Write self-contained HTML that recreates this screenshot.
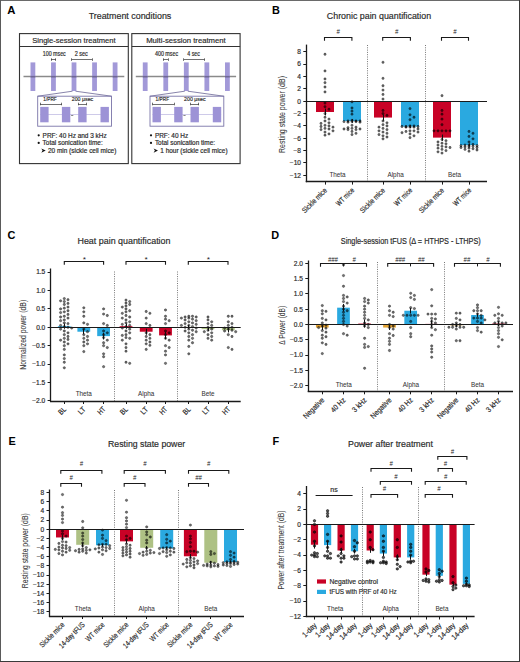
<!DOCTYPE html>
<html><head><meta charset="utf-8"><style>
html,body{margin:0;padding:0;background:#fff;}
svg{display:block;font-family:"Liberation Sans", sans-serif;}
</style></head><body>
<svg width="520" height="662" viewBox="0 0 520 662">
<rect x="0" y="0" width="520" height="662" fill="#fff"/>
<rect x="0" y="0" width="520" height="1" fill="#6a6a6a"/>
<rect x="0" y="0" width="1" height="662" fill="#5a5a5a"/>
<rect x="519" y="0" width="1" height="662" fill="#3a3a3a"/>
<rect x="0" y="661" width="520" height="1" fill="#3a3a3a"/>
<text x="7.2" y="13.7" font-size="11.3" text-anchor="start" fill="#000" font-weight="bold">A</text>
<text x="130" y="19.2" font-size="9.6" text-anchor="middle" fill="#2a2a2a" stroke="#2a2a2a" stroke-width="0.18" textLength="82.6" lengthAdjust="spacingAndGlyphs">Treatment conditions</text>
<rect x="19.5" y="33.6" width="108.8" height="130" fill="none" stroke="#333" stroke-width="1.1"/>
<line x1="19.5" y1="46.5" x2="128.3" y2="46.5" stroke="#333" stroke-width="1.1"/>
<text x="73.9" y="42.6" font-size="8" text-anchor="middle" fill="#2a2a2a" stroke="#2a2a2a" stroke-width="0.18" textLength="83.4" lengthAdjust="spacingAndGlyphs">Single-session treatment</text>
<line x1="23.5" y1="76.5" x2="124.3" y2="76.5" stroke="#8a8a8a" stroke-width="1.6"/>
<rect x="30.5" y="62.4" width="4.8" height="28.6" fill="#9d93d6" opacity="0.95"/>
<rect x="51.05" y="62.4" width="4.8" height="28.6" fill="#9d93d6" opacity="0.95"/>
<rect x="71.6" y="62.4" width="4.8" height="28.6" fill="#9d93d6" opacity="0.95"/>
<rect x="92.15" y="62.4" width="4.8" height="28.6" fill="#9d93d6" opacity="0.95"/>
<rect x="112.7" y="62.4" width="4.8" height="28.6" fill="#9d93d6" opacity="0.95"/>
<rect x="30.5" y="75.9" width="4.8" height="1.6" fill="#6f6796"/>
<rect x="51.05" y="75.9" width="4.8" height="1.6" fill="#6f6796"/>
<rect x="71.6" y="75.9" width="4.8" height="1.6" fill="#6f6796"/>
<rect x="92.15" y="75.9" width="4.8" height="1.6" fill="#6f6796"/>
<rect x="112.7" y="75.9" width="4.8" height="1.6" fill="#6f6796"/>
<text x="54.25" y="56.4" font-size="6.5" text-anchor="middle" fill="#2a2a2a" stroke="#2a2a2a" stroke-width="0.18" textLength="23" lengthAdjust="spacingAndGlyphs">100 msec</text>
<text x="81.28" y="56.4" font-size="6.5" text-anchor="middle" fill="#2a2a2a" stroke="#2a2a2a" stroke-width="0.18" textLength="13.2" lengthAdjust="spacingAndGlyphs">2 sec</text>
<line x1="51.05" y1="59.5" x2="55.85" y2="59.5" stroke="#333" stroke-width="0.7"/>
<line x1="51.5" y1="58.3" x2="51.5" y2="60.9" stroke="#333" stroke-width="0.7"/>
<line x1="55.5" y1="58.3" x2="55.5" y2="60.9" stroke="#333" stroke-width="0.7"/>
<line x1="71.6" y1="59.5" x2="92.15" y2="59.5" stroke="#333" stroke-width="0.7"/>
<line x1="71.5" y1="58.3" x2="71.5" y2="60.9" stroke="#333" stroke-width="0.7"/>
<line x1="92.5" y1="58.3" x2="92.5" y2="60.9" stroke="#333" stroke-width="0.7"/>
<line x1="72.5" y1="91.2" x2="37.7" y2="96.2" stroke="#6a6496" stroke-width="0.8"/>
<line x1="75.5" y1="91.2" x2="111.5" y2="96.2" stroke="#6a6496" stroke-width="0.8"/>
<rect x="37.7" y="96.2" width="73.8" height="30" fill="none" stroke="#7a74a8" stroke-width="0.9"/>
<line x1="40.2" y1="114.5" x2="108.8" y2="114.5" stroke="#b9b3e0" stroke-width="0.7"/>
<rect x="40.2" y="106.9" width="8.4" height="15.4" fill="#9d93d6"/>
<rect x="61.9" y="106.9" width="8.4" height="15.4" fill="#9d93d6"/>
<rect x="78.2" y="106.9" width="8.4" height="15.4" fill="#9d93d6"/>
<rect x="100.5" y="106.9" width="8.4" height="15.4" fill="#9d93d6"/>
<line x1="71.1" y1="115.5" x2="73.3" y2="115.5" stroke="#555" stroke-width="0.7"/>
<text x="50" y="101.4" font-size="5.9" text-anchor="middle" fill="#2a2a2a" stroke="#2a2a2a" stroke-width="0.18" textLength="13.5" lengthAdjust="spacingAndGlyphs">1/PRF</text>
<text x="82.5" y="101.4" font-size="6.0" text-anchor="middle" fill="#2a2a2a" stroke="#2a2a2a" stroke-width="0.18" textLength="21.5" lengthAdjust="spacingAndGlyphs">200 μsec</text>
<line x1="40.2" y1="104.5" x2="61.9" y2="104.5" stroke="#333" stroke-width="0.7"/>
<line x1="40.5" y1="102.7" x2="40.5" y2="105.3" stroke="#333" stroke-width="0.7"/>
<line x1="61.5" y1="102.7" x2="61.5" y2="105.3" stroke="#333" stroke-width="0.7"/>
<line x1="78.2" y1="104.5" x2="86.6" y2="104.5" stroke="#333" stroke-width="0.7"/>
<line x1="78.5" y1="102.7" x2="78.5" y2="105.3" stroke="#333" stroke-width="0.7"/>
<line x1="86.5" y1="102.7" x2="86.5" y2="105.3" stroke="#333" stroke-width="0.7"/>
<circle cx="38.7" cy="135.3" r="1.1" fill="#111"/>
<text x="42.6" y="137.6" font-size="6.45" text-anchor="start" fill="#2a2a2a" stroke="#2a2a2a" stroke-width="0.18">PRF: 40 Hz and 3 kHz</text>
<circle cx="38.7" cy="142.9" r="1.1" fill="#111"/>
<text x="42.6" y="145.2" font-size="6.45" text-anchor="start" fill="#2a2a2a" stroke="#2a2a2a" stroke-width="0.18">Total sonication time:</text>
<path d="M41.3 148.4 L45.7 150.6 L41.3 152.7 L42.6 150.6 Z" stroke="none" stroke-width="0" fill="#111"/>
<text x="48" y="152.8" font-size="6.45" text-anchor="start" fill="#2a2a2a" stroke="#2a2a2a" stroke-width="0.18">20 min (sickle cell mice)</text>
<rect x="131.8" y="33.6" width="108.3" height="130" fill="none" stroke="#333" stroke-width="1.1"/>
<line x1="131.8" y1="46.5" x2="240.1" y2="46.5" stroke="#333" stroke-width="1.1"/>
<text x="185.95" y="42.6" font-size="8" text-anchor="middle" fill="#2a2a2a" stroke="#2a2a2a" stroke-width="0.18" textLength="79.6" lengthAdjust="spacingAndGlyphs">Multi-session treatment</text>
<line x1="135.8" y1="76.5" x2="236.1" y2="76.5" stroke="#8a8a8a" stroke-width="1.6"/>
<rect x="142.8" y="62.4" width="4.8" height="28.6" fill="#9d93d6" opacity="0.95"/>
<rect x="163.35" y="62.4" width="4.8" height="28.6" fill="#9d93d6" opacity="0.95"/>
<rect x="183.9" y="62.4" width="4.8" height="28.6" fill="#9d93d6" opacity="0.95"/>
<rect x="204.45" y="62.4" width="4.8" height="28.6" fill="#9d93d6" opacity="0.95"/>
<rect x="225" y="62.4" width="4.8" height="28.6" fill="#9d93d6" opacity="0.95"/>
<rect x="142.8" y="75.9" width="4.8" height="1.6" fill="#6f6796"/>
<rect x="163.35" y="75.9" width="4.8" height="1.6" fill="#6f6796"/>
<rect x="183.9" y="75.9" width="4.8" height="1.6" fill="#6f6796"/>
<rect x="204.45" y="75.9" width="4.8" height="1.6" fill="#6f6796"/>
<rect x="225" y="75.9" width="4.8" height="1.6" fill="#6f6796"/>
<text x="166.55" y="56.4" font-size="6.5" text-anchor="middle" fill="#2a2a2a" stroke="#2a2a2a" stroke-width="0.18" textLength="23.2" lengthAdjust="spacingAndGlyphs">400 msec</text>
<text x="193.58" y="56.4" font-size="6.5" text-anchor="middle" fill="#2a2a2a" stroke="#2a2a2a" stroke-width="0.18" textLength="12.7" lengthAdjust="spacingAndGlyphs">4 sec</text>
<line x1="163.35" y1="59.5" x2="168.15" y2="59.5" stroke="#333" stroke-width="0.7"/>
<line x1="163.5" y1="58.3" x2="163.5" y2="60.9" stroke="#333" stroke-width="0.7"/>
<line x1="168.5" y1="58.3" x2="168.5" y2="60.9" stroke="#333" stroke-width="0.7"/>
<line x1="183.9" y1="59.5" x2="204.45" y2="59.5" stroke="#333" stroke-width="0.7"/>
<line x1="183.5" y1="58.3" x2="183.5" y2="60.9" stroke="#333" stroke-width="0.7"/>
<line x1="204.5" y1="58.3" x2="204.5" y2="60.9" stroke="#333" stroke-width="0.7"/>
<line x1="184.8" y1="91.2" x2="150" y2="96.2" stroke="#6a6496" stroke-width="0.8"/>
<line x1="187.8" y1="91.2" x2="223.8" y2="96.2" stroke="#6a6496" stroke-width="0.8"/>
<rect x="150" y="96.2" width="73.8" height="30" fill="none" stroke="#7a74a8" stroke-width="0.9"/>
<line x1="152.5" y1="114.5" x2="221.1" y2="114.5" stroke="#b9b3e0" stroke-width="0.7"/>
<rect x="152.5" y="106.9" width="8.4" height="15.4" fill="#9d93d6"/>
<rect x="174.2" y="106.9" width="8.4" height="15.4" fill="#9d93d6"/>
<rect x="190.5" y="106.9" width="8.4" height="15.4" fill="#9d93d6"/>
<rect x="212.8" y="106.9" width="8.4" height="15.4" fill="#9d93d6"/>
<line x1="183.4" y1="115.5" x2="185.6" y2="115.5" stroke="#555" stroke-width="0.7"/>
<text x="162.3" y="101.4" font-size="5.9" text-anchor="middle" fill="#2a2a2a" stroke="#2a2a2a" stroke-width="0.18" textLength="13.5" lengthAdjust="spacingAndGlyphs">1/PRF</text>
<text x="194.8" y="101.4" font-size="6.0" text-anchor="middle" fill="#2a2a2a" stroke="#2a2a2a" stroke-width="0.18" textLength="21.5" lengthAdjust="spacingAndGlyphs">200 μsec</text>
<line x1="152.5" y1="104.5" x2="174.2" y2="104.5" stroke="#333" stroke-width="0.7"/>
<line x1="152.5" y1="102.7" x2="152.5" y2="105.3" stroke="#333" stroke-width="0.7"/>
<line x1="174.5" y1="102.7" x2="174.5" y2="105.3" stroke="#333" stroke-width="0.7"/>
<line x1="190.5" y1="104.5" x2="198.9" y2="104.5" stroke="#333" stroke-width="0.7"/>
<line x1="190.5" y1="102.7" x2="190.5" y2="105.3" stroke="#333" stroke-width="0.7"/>
<line x1="198.5" y1="102.7" x2="198.5" y2="105.3" stroke="#333" stroke-width="0.7"/>
<circle cx="151" cy="135.3" r="1.1" fill="#111"/>
<text x="154.9" y="137.6" font-size="6.45" text-anchor="start" fill="#2a2a2a" stroke="#2a2a2a" stroke-width="0.18">PRF: 40 Hz</text>
<circle cx="151" cy="142.9" r="1.1" fill="#111"/>
<text x="154.9" y="145.2" font-size="6.45" text-anchor="start" fill="#2a2a2a" stroke="#2a2a2a" stroke-width="0.18">Total sonication time:</text>
<path d="M153.6 148.4 L158 150.6 L153.6 152.7 L154.9 150.6 Z" stroke="none" stroke-width="0" fill="#111"/>
<text x="160.3" y="152.8" font-size="6.45" text-anchor="start" fill="#2a2a2a" stroke="#2a2a2a" stroke-width="0.18">1 hour (sickle cell mice)</text>
<text x="272" y="13.8" font-size="10.9" text-anchor="start" fill="#000" font-weight="bold">B</text>
<text x="379" y="19.4" font-size="9.6" text-anchor="middle" fill="#2a2a2a" stroke="#2a2a2a" stroke-width="0.18" textLength="104.3" lengthAdjust="spacingAndGlyphs">Chronic pain quantification</text>
<line x1="367.5" y1="45" x2="367.5" y2="181.6" stroke="#555" stroke-width="0.8" stroke-dasharray="1 1.3"/>
<line x1="425.5" y1="45" x2="425.5" y2="181.6" stroke="#555" stroke-width="0.8" stroke-dasharray="1 1.3"/>
<rect x="316" y="101.2" width="18" height="10.81" fill="#c80226"/>
<rect x="343" y="101.2" width="18" height="19.76" fill="#2aa9e0"/>
<rect x="374" y="101.2" width="18" height="16.36" fill="#c80226"/>
<rect x="401" y="101.2" width="18" height="25.32" fill="#2aa9e0"/>
<rect x="433" y="101.2" width="18" height="36.43" fill="#c80226"/>
<rect x="460" y="101.2" width="18" height="43.84" fill="#2aa9e0"/>
<circle cx="325" cy="54.27" r="1.15" fill="rgba(0,0,0,0.55)" stroke="rgba(0,0,0,0.62)" stroke-width="0.6"/>
<circle cx="325" cy="70.94" r="1.15" fill="rgba(0,0,0,0.55)" stroke="rgba(0,0,0,0.62)" stroke-width="0.6"/>
<circle cx="325" cy="78.97" r="1.15" fill="rgba(0,0,0,0.55)" stroke="rgba(0,0,0,0.62)" stroke-width="0.6"/>
<circle cx="325" cy="82.68" r="1.15" fill="rgba(0,0,0,0.55)" stroke="rgba(0,0,0,0.62)" stroke-width="0.6"/>
<circle cx="325" cy="87" r="1.15" fill="rgba(0,0,0,0.55)" stroke="rgba(0,0,0,0.62)" stroke-width="0.6"/>
<circle cx="325" cy="91.94" r="1.15" fill="rgba(0,0,0,0.55)" stroke="rgba(0,0,0,0.62)" stroke-width="0.6"/>
<circle cx="325" cy="103.05" r="1.15" fill="rgba(0,0,0,0.55)" stroke="rgba(0,0,0,0.62)" stroke-width="0.6"/>
<circle cx="325" cy="106.76" r="1.15" fill="rgba(0,0,0,0.55)" stroke="rgba(0,0,0,0.62)" stroke-width="0.6"/>
<circle cx="329" cy="109.23" r="1.15" fill="rgba(0,0,0,0.55)" stroke="rgba(0,0,0,0.62)" stroke-width="0.6"/>
<circle cx="325" cy="113.55" r="1.15" fill="rgba(0,0,0,0.55)" stroke="rgba(0,0,0,0.62)" stroke-width="0.6"/>
<circle cx="325" cy="117.25" r="1.15" fill="rgba(0,0,0,0.55)" stroke="rgba(0,0,0,0.62)" stroke-width="0.6"/>
<circle cx="329" cy="119.11" r="1.15" fill="rgba(0,0,0,0.55)" stroke="rgba(0,0,0,0.62)" stroke-width="0.6"/>
<circle cx="325" cy="120.96" r="1.15" fill="rgba(0,0,0,0.55)" stroke="rgba(0,0,0,0.62)" stroke-width="0.6"/>
<circle cx="329" cy="122.81" r="1.15" fill="rgba(0,0,0,0.55)" stroke="rgba(0,0,0,0.62)" stroke-width="0.6"/>
<circle cx="321" cy="123.43" r="1.15" fill="rgba(0,0,0,0.55)" stroke="rgba(0,0,0,0.62)" stroke-width="0.6"/>
<circle cx="325" cy="125.28" r="1.15" fill="rgba(0,0,0,0.55)" stroke="rgba(0,0,0,0.62)" stroke-width="0.6"/>
<circle cx="329" cy="125.9" r="1.15" fill="rgba(0,0,0,0.55)" stroke="rgba(0,0,0,0.62)" stroke-width="0.6"/>
<circle cx="321" cy="126.52" r="1.15" fill="rgba(0,0,0,0.55)" stroke="rgba(0,0,0,0.62)" stroke-width="0.6"/>
<circle cx="333" cy="127.14" r="1.15" fill="rgba(0,0,0,0.55)" stroke="rgba(0,0,0,0.62)" stroke-width="0.6"/>
<circle cx="325" cy="128.37" r="1.15" fill="rgba(0,0,0,0.55)" stroke="rgba(0,0,0,0.62)" stroke-width="0.6"/>
<circle cx="329" cy="128.99" r="1.15" fill="rgba(0,0,0,0.55)" stroke="rgba(0,0,0,0.62)" stroke-width="0.6"/>
<circle cx="321" cy="129.6" r="1.15" fill="rgba(0,0,0,0.55)" stroke="rgba(0,0,0,0.62)" stroke-width="0.6"/>
<circle cx="333" cy="130.84" r="1.15" fill="rgba(0,0,0,0.55)" stroke="rgba(0,0,0,0.62)" stroke-width="0.6"/>
<circle cx="325" cy="132.07" r="1.15" fill="rgba(0,0,0,0.55)" stroke="rgba(0,0,0,0.62)" stroke-width="0.6"/>
<circle cx="329" cy="133.93" r="1.15" fill="rgba(0,0,0,0.55)" stroke="rgba(0,0,0,0.62)" stroke-width="0.6"/>
<circle cx="325" cy="135.16" r="1.15" fill="rgba(0,0,0,0.55)" stroke="rgba(0,0,0,0.62)" stroke-width="0.6"/>
<circle cx="352" cy="101.82" r="1.15" fill="rgba(0,0,0,0.55)" stroke="rgba(0,0,0,0.62)" stroke-width="0.6"/>
<circle cx="352" cy="107.99" r="1.15" fill="rgba(0,0,0,0.55)" stroke="rgba(0,0,0,0.62)" stroke-width="0.6"/>
<circle cx="352" cy="111.08" r="1.15" fill="rgba(0,0,0,0.55)" stroke="rgba(0,0,0,0.62)" stroke-width="0.6"/>
<circle cx="352" cy="114.17" r="1.15" fill="rgba(0,0,0,0.55)" stroke="rgba(0,0,0,0.62)" stroke-width="0.6"/>
<circle cx="352" cy="120.34" r="1.15" fill="rgba(0,0,0,0.55)" stroke="rgba(0,0,0,0.62)" stroke-width="0.6"/>
<circle cx="356" cy="120.96" r="1.15" fill="rgba(0,0,0,0.55)" stroke="rgba(0,0,0,0.62)" stroke-width="0.6"/>
<circle cx="348" cy="120.96" r="1.15" fill="rgba(0,0,0,0.55)" stroke="rgba(0,0,0,0.62)" stroke-width="0.6"/>
<circle cx="360" cy="120.96" r="1.15" fill="rgba(0,0,0,0.55)" stroke="rgba(0,0,0,0.62)" stroke-width="0.6"/>
<circle cx="344" cy="121.58" r="1.15" fill="rgba(0,0,0,0.55)" stroke="rgba(0,0,0,0.62)" stroke-width="0.6"/>
<circle cx="352" cy="121.58" r="1.15" fill="rgba(0,0,0,0.55)" stroke="rgba(0,0,0,0.62)" stroke-width="0.6"/>
<circle cx="356" cy="121.58" r="1.15" fill="rgba(0,0,0,0.55)" stroke="rgba(0,0,0,0.62)" stroke-width="0.6"/>
<circle cx="348" cy="122.19" r="1.15" fill="rgba(0,0,0,0.55)" stroke="rgba(0,0,0,0.62)" stroke-width="0.6"/>
<circle cx="360" cy="122.19" r="1.15" fill="rgba(0,0,0,0.55)" stroke="rgba(0,0,0,0.62)" stroke-width="0.6"/>
<circle cx="352" cy="125.28" r="1.15" fill="rgba(0,0,0,0.55)" stroke="rgba(0,0,0,0.62)" stroke-width="0.6"/>
<circle cx="356" cy="127.14" r="1.15" fill="rgba(0,0,0,0.55)" stroke="rgba(0,0,0,0.62)" stroke-width="0.6"/>
<circle cx="348" cy="127.75" r="1.15" fill="rgba(0,0,0,0.55)" stroke="rgba(0,0,0,0.62)" stroke-width="0.6"/>
<circle cx="352" cy="128.37" r="1.15" fill="rgba(0,0,0,0.55)" stroke="rgba(0,0,0,0.62)" stroke-width="0.6"/>
<circle cx="360" cy="128.99" r="1.15" fill="rgba(0,0,0,0.55)" stroke="rgba(0,0,0,0.62)" stroke-width="0.6"/>
<circle cx="344" cy="128.99" r="1.15" fill="rgba(0,0,0,0.55)" stroke="rgba(0,0,0,0.62)" stroke-width="0.6"/>
<circle cx="356" cy="129.6" r="1.15" fill="rgba(0,0,0,0.55)" stroke="rgba(0,0,0,0.62)" stroke-width="0.6"/>
<circle cx="348" cy="129.6" r="1.15" fill="rgba(0,0,0,0.55)" stroke="rgba(0,0,0,0.62)" stroke-width="0.6"/>
<circle cx="352" cy="131.46" r="1.15" fill="rgba(0,0,0,0.55)" stroke="rgba(0,0,0,0.62)" stroke-width="0.6"/>
<circle cx="356" cy="133.31" r="1.15" fill="rgba(0,0,0,0.55)" stroke="rgba(0,0,0,0.62)" stroke-width="0.6"/>
<circle cx="352" cy="134.55" r="1.15" fill="rgba(0,0,0,0.55)" stroke="rgba(0,0,0,0.62)" stroke-width="0.6"/>
<circle cx="383" cy="62.3" r="1.15" fill="rgba(0,0,0,0.55)" stroke="rgba(0,0,0,0.62)" stroke-width="0.6"/>
<circle cx="383" cy="78.35" r="1.15" fill="rgba(0,0,0,0.55)" stroke="rgba(0,0,0,0.62)" stroke-width="0.6"/>
<circle cx="383" cy="85.76" r="1.15" fill="rgba(0,0,0,0.55)" stroke="rgba(0,0,0,0.62)" stroke-width="0.6"/>
<circle cx="383" cy="90.09" r="1.15" fill="rgba(0,0,0,0.55)" stroke="rgba(0,0,0,0.62)" stroke-width="0.6"/>
<circle cx="383" cy="94.41" r="1.15" fill="rgba(0,0,0,0.55)" stroke="rgba(0,0,0,0.62)" stroke-width="0.6"/>
<circle cx="383" cy="99.04" r="1.15" fill="rgba(0,0,0,0.55)" stroke="rgba(0,0,0,0.62)" stroke-width="0.6"/>
<circle cx="383" cy="110.46" r="1.15" fill="rgba(0,0,0,0.55)" stroke="rgba(0,0,0,0.62)" stroke-width="0.6"/>
<circle cx="383" cy="113.55" r="1.15" fill="rgba(0,0,0,0.55)" stroke="rgba(0,0,0,0.62)" stroke-width="0.6"/>
<circle cx="387" cy="115.4" r="1.15" fill="rgba(0,0,0,0.55)" stroke="rgba(0,0,0,0.62)" stroke-width="0.6"/>
<circle cx="383" cy="120.96" r="1.15" fill="rgba(0,0,0,0.55)" stroke="rgba(0,0,0,0.62)" stroke-width="0.6"/>
<circle cx="387" cy="122.81" r="1.15" fill="rgba(0,0,0,0.55)" stroke="rgba(0,0,0,0.62)" stroke-width="0.6"/>
<circle cx="383" cy="124.67" r="1.15" fill="rgba(0,0,0,0.55)" stroke="rgba(0,0,0,0.62)" stroke-width="0.6"/>
<circle cx="387" cy="125.9" r="1.15" fill="rgba(0,0,0,0.55)" stroke="rgba(0,0,0,0.62)" stroke-width="0.6"/>
<circle cx="379" cy="127.14" r="1.15" fill="rgba(0,0,0,0.55)" stroke="rgba(0,0,0,0.62)" stroke-width="0.6"/>
<circle cx="383" cy="128.37" r="1.15" fill="rgba(0,0,0,0.55)" stroke="rgba(0,0,0,0.62)" stroke-width="0.6"/>
<circle cx="387" cy="129.6" r="1.15" fill="rgba(0,0,0,0.55)" stroke="rgba(0,0,0,0.62)" stroke-width="0.6"/>
<circle cx="379" cy="130.84" r="1.15" fill="rgba(0,0,0,0.55)" stroke="rgba(0,0,0,0.62)" stroke-width="0.6"/>
<circle cx="383" cy="132.07" r="1.15" fill="rgba(0,0,0,0.55)" stroke="rgba(0,0,0,0.62)" stroke-width="0.6"/>
<circle cx="387" cy="133.31" r="1.15" fill="rgba(0,0,0,0.55)" stroke="rgba(0,0,0,0.62)" stroke-width="0.6"/>
<circle cx="379" cy="134.55" r="1.15" fill="rgba(0,0,0,0.55)" stroke="rgba(0,0,0,0.62)" stroke-width="0.6"/>
<circle cx="383" cy="135.78" r="1.15" fill="rgba(0,0,0,0.55)" stroke="rgba(0,0,0,0.62)" stroke-width="0.6"/>
<circle cx="387" cy="137.01" r="1.15" fill="rgba(0,0,0,0.55)" stroke="rgba(0,0,0,0.62)" stroke-width="0.6"/>
<circle cx="383" cy="138.87" r="1.15" fill="rgba(0,0,0,0.55)" stroke="rgba(0,0,0,0.62)" stroke-width="0.6"/>
<circle cx="410" cy="108.61" r="1.15" fill="rgba(0,0,0,0.55)" stroke="rgba(0,0,0,0.62)" stroke-width="0.6"/>
<circle cx="410" cy="114.78" r="1.15" fill="rgba(0,0,0,0.55)" stroke="rgba(0,0,0,0.62)" stroke-width="0.6"/>
<circle cx="414" cy="117.25" r="1.15" fill="rgba(0,0,0,0.55)" stroke="rgba(0,0,0,0.62)" stroke-width="0.6"/>
<circle cx="410" cy="119.72" r="1.15" fill="rgba(0,0,0,0.55)" stroke="rgba(0,0,0,0.62)" stroke-width="0.6"/>
<circle cx="410" cy="125.9" r="1.15" fill="rgba(0,0,0,0.55)" stroke="rgba(0,0,0,0.62)" stroke-width="0.6"/>
<circle cx="414" cy="125.9" r="1.15" fill="rgba(0,0,0,0.55)" stroke="rgba(0,0,0,0.62)" stroke-width="0.6"/>
<circle cx="406" cy="126.52" r="1.15" fill="rgba(0,0,0,0.55)" stroke="rgba(0,0,0,0.62)" stroke-width="0.6"/>
<circle cx="418" cy="126.52" r="1.15" fill="rgba(0,0,0,0.55)" stroke="rgba(0,0,0,0.62)" stroke-width="0.6"/>
<circle cx="402" cy="126.52" r="1.15" fill="rgba(0,0,0,0.55)" stroke="rgba(0,0,0,0.62)" stroke-width="0.6"/>
<circle cx="410" cy="127.14" r="1.15" fill="rgba(0,0,0,0.55)" stroke="rgba(0,0,0,0.62)" stroke-width="0.6"/>
<circle cx="414" cy="127.14" r="1.15" fill="rgba(0,0,0,0.55)" stroke="rgba(0,0,0,0.62)" stroke-width="0.6"/>
<circle cx="406" cy="127.14" r="1.15" fill="rgba(0,0,0,0.55)" stroke="rgba(0,0,0,0.62)" stroke-width="0.6"/>
<circle cx="418" cy="128.99" r="1.15" fill="rgba(0,0,0,0.55)" stroke="rgba(0,0,0,0.62)" stroke-width="0.6"/>
<circle cx="410" cy="130.84" r="1.15" fill="rgba(0,0,0,0.55)" stroke="rgba(0,0,0,0.62)" stroke-width="0.6"/>
<circle cx="414" cy="130.84" r="1.15" fill="rgba(0,0,0,0.55)" stroke="rgba(0,0,0,0.62)" stroke-width="0.6"/>
<circle cx="406" cy="131.46" r="1.15" fill="rgba(0,0,0,0.55)" stroke="rgba(0,0,0,0.62)" stroke-width="0.6"/>
<circle cx="418" cy="132.07" r="1.15" fill="rgba(0,0,0,0.55)" stroke="rgba(0,0,0,0.62)" stroke-width="0.6"/>
<circle cx="402" cy="132.69" r="1.15" fill="rgba(0,0,0,0.55)" stroke="rgba(0,0,0,0.62)" stroke-width="0.6"/>
<circle cx="410" cy="133.93" r="1.15" fill="rgba(0,0,0,0.55)" stroke="rgba(0,0,0,0.62)" stroke-width="0.6"/>
<circle cx="414" cy="135.78" r="1.15" fill="rgba(0,0,0,0.55)" stroke="rgba(0,0,0,0.62)" stroke-width="0.6"/>
<circle cx="410" cy="137.63" r="1.15" fill="rgba(0,0,0,0.55)" stroke="rgba(0,0,0,0.62)" stroke-width="0.6"/>
<circle cx="442" cy="95.64" r="1.15" fill="rgba(0,0,0,0.55)" stroke="rgba(0,0,0,0.62)" stroke-width="0.6"/>
<circle cx="442" cy="110.46" r="1.15" fill="rgba(0,0,0,0.55)" stroke="rgba(0,0,0,0.62)" stroke-width="0.6"/>
<circle cx="442" cy="114.17" r="1.15" fill="rgba(0,0,0,0.55)" stroke="rgba(0,0,0,0.62)" stroke-width="0.6"/>
<circle cx="442" cy="119.11" r="1.15" fill="rgba(0,0,0,0.55)" stroke="rgba(0,0,0,0.62)" stroke-width="0.6"/>
<circle cx="442" cy="124.67" r="1.15" fill="rgba(0,0,0,0.55)" stroke="rgba(0,0,0,0.62)" stroke-width="0.6"/>
<circle cx="442" cy="130.84" r="1.15" fill="rgba(0,0,0,0.55)" stroke="rgba(0,0,0,0.62)" stroke-width="0.6"/>
<circle cx="446" cy="130.84" r="1.15" fill="rgba(0,0,0,0.55)" stroke="rgba(0,0,0,0.62)" stroke-width="0.6"/>
<circle cx="438" cy="130.84" r="1.15" fill="rgba(0,0,0,0.55)" stroke="rgba(0,0,0,0.62)" stroke-width="0.6"/>
<circle cx="450" cy="130.84" r="1.15" fill="rgba(0,0,0,0.55)" stroke="rgba(0,0,0,0.62)" stroke-width="0.6"/>
<circle cx="434" cy="130.84" r="1.15" fill="rgba(0,0,0,0.55)" stroke="rgba(0,0,0,0.62)" stroke-width="0.6"/>
<circle cx="442" cy="139.49" r="1.15" fill="rgba(0,0,0,0.55)" stroke="rgba(0,0,0,0.62)" stroke-width="0.6"/>
<circle cx="446" cy="140.72" r="1.15" fill="rgba(0,0,0,0.55)" stroke="rgba(0,0,0,0.62)" stroke-width="0.6"/>
<circle cx="438" cy="141.95" r="1.15" fill="rgba(0,0,0,0.55)" stroke="rgba(0,0,0,0.62)" stroke-width="0.6"/>
<circle cx="442" cy="143.19" r="1.15" fill="rgba(0,0,0,0.55)" stroke="rgba(0,0,0,0.62)" stroke-width="0.6"/>
<circle cx="446" cy="143.81" r="1.15" fill="rgba(0,0,0,0.55)" stroke="rgba(0,0,0,0.62)" stroke-width="0.6"/>
<circle cx="438" cy="145.04" r="1.15" fill="rgba(0,0,0,0.55)" stroke="rgba(0,0,0,0.62)" stroke-width="0.6"/>
<circle cx="442" cy="146.28" r="1.15" fill="rgba(0,0,0,0.55)" stroke="rgba(0,0,0,0.62)" stroke-width="0.6"/>
<circle cx="446" cy="146.9" r="1.15" fill="rgba(0,0,0,0.55)" stroke="rgba(0,0,0,0.62)" stroke-width="0.6"/>
<circle cx="450" cy="147.51" r="1.15" fill="rgba(0,0,0,0.55)" stroke="rgba(0,0,0,0.62)" stroke-width="0.6"/>
<circle cx="438" cy="148.13" r="1.15" fill="rgba(0,0,0,0.55)" stroke="rgba(0,0,0,0.62)" stroke-width="0.6"/>
<circle cx="442" cy="149.37" r="1.15" fill="rgba(0,0,0,0.55)" stroke="rgba(0,0,0,0.62)" stroke-width="0.6"/>
<circle cx="446" cy="150.6" r="1.15" fill="rgba(0,0,0,0.55)" stroke="rgba(0,0,0,0.62)" stroke-width="0.6"/>
<circle cx="438" cy="151.83" r="1.15" fill="rgba(0,0,0,0.55)" stroke="rgba(0,0,0,0.62)" stroke-width="0.6"/>
<circle cx="442" cy="153.07" r="1.15" fill="rgba(0,0,0,0.55)" stroke="rgba(0,0,0,0.62)" stroke-width="0.6"/>
<circle cx="469" cy="131.46" r="1.15" fill="rgba(0,0,0,0.55)" stroke="rgba(0,0,0,0.62)" stroke-width="0.6"/>
<circle cx="473" cy="133.31" r="1.15" fill="rgba(0,0,0,0.55)" stroke="rgba(0,0,0,0.62)" stroke-width="0.6"/>
<circle cx="469" cy="136.4" r="1.15" fill="rgba(0,0,0,0.55)" stroke="rgba(0,0,0,0.62)" stroke-width="0.6"/>
<circle cx="473" cy="138.87" r="1.15" fill="rgba(0,0,0,0.55)" stroke="rgba(0,0,0,0.62)" stroke-width="0.6"/>
<circle cx="469" cy="141.95" r="1.15" fill="rgba(0,0,0,0.55)" stroke="rgba(0,0,0,0.62)" stroke-width="0.6"/>
<circle cx="473" cy="144.43" r="1.15" fill="rgba(0,0,0,0.55)" stroke="rgba(0,0,0,0.62)" stroke-width="0.6"/>
<circle cx="469" cy="145.04" r="1.15" fill="rgba(0,0,0,0.55)" stroke="rgba(0,0,0,0.62)" stroke-width="0.6"/>
<circle cx="465" cy="145.04" r="1.15" fill="rgba(0,0,0,0.55)" stroke="rgba(0,0,0,0.62)" stroke-width="0.6"/>
<circle cx="477" cy="145.66" r="1.15" fill="rgba(0,0,0,0.55)" stroke="rgba(0,0,0,0.62)" stroke-width="0.6"/>
<circle cx="461" cy="145.66" r="1.15" fill="rgba(0,0,0,0.55)" stroke="rgba(0,0,0,0.62)" stroke-width="0.6"/>
<circle cx="473" cy="146.28" r="1.15" fill="rgba(0,0,0,0.55)" stroke="rgba(0,0,0,0.62)" stroke-width="0.6"/>
<circle cx="469" cy="146.28" r="1.15" fill="rgba(0,0,0,0.55)" stroke="rgba(0,0,0,0.62)" stroke-width="0.6"/>
<circle cx="465" cy="146.9" r="1.15" fill="rgba(0,0,0,0.55)" stroke="rgba(0,0,0,0.62)" stroke-width="0.6"/>
<circle cx="477" cy="147.51" r="1.15" fill="rgba(0,0,0,0.55)" stroke="rgba(0,0,0,0.62)" stroke-width="0.6"/>
<circle cx="461" cy="147.51" r="1.15" fill="rgba(0,0,0,0.55)" stroke="rgba(0,0,0,0.62)" stroke-width="0.6"/>
<circle cx="469" cy="148.13" r="1.15" fill="rgba(0,0,0,0.55)" stroke="rgba(0,0,0,0.62)" stroke-width="0.6"/>
<circle cx="473" cy="148.75" r="1.15" fill="rgba(0,0,0,0.55)" stroke="rgba(0,0,0,0.62)" stroke-width="0.6"/>
<circle cx="465" cy="149.37" r="1.15" fill="rgba(0,0,0,0.55)" stroke="rgba(0,0,0,0.62)" stroke-width="0.6"/>
<circle cx="477" cy="149.98" r="1.15" fill="rgba(0,0,0,0.55)" stroke="rgba(0,0,0,0.62)" stroke-width="0.6"/>
<circle cx="469" cy="151.22" r="1.15" fill="rgba(0,0,0,0.55)" stroke="rgba(0,0,0,0.62)" stroke-width="0.6"/>
<line x1="325.5" y1="108.61" x2="325.5" y2="115.4" stroke="#111" stroke-width="1.0"/>
<line x1="352.5" y1="119.11" x2="352.5" y2="122.81" stroke="#111" stroke-width="1.0"/>
<line x1="383.5" y1="114.48" x2="383.5" y2="120.65" stroke="#111" stroke-width="1.0"/>
<line x1="410.5" y1="124.97" x2="410.5" y2="128.06" stroke="#111" stroke-width="1.0"/>
<line x1="442.5" y1="134.54" x2="442.5" y2="140.72" stroke="#111" stroke-width="1.0"/>
<line x1="469.5" y1="143.5" x2="469.5" y2="146.59" stroke="#111" stroke-width="1.0"/>
<line x1="306.3" y1="101.5" x2="487" y2="101.5" stroke="#1a1a1a" stroke-width="1.2"/>
<line x1="306.5" y1="44.6" x2="306.5" y2="182.2" stroke="#1a1a1a" stroke-width="1.3"/>
<line x1="303.3" y1="51.5" x2="306.3" y2="51.5" stroke="#1a1a1a" stroke-width="1"/>
<text x="301" y="54.1" font-size="6.6" text-anchor="end" fill="#2a2a2a" stroke="#2a2a2a" stroke-width="0.18">8</text>
<line x1="303.3" y1="64.5" x2="306.3" y2="64.5" stroke="#1a1a1a" stroke-width="1"/>
<text x="301" y="66.45" font-size="6.6" text-anchor="end" fill="#2a2a2a" stroke="#2a2a2a" stroke-width="0.18">6</text>
<line x1="303.3" y1="76.5" x2="306.3" y2="76.5" stroke="#1a1a1a" stroke-width="1"/>
<text x="301" y="78.8" font-size="6.6" text-anchor="end" fill="#2a2a2a" stroke="#2a2a2a" stroke-width="0.18">4</text>
<line x1="303.3" y1="88.5" x2="306.3" y2="88.5" stroke="#1a1a1a" stroke-width="1"/>
<text x="301" y="91.15" font-size="6.6" text-anchor="end" fill="#2a2a2a" stroke="#2a2a2a" stroke-width="0.18">2</text>
<line x1="303.3" y1="101.5" x2="306.3" y2="101.5" stroke="#1a1a1a" stroke-width="1"/>
<text x="301" y="103.5" font-size="6.6" text-anchor="end" fill="#2a2a2a" stroke="#2a2a2a" stroke-width="0.18">0</text>
<line x1="303.3" y1="113.5" x2="306.3" y2="113.5" stroke="#1a1a1a" stroke-width="1"/>
<text x="301" y="115.85" font-size="6.6" text-anchor="end" fill="#2a2a2a" stroke="#2a2a2a" stroke-width="0.18">−2</text>
<line x1="303.3" y1="125.5" x2="306.3" y2="125.5" stroke="#1a1a1a" stroke-width="1"/>
<text x="301" y="128.2" font-size="6.6" text-anchor="end" fill="#2a2a2a" stroke="#2a2a2a" stroke-width="0.18">−4</text>
<line x1="303.3" y1="138.5" x2="306.3" y2="138.5" stroke="#1a1a1a" stroke-width="1"/>
<text x="301" y="140.55" font-size="6.6" text-anchor="end" fill="#2a2a2a" stroke="#2a2a2a" stroke-width="0.18">−6</text>
<line x1="303.3" y1="150.5" x2="306.3" y2="150.5" stroke="#1a1a1a" stroke-width="1"/>
<text x="301" y="152.9" font-size="6.6" text-anchor="end" fill="#2a2a2a" stroke="#2a2a2a" stroke-width="0.18">−8</text>
<line x1="303.3" y1="162.5" x2="306.3" y2="162.5" stroke="#1a1a1a" stroke-width="1"/>
<text x="301" y="165.25" font-size="6.6" text-anchor="end" fill="#2a2a2a" stroke="#2a2a2a" stroke-width="0.18">−10</text>
<line x1="303.3" y1="175.5" x2="306.3" y2="175.5" stroke="#1a1a1a" stroke-width="1"/>
<text x="301" y="177.6" font-size="6.6" text-anchor="end" fill="#2a2a2a" stroke="#2a2a2a" stroke-width="0.18">−12</text>
<line x1="305.7" y1="181.5" x2="487" y2="181.5" stroke="#1a1a1a" stroke-width="1.3"/>
<line x1="325.5" y1="181.6" x2="325.5" y2="184.6" stroke="#1a1a1a" stroke-width="1"/>
<line x1="352.5" y1="181.6" x2="352.5" y2="184.6" stroke="#1a1a1a" stroke-width="1"/>
<line x1="383.5" y1="181.6" x2="383.5" y2="184.6" stroke="#1a1a1a" stroke-width="1"/>
<line x1="410.5" y1="181.6" x2="410.5" y2="184.6" stroke="#1a1a1a" stroke-width="1"/>
<line x1="442.5" y1="181.6" x2="442.5" y2="184.6" stroke="#1a1a1a" stroke-width="1"/>
<line x1="469.5" y1="181.6" x2="469.5" y2="184.6" stroke="#1a1a1a" stroke-width="1"/>
<text x="285" y="114.5" font-size="8.3" text-anchor="middle" fill="#383838" stroke="#383838" stroke-width="0.06" transform="rotate(-90 285 114.5)" textLength="77" lengthAdjust="spacingAndGlyphs">Resting state power (dB)</text>
<text x="337.5" y="176.8" font-size="7.2" text-anchor="middle" fill="#333" stroke="#333" stroke-width="0.05" textLength="16.2" lengthAdjust="spacingAndGlyphs">Theta</text>
<text x="395.6" y="176.8" font-size="7.2" text-anchor="middle" fill="#333" stroke="#333" stroke-width="0.05" textLength="16.21" lengthAdjust="spacingAndGlyphs">Alpha</text>
<text x="454.5" y="176.8" font-size="7.2" text-anchor="middle" fill="#333" stroke="#333" stroke-width="0.05" textLength="13.03" lengthAdjust="spacingAndGlyphs">Beta</text>
<text x="327.6" y="190.9" font-size="7.6" text-anchor="end" fill="#2a2a2a" stroke="#2a2a2a" stroke-width="0.18" transform="rotate(-45 327.6 190.9)" textLength="32" lengthAdjust="spacingAndGlyphs">Sickle mice</text>
<text x="354.6" y="190.9" font-size="7.6" text-anchor="end" fill="#2a2a2a" stroke="#2a2a2a" stroke-width="0.18" transform="rotate(-45 354.6 190.9)" textLength="22" lengthAdjust="spacingAndGlyphs">WT mice</text>
<text x="385.6" y="190.9" font-size="7.6" text-anchor="end" fill="#2a2a2a" stroke="#2a2a2a" stroke-width="0.18" transform="rotate(-45 385.6 190.9)" textLength="32" lengthAdjust="spacingAndGlyphs">Sickle mice</text>
<text x="412.6" y="190.9" font-size="7.6" text-anchor="end" fill="#2a2a2a" stroke="#2a2a2a" stroke-width="0.18" transform="rotate(-45 412.6 190.9)" textLength="22" lengthAdjust="spacingAndGlyphs">WT mice</text>
<text x="444.6" y="190.9" font-size="7.6" text-anchor="end" fill="#2a2a2a" stroke="#2a2a2a" stroke-width="0.18" transform="rotate(-45 444.6 190.9)" textLength="32" lengthAdjust="spacingAndGlyphs">Sickle mice</text>
<text x="471.6" y="190.9" font-size="7.6" text-anchor="end" fill="#2a2a2a" stroke="#2a2a2a" stroke-width="0.18" transform="rotate(-45 471.6 190.9)" textLength="22" lengthAdjust="spacingAndGlyphs">WT mice</text>
<path d="M324.5 40.8 V37.5 H351.9 V40.8" stroke="#1a1a1a" stroke-width="1.1" fill="none"/>
<text x="338.2" y="33.6" font-size="6.9" text-anchor="middle" fill="#1a1a1a" textLength="3.3" lengthAdjust="spacingAndGlyphs" font-style="italic">#</text>
<path d="M382.7 40.8 V37.5 H410.4 V40.8" stroke="#1a1a1a" stroke-width="1.1" fill="none"/>
<text x="396.55" y="33.6" font-size="6.9" text-anchor="middle" fill="#1a1a1a" textLength="3.3" lengthAdjust="spacingAndGlyphs" font-style="italic">#</text>
<path d="M441.5 40.8 V37.5 H468.5 V40.8" stroke="#1a1a1a" stroke-width="1.1" fill="none"/>
<text x="455" y="33.6" font-size="6.9" text-anchor="middle" fill="#1a1a1a" textLength="3.3" lengthAdjust="spacingAndGlyphs" font-style="italic">#</text>
<text x="7.5" y="238.8" font-size="10.9" text-anchor="start" fill="#000" font-weight="bold">C</text>
<text x="124" y="244" font-size="9.6" text-anchor="middle" fill="#2a2a2a" stroke="#2a2a2a" stroke-width="0.18" textLength="93" lengthAdjust="spacingAndGlyphs">Heat pain quantification</text>
<line x1="114.5" y1="271.5" x2="114.5" y2="401" stroke="#555" stroke-width="0.8" stroke-dasharray="1 1.3"/>
<line x1="177.5" y1="271.5" x2="177.5" y2="401" stroke="#555" stroke-width="0.8" stroke-dasharray="1 1.3"/>
<rect x="57.9" y="326.2" width="12.8" height="1.1" fill="#2aa9e0"/>
<rect x="77.4" y="327.3" width="12.8" height="4.42" fill="#2aa9e0"/>
<rect x="97.2" y="327.3" width="12.8" height="8.83" fill="#2aa9e0"/>
<rect x="119.6" y="326.2" width="12.8" height="1.1" fill="#c80226"/>
<rect x="139.8" y="327.3" width="12.8" height="4.42" fill="#c80226"/>
<rect x="159.1" y="327.3" width="12.8" height="8.1" fill="#c80226"/>
<rect x="182.4" y="326.93" width="12.8" height="0.8" fill="#aec486"/>
<rect x="201.6" y="327.3" width="12.8" height="1.84" fill="#aec486"/>
<rect x="221.9" y="327.3" width="12.8" height="2.94" fill="#aec486"/>
<circle cx="64.3" cy="298.6" r="1.15" fill="rgba(0,0,0,0.55)" stroke="rgba(0,0,0,0.62)" stroke-width="0.6"/>
<circle cx="68" cy="299.7" r="1.15" fill="rgba(0,0,0,0.55)" stroke="rgba(0,0,0,0.62)" stroke-width="0.6"/>
<circle cx="60.6" cy="300.8" r="1.15" fill="rgba(0,0,0,0.55)" stroke="rgba(0,0,0,0.62)" stroke-width="0.6"/>
<circle cx="64.3" cy="301.54" r="1.15" fill="rgba(0,0,0,0.55)" stroke="rgba(0,0,0,0.62)" stroke-width="0.6"/>
<circle cx="68" cy="303.38" r="1.15" fill="rgba(0,0,0,0.55)" stroke="rgba(0,0,0,0.62)" stroke-width="0.6"/>
<circle cx="64.3" cy="304.48" r="1.15" fill="rgba(0,0,0,0.55)" stroke="rgba(0,0,0,0.62)" stroke-width="0.6"/>
<circle cx="68" cy="307.06" r="1.15" fill="rgba(0,0,0,0.55)" stroke="rgba(0,0,0,0.62)" stroke-width="0.6"/>
<circle cx="64.3" cy="308.16" r="1.15" fill="rgba(0,0,0,0.55)" stroke="rgba(0,0,0,0.62)" stroke-width="0.6"/>
<circle cx="60.6" cy="308.9" r="1.15" fill="rgba(0,0,0,0.55)" stroke="rgba(0,0,0,0.62)" stroke-width="0.6"/>
<circle cx="68" cy="310.74" r="1.15" fill="rgba(0,0,0,0.55)" stroke="rgba(0,0,0,0.62)" stroke-width="0.6"/>
<circle cx="64.3" cy="311.84" r="1.15" fill="rgba(0,0,0,0.55)" stroke="rgba(0,0,0,0.62)" stroke-width="0.6"/>
<circle cx="60.6" cy="312.58" r="1.15" fill="rgba(0,0,0,0.55)" stroke="rgba(0,0,0,0.62)" stroke-width="0.6"/>
<circle cx="68" cy="314.42" r="1.15" fill="rgba(0,0,0,0.55)" stroke="rgba(0,0,0,0.62)" stroke-width="0.6"/>
<circle cx="64.3" cy="316.26" r="1.15" fill="rgba(0,0,0,0.55)" stroke="rgba(0,0,0,0.62)" stroke-width="0.6"/>
<circle cx="60.6" cy="317" r="1.15" fill="rgba(0,0,0,0.55)" stroke="rgba(0,0,0,0.62)" stroke-width="0.6"/>
<circle cx="68" cy="318.1" r="1.15" fill="rgba(0,0,0,0.55)" stroke="rgba(0,0,0,0.62)" stroke-width="0.6"/>
<circle cx="64.3" cy="319.94" r="1.15" fill="rgba(0,0,0,0.55)" stroke="rgba(0,0,0,0.62)" stroke-width="0.6"/>
<circle cx="60.6" cy="320.68" r="1.15" fill="rgba(0,0,0,0.55)" stroke="rgba(0,0,0,0.62)" stroke-width="0.6"/>
<circle cx="64.3" cy="322.88" r="1.15" fill="rgba(0,0,0,0.55)" stroke="rgba(0,0,0,0.62)" stroke-width="0.6"/>
<circle cx="68" cy="323.62" r="1.15" fill="rgba(0,0,0,0.55)" stroke="rgba(0,0,0,0.62)" stroke-width="0.6"/>
<circle cx="60.6" cy="325.46" r="1.15" fill="rgba(0,0,0,0.55)" stroke="rgba(0,0,0,0.62)" stroke-width="0.6"/>
<circle cx="64.3" cy="326.56" r="1.15" fill="rgba(0,0,0,0.55)" stroke="rgba(0,0,0,0.62)" stroke-width="0.6"/>
<circle cx="68" cy="327.3" r="1.15" fill="rgba(0,0,0,0.55)" stroke="rgba(0,0,0,0.62)" stroke-width="0.6"/>
<circle cx="71.7" cy="328.04" r="1.15" fill="rgba(0,0,0,0.55)" stroke="rgba(0,0,0,0.62)" stroke-width="0.6"/>
<circle cx="60.6" cy="329.14" r="1.15" fill="rgba(0,0,0,0.55)" stroke="rgba(0,0,0,0.62)" stroke-width="0.6"/>
<circle cx="64.3" cy="330.98" r="1.15" fill="rgba(0,0,0,0.55)" stroke="rgba(0,0,0,0.62)" stroke-width="0.6"/>
<circle cx="68" cy="332.82" r="1.15" fill="rgba(0,0,0,0.55)" stroke="rgba(0,0,0,0.62)" stroke-width="0.6"/>
<circle cx="64.3" cy="334.66" r="1.15" fill="rgba(0,0,0,0.55)" stroke="rgba(0,0,0,0.62)" stroke-width="0.6"/>
<circle cx="68" cy="336.5" r="1.15" fill="rgba(0,0,0,0.55)" stroke="rgba(0,0,0,0.62)" stroke-width="0.6"/>
<circle cx="64.3" cy="338.34" r="1.15" fill="rgba(0,0,0,0.55)" stroke="rgba(0,0,0,0.62)" stroke-width="0.6"/>
<circle cx="68" cy="339.44" r="1.15" fill="rgba(0,0,0,0.55)" stroke="rgba(0,0,0,0.62)" stroke-width="0.6"/>
<circle cx="60.6" cy="340.18" r="1.15" fill="rgba(0,0,0,0.55)" stroke="rgba(0,0,0,0.62)" stroke-width="0.6"/>
<circle cx="64.3" cy="342.02" r="1.15" fill="rgba(0,0,0,0.55)" stroke="rgba(0,0,0,0.62)" stroke-width="0.6"/>
<circle cx="68" cy="343.86" r="1.15" fill="rgba(0,0,0,0.55)" stroke="rgba(0,0,0,0.62)" stroke-width="0.6"/>
<circle cx="64.3" cy="345.7" r="1.15" fill="rgba(0,0,0,0.55)" stroke="rgba(0,0,0,0.62)" stroke-width="0.6"/>
<circle cx="64.3" cy="349.38" r="1.15" fill="rgba(0,0,0,0.55)" stroke="rgba(0,0,0,0.62)" stroke-width="0.6"/>
<circle cx="64.3" cy="354.9" r="1.15" fill="rgba(0,0,0,0.55)" stroke="rgba(0,0,0,0.62)" stroke-width="0.6"/>
<circle cx="64.3" cy="358.58" r="1.15" fill="rgba(0,0,0,0.55)" stroke="rgba(0,0,0,0.62)" stroke-width="0.6"/>
<circle cx="64.3" cy="362.26" r="1.15" fill="rgba(0,0,0,0.55)" stroke="rgba(0,0,0,0.62)" stroke-width="0.6"/>
<circle cx="64.3" cy="367.78" r="1.15" fill="rgba(0,0,0,0.55)" stroke="rgba(0,0,0,0.62)" stroke-width="0.6"/>
<circle cx="83.8" cy="307.8" r="1.15" fill="rgba(0,0,0,0.55)" stroke="rgba(0,0,0,0.62)" stroke-width="0.6"/>
<circle cx="83.8" cy="311.84" r="1.15" fill="rgba(0,0,0,0.55)" stroke="rgba(0,0,0,0.62)" stroke-width="0.6"/>
<circle cx="83.8" cy="316.26" r="1.15" fill="rgba(0,0,0,0.55)" stroke="rgba(0,0,0,0.62)" stroke-width="0.6"/>
<circle cx="83.8" cy="322.88" r="1.15" fill="rgba(0,0,0,0.55)" stroke="rgba(0,0,0,0.62)" stroke-width="0.6"/>
<circle cx="87.5" cy="324.36" r="1.15" fill="rgba(0,0,0,0.55)" stroke="rgba(0,0,0,0.62)" stroke-width="0.6"/>
<circle cx="83.8" cy="329.14" r="1.15" fill="rgba(0,0,0,0.55)" stroke="rgba(0,0,0,0.62)" stroke-width="0.6"/>
<circle cx="87.5" cy="331.72" r="1.15" fill="rgba(0,0,0,0.55)" stroke="rgba(0,0,0,0.62)" stroke-width="0.6"/>
<circle cx="83.8" cy="334.66" r="1.15" fill="rgba(0,0,0,0.55)" stroke="rgba(0,0,0,0.62)" stroke-width="0.6"/>
<circle cx="87.5" cy="336.5" r="1.15" fill="rgba(0,0,0,0.55)" stroke="rgba(0,0,0,0.62)" stroke-width="0.6"/>
<circle cx="83.8" cy="338.34" r="1.15" fill="rgba(0,0,0,0.55)" stroke="rgba(0,0,0,0.62)" stroke-width="0.6"/>
<circle cx="87.5" cy="340.18" r="1.15" fill="rgba(0,0,0,0.55)" stroke="rgba(0,0,0,0.62)" stroke-width="0.6"/>
<circle cx="83.8" cy="342.02" r="1.15" fill="rgba(0,0,0,0.55)" stroke="rgba(0,0,0,0.62)" stroke-width="0.6"/>
<circle cx="87.5" cy="343.86" r="1.15" fill="rgba(0,0,0,0.55)" stroke="rgba(0,0,0,0.62)" stroke-width="0.6"/>
<circle cx="83.8" cy="345.7" r="1.15" fill="rgba(0,0,0,0.55)" stroke="rgba(0,0,0,0.62)" stroke-width="0.6"/>
<circle cx="83.8" cy="351.59" r="1.15" fill="rgba(0,0,0,0.55)" stroke="rgba(0,0,0,0.62)" stroke-width="0.6"/>
<circle cx="103.6" cy="308.9" r="1.15" fill="rgba(0,0,0,0.55)" stroke="rgba(0,0,0,0.62)" stroke-width="0.6"/>
<circle cx="103.6" cy="314.05" r="1.15" fill="rgba(0,0,0,0.55)" stroke="rgba(0,0,0,0.62)" stroke-width="0.6"/>
<circle cx="107.3" cy="315.52" r="1.15" fill="rgba(0,0,0,0.55)" stroke="rgba(0,0,0,0.62)" stroke-width="0.6"/>
<circle cx="103.6" cy="323.62" r="1.15" fill="rgba(0,0,0,0.55)" stroke="rgba(0,0,0,0.62)" stroke-width="0.6"/>
<circle cx="107.3" cy="325.46" r="1.15" fill="rgba(0,0,0,0.55)" stroke="rgba(0,0,0,0.62)" stroke-width="0.6"/>
<circle cx="103.6" cy="330.98" r="1.15" fill="rgba(0,0,0,0.55)" stroke="rgba(0,0,0,0.62)" stroke-width="0.6"/>
<circle cx="107.3" cy="332.82" r="1.15" fill="rgba(0,0,0,0.55)" stroke="rgba(0,0,0,0.62)" stroke-width="0.6"/>
<circle cx="103.6" cy="334.66" r="1.15" fill="rgba(0,0,0,0.55)" stroke="rgba(0,0,0,0.62)" stroke-width="0.6"/>
<circle cx="103.6" cy="337.6" r="1.15" fill="rgba(0,0,0,0.55)" stroke="rgba(0,0,0,0.62)" stroke-width="0.6"/>
<circle cx="107.3" cy="340.18" r="1.15" fill="rgba(0,0,0,0.55)" stroke="rgba(0,0,0,0.62)" stroke-width="0.6"/>
<circle cx="103.6" cy="342.76" r="1.15" fill="rgba(0,0,0,0.55)" stroke="rgba(0,0,0,0.62)" stroke-width="0.6"/>
<circle cx="103.6" cy="345.7" r="1.15" fill="rgba(0,0,0,0.55)" stroke="rgba(0,0,0,0.62)" stroke-width="0.6"/>
<circle cx="107.3" cy="347.54" r="1.15" fill="rgba(0,0,0,0.55)" stroke="rgba(0,0,0,0.62)" stroke-width="0.6"/>
<circle cx="103.6" cy="353.8" r="1.15" fill="rgba(0,0,0,0.55)" stroke="rgba(0,0,0,0.62)" stroke-width="0.6"/>
<circle cx="103.6" cy="356.74" r="1.15" fill="rgba(0,0,0,0.55)" stroke="rgba(0,0,0,0.62)" stroke-width="0.6"/>
<circle cx="103.6" cy="366.68" r="1.15" fill="rgba(0,0,0,0.55)" stroke="rgba(0,0,0,0.62)" stroke-width="0.6"/>
<circle cx="126" cy="300.07" r="1.15" fill="rgba(0,0,0,0.55)" stroke="rgba(0,0,0,0.62)" stroke-width="0.6"/>
<circle cx="129.7" cy="301.54" r="1.15" fill="rgba(0,0,0,0.55)" stroke="rgba(0,0,0,0.62)" stroke-width="0.6"/>
<circle cx="126" cy="303.01" r="1.15" fill="rgba(0,0,0,0.55)" stroke="rgba(0,0,0,0.62)" stroke-width="0.6"/>
<circle cx="129.7" cy="304.48" r="1.15" fill="rgba(0,0,0,0.55)" stroke="rgba(0,0,0,0.62)" stroke-width="0.6"/>
<circle cx="126" cy="305.96" r="1.15" fill="rgba(0,0,0,0.55)" stroke="rgba(0,0,0,0.62)" stroke-width="0.6"/>
<circle cx="122.3" cy="307.06" r="1.15" fill="rgba(0,0,0,0.55)" stroke="rgba(0,0,0,0.62)" stroke-width="0.6"/>
<circle cx="126" cy="308.9" r="1.15" fill="rgba(0,0,0,0.55)" stroke="rgba(0,0,0,0.62)" stroke-width="0.6"/>
<circle cx="129.7" cy="310.74" r="1.15" fill="rgba(0,0,0,0.55)" stroke="rgba(0,0,0,0.62)" stroke-width="0.6"/>
<circle cx="126" cy="311.84" r="1.15" fill="rgba(0,0,0,0.55)" stroke="rgba(0,0,0,0.62)" stroke-width="0.6"/>
<circle cx="122.3" cy="313.32" r="1.15" fill="rgba(0,0,0,0.55)" stroke="rgba(0,0,0,0.62)" stroke-width="0.6"/>
<circle cx="126" cy="315.52" r="1.15" fill="rgba(0,0,0,0.55)" stroke="rgba(0,0,0,0.62)" stroke-width="0.6"/>
<circle cx="129.7" cy="317" r="1.15" fill="rgba(0,0,0,0.55)" stroke="rgba(0,0,0,0.62)" stroke-width="0.6"/>
<circle cx="122.3" cy="318.1" r="1.15" fill="rgba(0,0,0,0.55)" stroke="rgba(0,0,0,0.62)" stroke-width="0.6"/>
<circle cx="126" cy="319.94" r="1.15" fill="rgba(0,0,0,0.55)" stroke="rgba(0,0,0,0.62)" stroke-width="0.6"/>
<circle cx="129.7" cy="321.78" r="1.15" fill="rgba(0,0,0,0.55)" stroke="rgba(0,0,0,0.62)" stroke-width="0.6"/>
<circle cx="126" cy="322.88" r="1.15" fill="rgba(0,0,0,0.55)" stroke="rgba(0,0,0,0.62)" stroke-width="0.6"/>
<circle cx="122.3" cy="324.36" r="1.15" fill="rgba(0,0,0,0.55)" stroke="rgba(0,0,0,0.62)" stroke-width="0.6"/>
<circle cx="129.7" cy="325.46" r="1.15" fill="rgba(0,0,0,0.55)" stroke="rgba(0,0,0,0.62)" stroke-width="0.6"/>
<circle cx="126" cy="326.56" r="1.15" fill="rgba(0,0,0,0.55)" stroke="rgba(0,0,0,0.62)" stroke-width="0.6"/>
<circle cx="122.3" cy="328.04" r="1.15" fill="rgba(0,0,0,0.55)" stroke="rgba(0,0,0,0.62)" stroke-width="0.6"/>
<circle cx="129.7" cy="329.14" r="1.15" fill="rgba(0,0,0,0.55)" stroke="rgba(0,0,0,0.62)" stroke-width="0.6"/>
<circle cx="126" cy="330.98" r="1.15" fill="rgba(0,0,0,0.55)" stroke="rgba(0,0,0,0.62)" stroke-width="0.6"/>
<circle cx="129.7" cy="332.82" r="1.15" fill="rgba(0,0,0,0.55)" stroke="rgba(0,0,0,0.62)" stroke-width="0.6"/>
<circle cx="126" cy="334.66" r="1.15" fill="rgba(0,0,0,0.55)" stroke="rgba(0,0,0,0.62)" stroke-width="0.6"/>
<circle cx="122.3" cy="335.4" r="1.15" fill="rgba(0,0,0,0.55)" stroke="rgba(0,0,0,0.62)" stroke-width="0.6"/>
<circle cx="126" cy="337.6" r="1.15" fill="rgba(0,0,0,0.55)" stroke="rgba(0,0,0,0.62)" stroke-width="0.6"/>
<circle cx="129.7" cy="338.34" r="1.15" fill="rgba(0,0,0,0.55)" stroke="rgba(0,0,0,0.62)" stroke-width="0.6"/>
<circle cx="122.3" cy="340.18" r="1.15" fill="rgba(0,0,0,0.55)" stroke="rgba(0,0,0,0.62)" stroke-width="0.6"/>
<circle cx="126" cy="343.86" r="1.15" fill="rgba(0,0,0,0.55)" stroke="rgba(0,0,0,0.62)" stroke-width="0.6"/>
<circle cx="126" cy="347.54" r="1.15" fill="rgba(0,0,0,0.55)" stroke="rgba(0,0,0,0.62)" stroke-width="0.6"/>
<circle cx="126" cy="351.22" r="1.15" fill="rgba(0,0,0,0.55)" stroke="rgba(0,0,0,0.62)" stroke-width="0.6"/>
<circle cx="126" cy="362.26" r="1.15" fill="rgba(0,0,0,0.55)" stroke="rgba(0,0,0,0.62)" stroke-width="0.6"/>
<circle cx="129.7" cy="363.36" r="1.15" fill="rgba(0,0,0,0.55)" stroke="rgba(0,0,0,0.62)" stroke-width="0.6"/>
<circle cx="146.2" cy="311.48" r="1.15" fill="rgba(0,0,0,0.55)" stroke="rgba(0,0,0,0.62)" stroke-width="0.6"/>
<circle cx="149.9" cy="313.32" r="1.15" fill="rgba(0,0,0,0.55)" stroke="rgba(0,0,0,0.62)" stroke-width="0.6"/>
<circle cx="146.2" cy="318.1" r="1.15" fill="rgba(0,0,0,0.55)" stroke="rgba(0,0,0,0.62)" stroke-width="0.6"/>
<circle cx="146.2" cy="323.62" r="1.15" fill="rgba(0,0,0,0.55)" stroke="rgba(0,0,0,0.62)" stroke-width="0.6"/>
<circle cx="149.9" cy="325.46" r="1.15" fill="rgba(0,0,0,0.55)" stroke="rgba(0,0,0,0.62)" stroke-width="0.6"/>
<circle cx="146.2" cy="332.82" r="1.15" fill="rgba(0,0,0,0.55)" stroke="rgba(0,0,0,0.62)" stroke-width="0.6"/>
<circle cx="149.9" cy="334.66" r="1.15" fill="rgba(0,0,0,0.55)" stroke="rgba(0,0,0,0.62)" stroke-width="0.6"/>
<circle cx="146.2" cy="336.5" r="1.15" fill="rgba(0,0,0,0.55)" stroke="rgba(0,0,0,0.62)" stroke-width="0.6"/>
<circle cx="149.9" cy="338.34" r="1.15" fill="rgba(0,0,0,0.55)" stroke="rgba(0,0,0,0.62)" stroke-width="0.6"/>
<circle cx="146.2" cy="340.18" r="1.15" fill="rgba(0,0,0,0.55)" stroke="rgba(0,0,0,0.62)" stroke-width="0.6"/>
<circle cx="149.9" cy="342.02" r="1.15" fill="rgba(0,0,0,0.55)" stroke="rgba(0,0,0,0.62)" stroke-width="0.6"/>
<circle cx="146.2" cy="343.86" r="1.15" fill="rgba(0,0,0,0.55)" stroke="rgba(0,0,0,0.62)" stroke-width="0.6"/>
<circle cx="149.9" cy="345.33" r="1.15" fill="rgba(0,0,0,0.55)" stroke="rgba(0,0,0,0.62)" stroke-width="0.6"/>
<circle cx="146.2" cy="349.38" r="1.15" fill="rgba(0,0,0,0.55)" stroke="rgba(0,0,0,0.62)" stroke-width="0.6"/>
<circle cx="165.5" cy="310" r="1.15" fill="rgba(0,0,0,0.55)" stroke="rgba(0,0,0,0.62)" stroke-width="0.6"/>
<circle cx="165.5" cy="316.26" r="1.15" fill="rgba(0,0,0,0.55)" stroke="rgba(0,0,0,0.62)" stroke-width="0.6"/>
<circle cx="165.5" cy="319.2" r="1.15" fill="rgba(0,0,0,0.55)" stroke="rgba(0,0,0,0.62)" stroke-width="0.6"/>
<circle cx="169.2" cy="320.68" r="1.15" fill="rgba(0,0,0,0.55)" stroke="rgba(0,0,0,0.62)" stroke-width="0.6"/>
<circle cx="165.5" cy="323.62" r="1.15" fill="rgba(0,0,0,0.55)" stroke="rgba(0,0,0,0.62)" stroke-width="0.6"/>
<circle cx="165.5" cy="330.98" r="1.15" fill="rgba(0,0,0,0.55)" stroke="rgba(0,0,0,0.62)" stroke-width="0.6"/>
<circle cx="169.2" cy="332.82" r="1.15" fill="rgba(0,0,0,0.55)" stroke="rgba(0,0,0,0.62)" stroke-width="0.6"/>
<circle cx="165.5" cy="334.66" r="1.15" fill="rgba(0,0,0,0.55)" stroke="rgba(0,0,0,0.62)" stroke-width="0.6"/>
<circle cx="165.5" cy="338.34" r="1.15" fill="rgba(0,0,0,0.55)" stroke="rgba(0,0,0,0.62)" stroke-width="0.6"/>
<circle cx="169.2" cy="340.18" r="1.15" fill="rgba(0,0,0,0.55)" stroke="rgba(0,0,0,0.62)" stroke-width="0.6"/>
<circle cx="165.5" cy="345.7" r="1.15" fill="rgba(0,0,0,0.55)" stroke="rgba(0,0,0,0.62)" stroke-width="0.6"/>
<circle cx="169.2" cy="347.54" r="1.15" fill="rgba(0,0,0,0.55)" stroke="rgba(0,0,0,0.62)" stroke-width="0.6"/>
<circle cx="165.5" cy="351.22" r="1.15" fill="rgba(0,0,0,0.55)" stroke="rgba(0,0,0,0.62)" stroke-width="0.6"/>
<circle cx="165.5" cy="354.9" r="1.15" fill="rgba(0,0,0,0.55)" stroke="rgba(0,0,0,0.62)" stroke-width="0.6"/>
<circle cx="165.5" cy="363.36" r="1.15" fill="rgba(0,0,0,0.55)" stroke="rgba(0,0,0,0.62)" stroke-width="0.6"/>
<circle cx="188.8" cy="316.26" r="1.15" fill="rgba(0,0,0,0.55)" stroke="rgba(0,0,0,0.62)" stroke-width="0.6"/>
<circle cx="192.5" cy="316.26" r="1.15" fill="rgba(0,0,0,0.55)" stroke="rgba(0,0,0,0.62)" stroke-width="0.6"/>
<circle cx="185.1" cy="317" r="1.15" fill="rgba(0,0,0,0.55)" stroke="rgba(0,0,0,0.62)" stroke-width="0.6"/>
<circle cx="196.2" cy="317" r="1.15" fill="rgba(0,0,0,0.55)" stroke="rgba(0,0,0,0.62)" stroke-width="0.6"/>
<circle cx="181.4" cy="318.1" r="1.15" fill="rgba(0,0,0,0.55)" stroke="rgba(0,0,0,0.62)" stroke-width="0.6"/>
<circle cx="188.8" cy="318.1" r="1.15" fill="rgba(0,0,0,0.55)" stroke="rgba(0,0,0,0.62)" stroke-width="0.6"/>
<circle cx="192.5" cy="319.2" r="1.15" fill="rgba(0,0,0,0.55)" stroke="rgba(0,0,0,0.62)" stroke-width="0.6"/>
<circle cx="185.1" cy="319.94" r="1.15" fill="rgba(0,0,0,0.55)" stroke="rgba(0,0,0,0.62)" stroke-width="0.6"/>
<circle cx="196.2" cy="320.68" r="1.15" fill="rgba(0,0,0,0.55)" stroke="rgba(0,0,0,0.62)" stroke-width="0.6"/>
<circle cx="188.8" cy="321.78" r="1.15" fill="rgba(0,0,0,0.55)" stroke="rgba(0,0,0,0.62)" stroke-width="0.6"/>
<circle cx="192.5" cy="322.88" r="1.15" fill="rgba(0,0,0,0.55)" stroke="rgba(0,0,0,0.62)" stroke-width="0.6"/>
<circle cx="185.1" cy="323.62" r="1.15" fill="rgba(0,0,0,0.55)" stroke="rgba(0,0,0,0.62)" stroke-width="0.6"/>
<circle cx="196.2" cy="324.36" r="1.15" fill="rgba(0,0,0,0.55)" stroke="rgba(0,0,0,0.62)" stroke-width="0.6"/>
<circle cx="188.8" cy="325.46" r="1.15" fill="rgba(0,0,0,0.55)" stroke="rgba(0,0,0,0.62)" stroke-width="0.6"/>
<circle cx="181.4" cy="325.46" r="1.15" fill="rgba(0,0,0,0.55)" stroke="rgba(0,0,0,0.62)" stroke-width="0.6"/>
<circle cx="192.5" cy="326.56" r="1.15" fill="rgba(0,0,0,0.55)" stroke="rgba(0,0,0,0.62)" stroke-width="0.6"/>
<circle cx="185.1" cy="327.3" r="1.15" fill="rgba(0,0,0,0.55)" stroke="rgba(0,0,0,0.62)" stroke-width="0.6"/>
<circle cx="196.2" cy="328.04" r="1.15" fill="rgba(0,0,0,0.55)" stroke="rgba(0,0,0,0.62)" stroke-width="0.6"/>
<circle cx="188.8" cy="329.14" r="1.15" fill="rgba(0,0,0,0.55)" stroke="rgba(0,0,0,0.62)" stroke-width="0.6"/>
<circle cx="192.5" cy="330.24" r="1.15" fill="rgba(0,0,0,0.55)" stroke="rgba(0,0,0,0.62)" stroke-width="0.6"/>
<circle cx="185.1" cy="330.98" r="1.15" fill="rgba(0,0,0,0.55)" stroke="rgba(0,0,0,0.62)" stroke-width="0.6"/>
<circle cx="196.2" cy="331.72" r="1.15" fill="rgba(0,0,0,0.55)" stroke="rgba(0,0,0,0.62)" stroke-width="0.6"/>
<circle cx="188.8" cy="332.82" r="1.15" fill="rgba(0,0,0,0.55)" stroke="rgba(0,0,0,0.62)" stroke-width="0.6"/>
<circle cx="192.5" cy="334.66" r="1.15" fill="rgba(0,0,0,0.55)" stroke="rgba(0,0,0,0.62)" stroke-width="0.6"/>
<circle cx="188.8" cy="336.5" r="1.15" fill="rgba(0,0,0,0.55)" stroke="rgba(0,0,0,0.62)" stroke-width="0.6"/>
<circle cx="192.5" cy="338.34" r="1.15" fill="rgba(0,0,0,0.55)" stroke="rgba(0,0,0,0.62)" stroke-width="0.6"/>
<circle cx="188.8" cy="340.18" r="1.15" fill="rgba(0,0,0,0.55)" stroke="rgba(0,0,0,0.62)" stroke-width="0.6"/>
<circle cx="192.5" cy="342.76" r="1.15" fill="rgba(0,0,0,0.55)" stroke="rgba(0,0,0,0.62)" stroke-width="0.6"/>
<circle cx="188.8" cy="346.44" r="1.15" fill="rgba(0,0,0,0.55)" stroke="rgba(0,0,0,0.62)" stroke-width="0.6"/>
<circle cx="188.8" cy="353.8" r="1.15" fill="rgba(0,0,0,0.55)" stroke="rgba(0,0,0,0.62)" stroke-width="0.6"/>
<circle cx="208" cy="317" r="1.15" fill="rgba(0,0,0,0.55)" stroke="rgba(0,0,0,0.62)" stroke-width="0.6"/>
<circle cx="208" cy="319.94" r="1.15" fill="rgba(0,0,0,0.55)" stroke="rgba(0,0,0,0.62)" stroke-width="0.6"/>
<circle cx="211.7" cy="321.78" r="1.15" fill="rgba(0,0,0,0.55)" stroke="rgba(0,0,0,0.62)" stroke-width="0.6"/>
<circle cx="208" cy="323.62" r="1.15" fill="rgba(0,0,0,0.55)" stroke="rgba(0,0,0,0.62)" stroke-width="0.6"/>
<circle cx="211.7" cy="325.46" r="1.15" fill="rgba(0,0,0,0.55)" stroke="rgba(0,0,0,0.62)" stroke-width="0.6"/>
<circle cx="208" cy="327.3" r="1.15" fill="rgba(0,0,0,0.55)" stroke="rgba(0,0,0,0.62)" stroke-width="0.6"/>
<circle cx="211.7" cy="329.14" r="1.15" fill="rgba(0,0,0,0.55)" stroke="rgba(0,0,0,0.62)" stroke-width="0.6"/>
<circle cx="208" cy="330.24" r="1.15" fill="rgba(0,0,0,0.55)" stroke="rgba(0,0,0,0.62)" stroke-width="0.6"/>
<circle cx="204.3" cy="331.72" r="1.15" fill="rgba(0,0,0,0.55)" stroke="rgba(0,0,0,0.62)" stroke-width="0.6"/>
<circle cx="211.7" cy="332.82" r="1.15" fill="rgba(0,0,0,0.55)" stroke="rgba(0,0,0,0.62)" stroke-width="0.6"/>
<circle cx="208" cy="334.66" r="1.15" fill="rgba(0,0,0,0.55)" stroke="rgba(0,0,0,0.62)" stroke-width="0.6"/>
<circle cx="211.7" cy="336.5" r="1.15" fill="rgba(0,0,0,0.55)" stroke="rgba(0,0,0,0.62)" stroke-width="0.6"/>
<circle cx="208" cy="338.34" r="1.15" fill="rgba(0,0,0,0.55)" stroke="rgba(0,0,0,0.62)" stroke-width="0.6"/>
<circle cx="211.7" cy="340.18" r="1.15" fill="rgba(0,0,0,0.55)" stroke="rgba(0,0,0,0.62)" stroke-width="0.6"/>
<circle cx="228.3" cy="316.26" r="1.15" fill="rgba(0,0,0,0.55)" stroke="rgba(0,0,0,0.62)" stroke-width="0.6"/>
<circle cx="232" cy="316.26" r="1.15" fill="rgba(0,0,0,0.55)" stroke="rgba(0,0,0,0.62)" stroke-width="0.6"/>
<circle cx="228.3" cy="321.78" r="1.15" fill="rgba(0,0,0,0.55)" stroke="rgba(0,0,0,0.62)" stroke-width="0.6"/>
<circle cx="232" cy="323.62" r="1.15" fill="rgba(0,0,0,0.55)" stroke="rgba(0,0,0,0.62)" stroke-width="0.6"/>
<circle cx="228.3" cy="325.46" r="1.15" fill="rgba(0,0,0,0.55)" stroke="rgba(0,0,0,0.62)" stroke-width="0.6"/>
<circle cx="232" cy="327.3" r="1.15" fill="rgba(0,0,0,0.55)" stroke="rgba(0,0,0,0.62)" stroke-width="0.6"/>
<circle cx="224.6" cy="328.04" r="1.15" fill="rgba(0,0,0,0.55)" stroke="rgba(0,0,0,0.62)" stroke-width="0.6"/>
<circle cx="228.3" cy="329.14" r="1.15" fill="rgba(0,0,0,0.55)" stroke="rgba(0,0,0,0.62)" stroke-width="0.6"/>
<circle cx="232" cy="330.24" r="1.15" fill="rgba(0,0,0,0.55)" stroke="rgba(0,0,0,0.62)" stroke-width="0.6"/>
<circle cx="224.6" cy="330.98" r="1.15" fill="rgba(0,0,0,0.55)" stroke="rgba(0,0,0,0.62)" stroke-width="0.6"/>
<circle cx="235.7" cy="331.72" r="1.15" fill="rgba(0,0,0,0.55)" stroke="rgba(0,0,0,0.62)" stroke-width="0.6"/>
<circle cx="228.3" cy="334.66" r="1.15" fill="rgba(0,0,0,0.55)" stroke="rgba(0,0,0,0.62)" stroke-width="0.6"/>
<circle cx="232" cy="336.5" r="1.15" fill="rgba(0,0,0,0.55)" stroke="rgba(0,0,0,0.62)" stroke-width="0.6"/>
<circle cx="228.3" cy="347.54" r="1.15" fill="rgba(0,0,0,0.55)" stroke="rgba(0,0,0,0.62)" stroke-width="0.6"/>
<circle cx="232" cy="349.38" r="1.15" fill="rgba(0,0,0,0.55)" stroke="rgba(0,0,0,0.62)" stroke-width="0.6"/>
<line x1="64.5" y1="323.62" x2="64.5" y2="328.77" stroke="#111" stroke-width="1.0"/>
<line x1="83.5" y1="329.14" x2="83.5" y2="334.29" stroke="#111" stroke-width="1.0"/>
<line x1="103.5" y1="332.82" x2="103.5" y2="339.44" stroke="#111" stroke-width="1.0"/>
<line x1="126.5" y1="323.62" x2="126.5" y2="328.77" stroke="#111" stroke-width="1.0"/>
<line x1="146.5" y1="328.77" x2="146.5" y2="334.66" stroke="#111" stroke-width="1.0"/>
<line x1="165.5" y1="331.72" x2="165.5" y2="339.08" stroke="#111" stroke-width="1.0"/>
<line x1="188.5" y1="325.09" x2="188.5" y2="328.77" stroke="#111" stroke-width="1.0"/>
<line x1="208.5" y1="327.3" x2="208.5" y2="330.98" stroke="#111" stroke-width="1.0"/>
<line x1="228.5" y1="328.04" x2="228.5" y2="332.45" stroke="#111" stroke-width="1.0"/>
<line x1="50.6" y1="327.5" x2="240.7" y2="327.5" stroke="#1a1a1a" stroke-width="1.2"/>
<line x1="50.5" y1="268.5" x2="50.5" y2="401.6" stroke="#1a1a1a" stroke-width="1.3"/>
<line x1="47.6" y1="272.5" x2="50.6" y2="272.5" stroke="#1a1a1a" stroke-width="1"/>
<text x="45.3" y="274.4" font-size="6.6" text-anchor="end" fill="#2a2a2a" stroke="#2a2a2a" stroke-width="0.18">1.5</text>
<line x1="47.6" y1="290.5" x2="50.6" y2="290.5" stroke="#1a1a1a" stroke-width="1"/>
<text x="45.3" y="292.8" font-size="6.6" text-anchor="end" fill="#2a2a2a" stroke="#2a2a2a" stroke-width="0.18">1.0</text>
<line x1="47.6" y1="308.5" x2="50.6" y2="308.5" stroke="#1a1a1a" stroke-width="1"/>
<text x="45.3" y="311.2" font-size="6.6" text-anchor="end" fill="#2a2a2a" stroke="#2a2a2a" stroke-width="0.18">0.5</text>
<line x1="47.6" y1="327.5" x2="50.6" y2="327.5" stroke="#1a1a1a" stroke-width="1"/>
<text x="45.3" y="329.6" font-size="6.6" text-anchor="end" fill="#2a2a2a" stroke="#2a2a2a" stroke-width="0.18">0.0</text>
<line x1="47.6" y1="345.5" x2="50.6" y2="345.5" stroke="#1a1a1a" stroke-width="1"/>
<text x="45.3" y="348" font-size="6.6" text-anchor="end" fill="#2a2a2a" stroke="#2a2a2a" stroke-width="0.18">−0.5</text>
<line x1="47.6" y1="364.5" x2="50.6" y2="364.5" stroke="#1a1a1a" stroke-width="1"/>
<text x="45.3" y="366.4" font-size="6.6" text-anchor="end" fill="#2a2a2a" stroke="#2a2a2a" stroke-width="0.18">−1.0</text>
<line x1="47.6" y1="382.5" x2="50.6" y2="382.5" stroke="#1a1a1a" stroke-width="1"/>
<text x="45.3" y="384.8" font-size="6.6" text-anchor="end" fill="#2a2a2a" stroke="#2a2a2a" stroke-width="0.18">−1.5</text>
<line x1="47.6" y1="400.5" x2="50.6" y2="400.5" stroke="#1a1a1a" stroke-width="1"/>
<text x="45.3" y="403.2" font-size="6.6" text-anchor="end" fill="#2a2a2a" stroke="#2a2a2a" stroke-width="0.18">−2.0</text>
<line x1="50" y1="401.5" x2="240.7" y2="401.5" stroke="#1a1a1a" stroke-width="1.3"/>
<line x1="64.5" y1="401" x2="64.5" y2="404" stroke="#1a1a1a" stroke-width="1"/>
<line x1="83.5" y1="401" x2="83.5" y2="404" stroke="#1a1a1a" stroke-width="1"/>
<line x1="103.5" y1="401" x2="103.5" y2="404" stroke="#1a1a1a" stroke-width="1"/>
<line x1="126.5" y1="401" x2="126.5" y2="404" stroke="#1a1a1a" stroke-width="1"/>
<line x1="146.5" y1="401" x2="146.5" y2="404" stroke="#1a1a1a" stroke-width="1"/>
<line x1="165.5" y1="401" x2="165.5" y2="404" stroke="#1a1a1a" stroke-width="1"/>
<line x1="188.5" y1="401" x2="188.5" y2="404" stroke="#1a1a1a" stroke-width="1"/>
<line x1="208.5" y1="401" x2="208.5" y2="404" stroke="#1a1a1a" stroke-width="1"/>
<line x1="228.5" y1="401" x2="228.5" y2="404" stroke="#1a1a1a" stroke-width="1"/>
<text x="26.5" y="334.8" font-size="8.3" text-anchor="middle" fill="#383838" stroke="#383838" stroke-width="0.06" transform="rotate(-90 26.5 334.8)" textLength="70" lengthAdjust="spacingAndGlyphs">Normalized power (dB)</text>
<text x="83.8" y="396.1" font-size="7.2" text-anchor="middle" fill="#333" stroke="#333" stroke-width="0.05" textLength="16.2" lengthAdjust="spacingAndGlyphs">Theta</text>
<text x="146.2" y="396.1" font-size="7.2" text-anchor="middle" fill="#333" stroke="#333" stroke-width="0.05" textLength="16.21" lengthAdjust="spacingAndGlyphs">Alpha</text>
<text x="208" y="396.1" font-size="7.2" text-anchor="middle" fill="#333" stroke="#333" stroke-width="0.05" textLength="13.03" lengthAdjust="spacingAndGlyphs">Bete</text>
<text x="66.7" y="409.8" font-size="7.6" text-anchor="end" fill="#2a2a2a" stroke="#2a2a2a" stroke-width="0.18" transform="rotate(-45 66.7 409.8)" textLength="7.6" lengthAdjust="spacingAndGlyphs">BL</text>
<text x="86.2" y="409.8" font-size="7.6" text-anchor="end" fill="#2a2a2a" stroke="#2a2a2a" stroke-width="0.18" transform="rotate(-45 86.2 409.8)" textLength="7.2" lengthAdjust="spacingAndGlyphs">LT</text>
<text x="106" y="409.8" font-size="7.6" text-anchor="end" fill="#2a2a2a" stroke="#2a2a2a" stroke-width="0.18" transform="rotate(-45 106 409.8)" textLength="7.8" lengthAdjust="spacingAndGlyphs">HT</text>
<text x="128.4" y="409.8" font-size="7.6" text-anchor="end" fill="#2a2a2a" stroke="#2a2a2a" stroke-width="0.18" transform="rotate(-45 128.4 409.8)" textLength="7.6" lengthAdjust="spacingAndGlyphs">BL</text>
<text x="148.6" y="409.8" font-size="7.6" text-anchor="end" fill="#2a2a2a" stroke="#2a2a2a" stroke-width="0.18" transform="rotate(-45 148.6 409.8)" textLength="7.2" lengthAdjust="spacingAndGlyphs">LT</text>
<text x="167.9" y="409.8" font-size="7.6" text-anchor="end" fill="#2a2a2a" stroke="#2a2a2a" stroke-width="0.18" transform="rotate(-45 167.9 409.8)" textLength="7.8" lengthAdjust="spacingAndGlyphs">HT</text>
<text x="191.2" y="409.8" font-size="7.6" text-anchor="end" fill="#2a2a2a" stroke="#2a2a2a" stroke-width="0.18" transform="rotate(-45 191.2 409.8)" textLength="7.6" lengthAdjust="spacingAndGlyphs">BL</text>
<text x="210.4" y="409.8" font-size="7.6" text-anchor="end" fill="#2a2a2a" stroke="#2a2a2a" stroke-width="0.18" transform="rotate(-45 210.4 409.8)" textLength="7.2" lengthAdjust="spacingAndGlyphs">LT</text>
<text x="230.7" y="409.8" font-size="7.6" text-anchor="end" fill="#2a2a2a" stroke="#2a2a2a" stroke-width="0.18" transform="rotate(-45 230.7 409.8)" textLength="7.8" lengthAdjust="spacingAndGlyphs">HT</text>
<path d="M64.3 264.8 V261.5 H103.6 V264.8" stroke="#1a1a1a" stroke-width="1.1" fill="none"/>
<text x="83.95" y="262.3" font-size="8" text-anchor="middle" fill="#1a1a1a" font-style="italic">*</text>
<path d="M126 264.8 V261.5 H165.5 V264.8" stroke="#1a1a1a" stroke-width="1.1" fill="none"/>
<text x="145.75" y="262.3" font-size="8" text-anchor="middle" fill="#1a1a1a" font-style="italic">*</text>
<path d="M188.3 264.8 V261.5 H228 V264.8" stroke="#1a1a1a" stroke-width="1.1" fill="none"/>
<text x="208.15" y="262.3" font-size="8" text-anchor="middle" fill="#1a1a1a" font-style="italic">*</text>
<text x="271.2" y="239" font-size="10.9" text-anchor="start" fill="#000" font-weight="bold">D</text>
<text x="410.8" y="244.3" font-size="8.2" text-anchor="middle" fill="#2a2a2a" stroke="#2a2a2a" stroke-width="0.18" textLength="140" lengthAdjust="spacingAndGlyphs">Single-session tFUS (Δ = HTHPS - LTHPS)</text>
<line x1="377.5" y1="262" x2="377.5" y2="391.3" stroke="#555" stroke-width="0.8" stroke-dasharray="1 1.3"/>
<line x1="444.5" y1="262" x2="444.5" y2="391.3" stroke="#555" stroke-width="0.8" stroke-dasharray="1 1.3"/>
<rect x="315.95" y="324.5" width="12.7" height="3.06" fill="#e2a233"/>
<rect x="337.15" y="307.67" width="12.7" height="16.83" fill="#2aa9e0"/>
<rect x="358.25" y="323.58" width="12.7" height="0.92" fill="#c80226"/>
<rect x="383.15" y="324.5" width="12.7" height="3.06" fill="#e2a233"/>
<rect x="404.35" y="310.73" width="12.7" height="13.77" fill="#2aa9e0"/>
<rect x="425.35" y="323.89" width="12.7" height="0.8" fill="#c80226"/>
<rect x="449.95" y="324.5" width="12.7" height="0.8" fill="#e2a233"/>
<rect x="471.15" y="315.01" width="12.7" height="9.49" fill="#2aa9e0"/>
<rect x="492.15" y="323.58" width="12.7" height="0.92" fill="#c80226"/>
<circle cx="322.3" cy="305.53" r="1.15" fill="rgba(0,0,0,0.55)" stroke="rgba(0,0,0,0.62)" stroke-width="0.6"/>
<circle cx="322.3" cy="310.73" r="1.15" fill="rgba(0,0,0,0.55)" stroke="rgba(0,0,0,0.62)" stroke-width="0.6"/>
<circle cx="326" cy="311.34" r="1.15" fill="rgba(0,0,0,0.55)" stroke="rgba(0,0,0,0.62)" stroke-width="0.6"/>
<circle cx="322.3" cy="313.79" r="1.15" fill="rgba(0,0,0,0.55)" stroke="rgba(0,0,0,0.62)" stroke-width="0.6"/>
<circle cx="322.3" cy="318.38" r="1.15" fill="rgba(0,0,0,0.55)" stroke="rgba(0,0,0,0.62)" stroke-width="0.6"/>
<circle cx="326" cy="319.91" r="1.15" fill="rgba(0,0,0,0.55)" stroke="rgba(0,0,0,0.62)" stroke-width="0.6"/>
<circle cx="322.3" cy="322.97" r="1.15" fill="rgba(0,0,0,0.55)" stroke="rgba(0,0,0,0.62)" stroke-width="0.6"/>
<circle cx="326" cy="325.11" r="1.15" fill="rgba(0,0,0,0.55)" stroke="rgba(0,0,0,0.62)" stroke-width="0.6"/>
<circle cx="322.3" cy="326.03" r="1.15" fill="rgba(0,0,0,0.55)" stroke="rgba(0,0,0,0.62)" stroke-width="0.6"/>
<circle cx="318.6" cy="327.56" r="1.15" fill="rgba(0,0,0,0.55)" stroke="rgba(0,0,0,0.62)" stroke-width="0.6"/>
<circle cx="326" cy="328.17" r="1.15" fill="rgba(0,0,0,0.55)" stroke="rgba(0,0,0,0.62)" stroke-width="0.6"/>
<circle cx="322.3" cy="330.62" r="1.15" fill="rgba(0,0,0,0.55)" stroke="rgba(0,0,0,0.62)" stroke-width="0.6"/>
<circle cx="326" cy="332.15" r="1.15" fill="rgba(0,0,0,0.55)" stroke="rgba(0,0,0,0.62)" stroke-width="0.6"/>
<circle cx="322.3" cy="335.21" r="1.15" fill="rgba(0,0,0,0.55)" stroke="rgba(0,0,0,0.62)" stroke-width="0.6"/>
<circle cx="326" cy="336.74" r="1.15" fill="rgba(0,0,0,0.55)" stroke="rgba(0,0,0,0.62)" stroke-width="0.6"/>
<circle cx="322.3" cy="338.27" r="1.15" fill="rgba(0,0,0,0.55)" stroke="rgba(0,0,0,0.62)" stroke-width="0.6"/>
<circle cx="322.3" cy="342.86" r="1.15" fill="rgba(0,0,0,0.55)" stroke="rgba(0,0,0,0.62)" stroke-width="0.6"/>
<circle cx="326" cy="344.39" r="1.15" fill="rgba(0,0,0,0.55)" stroke="rgba(0,0,0,0.62)" stroke-width="0.6"/>
<circle cx="322.3" cy="353.57" r="1.15" fill="rgba(0,0,0,0.55)" stroke="rgba(0,0,0,0.62)" stroke-width="0.6"/>
<circle cx="343.5" cy="264.83" r="1.15" fill="rgba(0,0,0,0.55)" stroke="rgba(0,0,0,0.62)" stroke-width="0.6"/>
<circle cx="343.5" cy="275.54" r="1.15" fill="rgba(0,0,0,0.55)" stroke="rgba(0,0,0,0.62)" stroke-width="0.6"/>
<circle cx="343.5" cy="286.25" r="1.15" fill="rgba(0,0,0,0.55)" stroke="rgba(0,0,0,0.62)" stroke-width="0.6"/>
<circle cx="343.5" cy="295.43" r="1.15" fill="rgba(0,0,0,0.55)" stroke="rgba(0,0,0,0.62)" stroke-width="0.6"/>
<circle cx="347.2" cy="296.96" r="1.15" fill="rgba(0,0,0,0.55)" stroke="rgba(0,0,0,0.62)" stroke-width="0.6"/>
<circle cx="343.5" cy="298.49" r="1.15" fill="rgba(0,0,0,0.55)" stroke="rgba(0,0,0,0.62)" stroke-width="0.6"/>
<circle cx="343.5" cy="301.55" r="1.15" fill="rgba(0,0,0,0.55)" stroke="rgba(0,0,0,0.62)" stroke-width="0.6"/>
<circle cx="347.2" cy="303.08" r="1.15" fill="rgba(0,0,0,0.55)" stroke="rgba(0,0,0,0.62)" stroke-width="0.6"/>
<circle cx="343.5" cy="306.14" r="1.15" fill="rgba(0,0,0,0.55)" stroke="rgba(0,0,0,0.62)" stroke-width="0.6"/>
<circle cx="343.5" cy="309.2" r="1.15" fill="rgba(0,0,0,0.55)" stroke="rgba(0,0,0,0.62)" stroke-width="0.6"/>
<circle cx="347.2" cy="310.73" r="1.15" fill="rgba(0,0,0,0.55)" stroke="rgba(0,0,0,0.62)" stroke-width="0.6"/>
<circle cx="343.5" cy="312.26" r="1.15" fill="rgba(0,0,0,0.55)" stroke="rgba(0,0,0,0.62)" stroke-width="0.6"/>
<circle cx="343.5" cy="315.32" r="1.15" fill="rgba(0,0,0,0.55)" stroke="rgba(0,0,0,0.62)" stroke-width="0.6"/>
<circle cx="343.5" cy="318.38" r="1.15" fill="rgba(0,0,0,0.55)" stroke="rgba(0,0,0,0.62)" stroke-width="0.6"/>
<circle cx="343.5" cy="321.44" r="1.15" fill="rgba(0,0,0,0.55)" stroke="rgba(0,0,0,0.62)" stroke-width="0.6"/>
<circle cx="343.5" cy="324.5" r="1.15" fill="rgba(0,0,0,0.55)" stroke="rgba(0,0,0,0.62)" stroke-width="0.6"/>
<circle cx="347.2" cy="326.03" r="1.15" fill="rgba(0,0,0,0.55)" stroke="rgba(0,0,0,0.62)" stroke-width="0.6"/>
<circle cx="343.5" cy="333.68" r="1.15" fill="rgba(0,0,0,0.55)" stroke="rgba(0,0,0,0.62)" stroke-width="0.6"/>
<circle cx="347.2" cy="335.21" r="1.15" fill="rgba(0,0,0,0.55)" stroke="rgba(0,0,0,0.62)" stroke-width="0.6"/>
<circle cx="364.6" cy="298.49" r="1.15" fill="rgba(0,0,0,0.55)" stroke="rgba(0,0,0,0.62)" stroke-width="0.6"/>
<circle cx="368.3" cy="300.02" r="1.15" fill="rgba(0,0,0,0.55)" stroke="rgba(0,0,0,0.62)" stroke-width="0.6"/>
<circle cx="364.6" cy="301.55" r="1.15" fill="rgba(0,0,0,0.55)" stroke="rgba(0,0,0,0.62)" stroke-width="0.6"/>
<circle cx="368.3" cy="303.08" r="1.15" fill="rgba(0,0,0,0.55)" stroke="rgba(0,0,0,0.62)" stroke-width="0.6"/>
<circle cx="364.6" cy="306.14" r="1.15" fill="rgba(0,0,0,0.55)" stroke="rgba(0,0,0,0.62)" stroke-width="0.6"/>
<circle cx="364.6" cy="309.2" r="1.15" fill="rgba(0,0,0,0.55)" stroke="rgba(0,0,0,0.62)" stroke-width="0.6"/>
<circle cx="364.6" cy="312.26" r="1.15" fill="rgba(0,0,0,0.55)" stroke="rgba(0,0,0,0.62)" stroke-width="0.6"/>
<circle cx="364.6" cy="315.32" r="1.15" fill="rgba(0,0,0,0.55)" stroke="rgba(0,0,0,0.62)" stroke-width="0.6"/>
<circle cx="364.6" cy="318.38" r="1.15" fill="rgba(0,0,0,0.55)" stroke="rgba(0,0,0,0.62)" stroke-width="0.6"/>
<circle cx="368.3" cy="319.91" r="1.15" fill="rgba(0,0,0,0.55)" stroke="rgba(0,0,0,0.62)" stroke-width="0.6"/>
<circle cx="364.6" cy="322.97" r="1.15" fill="rgba(0,0,0,0.55)" stroke="rgba(0,0,0,0.62)" stroke-width="0.6"/>
<circle cx="368.3" cy="324.5" r="1.15" fill="rgba(0,0,0,0.55)" stroke="rgba(0,0,0,0.62)" stroke-width="0.6"/>
<circle cx="364.6" cy="326.03" r="1.15" fill="rgba(0,0,0,0.55)" stroke="rgba(0,0,0,0.62)" stroke-width="0.6"/>
<circle cx="368.3" cy="327.56" r="1.15" fill="rgba(0,0,0,0.55)" stroke="rgba(0,0,0,0.62)" stroke-width="0.6"/>
<circle cx="364.6" cy="338.27" r="1.15" fill="rgba(0,0,0,0.55)" stroke="rgba(0,0,0,0.62)" stroke-width="0.6"/>
<circle cx="364.6" cy="344.39" r="1.15" fill="rgba(0,0,0,0.55)" stroke="rgba(0,0,0,0.62)" stroke-width="0.6"/>
<circle cx="368.3" cy="346.53" r="1.15" fill="rgba(0,0,0,0.55)" stroke="rgba(0,0,0,0.62)" stroke-width="0.6"/>
<circle cx="364.6" cy="347.45" r="1.15" fill="rgba(0,0,0,0.55)" stroke="rgba(0,0,0,0.62)" stroke-width="0.6"/>
<circle cx="364.6" cy="368.26" r="1.15" fill="rgba(0,0,0,0.55)" stroke="rgba(0,0,0,0.62)" stroke-width="0.6"/>
<circle cx="389.5" cy="306.14" r="1.15" fill="rgba(0,0,0,0.55)" stroke="rgba(0,0,0,0.62)" stroke-width="0.6"/>
<circle cx="389.5" cy="310.73" r="1.15" fill="rgba(0,0,0,0.55)" stroke="rgba(0,0,0,0.62)" stroke-width="0.6"/>
<circle cx="393.2" cy="312.26" r="1.15" fill="rgba(0,0,0,0.55)" stroke="rgba(0,0,0,0.62)" stroke-width="0.6"/>
<circle cx="389.5" cy="315.32" r="1.15" fill="rgba(0,0,0,0.55)" stroke="rgba(0,0,0,0.62)" stroke-width="0.6"/>
<circle cx="393.2" cy="316.54" r="1.15" fill="rgba(0,0,0,0.55)" stroke="rgba(0,0,0,0.62)" stroke-width="0.6"/>
<circle cx="389.5" cy="324.5" r="1.15" fill="rgba(0,0,0,0.55)" stroke="rgba(0,0,0,0.62)" stroke-width="0.6"/>
<circle cx="393.2" cy="326.03" r="1.15" fill="rgba(0,0,0,0.55)" stroke="rgba(0,0,0,0.62)" stroke-width="0.6"/>
<circle cx="389.5" cy="327.56" r="1.15" fill="rgba(0,0,0,0.55)" stroke="rgba(0,0,0,0.62)" stroke-width="0.6"/>
<circle cx="393.2" cy="329.09" r="1.15" fill="rgba(0,0,0,0.55)" stroke="rgba(0,0,0,0.62)" stroke-width="0.6"/>
<circle cx="389.5" cy="333.68" r="1.15" fill="rgba(0,0,0,0.55)" stroke="rgba(0,0,0,0.62)" stroke-width="0.6"/>
<circle cx="393.2" cy="335.52" r="1.15" fill="rgba(0,0,0,0.55)" stroke="rgba(0,0,0,0.62)" stroke-width="0.6"/>
<circle cx="389.5" cy="338.27" r="1.15" fill="rgba(0,0,0,0.55)" stroke="rgba(0,0,0,0.62)" stroke-width="0.6"/>
<circle cx="389.5" cy="341.33" r="1.15" fill="rgba(0,0,0,0.55)" stroke="rgba(0,0,0,0.62)" stroke-width="0.6"/>
<circle cx="389.5" cy="344.39" r="1.15" fill="rgba(0,0,0,0.55)" stroke="rgba(0,0,0,0.62)" stroke-width="0.6"/>
<circle cx="389.5" cy="350.51" r="1.15" fill="rgba(0,0,0,0.55)" stroke="rgba(0,0,0,0.62)" stroke-width="0.6"/>
<circle cx="410.7" cy="293.29" r="1.15" fill="rgba(0,0,0,0.55)" stroke="rgba(0,0,0,0.62)" stroke-width="0.6"/>
<circle cx="414.4" cy="295.43" r="1.15" fill="rgba(0,0,0,0.55)" stroke="rgba(0,0,0,0.62)" stroke-width="0.6"/>
<circle cx="410.7" cy="297.57" r="1.15" fill="rgba(0,0,0,0.55)" stroke="rgba(0,0,0,0.62)" stroke-width="0.6"/>
<circle cx="414.4" cy="299.41" r="1.15" fill="rgba(0,0,0,0.55)" stroke="rgba(0,0,0,0.62)" stroke-width="0.6"/>
<circle cx="410.7" cy="307.67" r="1.15" fill="rgba(0,0,0,0.55)" stroke="rgba(0,0,0,0.62)" stroke-width="0.6"/>
<circle cx="414.4" cy="308.59" r="1.15" fill="rgba(0,0,0,0.55)" stroke="rgba(0,0,0,0.62)" stroke-width="0.6"/>
<circle cx="410.7" cy="315.32" r="1.15" fill="rgba(0,0,0,0.55)" stroke="rgba(0,0,0,0.62)" stroke-width="0.6"/>
<circle cx="414.4" cy="315.32" r="1.15" fill="rgba(0,0,0,0.55)" stroke="rgba(0,0,0,0.62)" stroke-width="0.6"/>
<circle cx="407" cy="315.32" r="1.15" fill="rgba(0,0,0,0.55)" stroke="rgba(0,0,0,0.62)" stroke-width="0.6"/>
<circle cx="418.1" cy="315.32" r="1.15" fill="rgba(0,0,0,0.55)" stroke="rgba(0,0,0,0.62)" stroke-width="0.6"/>
<circle cx="403.3" cy="315.32" r="1.15" fill="rgba(0,0,0,0.55)" stroke="rgba(0,0,0,0.62)" stroke-width="0.6"/>
<circle cx="410.7" cy="321.44" r="1.15" fill="rgba(0,0,0,0.55)" stroke="rgba(0,0,0,0.62)" stroke-width="0.6"/>
<circle cx="410.7" cy="327.56" r="1.15" fill="rgba(0,0,0,0.55)" stroke="rgba(0,0,0,0.62)" stroke-width="0.6"/>
<circle cx="410.7" cy="333.68" r="1.15" fill="rgba(0,0,0,0.55)" stroke="rgba(0,0,0,0.62)" stroke-width="0.6"/>
<circle cx="410.7" cy="336.74" r="1.15" fill="rgba(0,0,0,0.55)" stroke="rgba(0,0,0,0.62)" stroke-width="0.6"/>
<circle cx="431.7" cy="289.62" r="1.15" fill="rgba(0,0,0,0.55)" stroke="rgba(0,0,0,0.62)" stroke-width="0.6"/>
<circle cx="431.7" cy="305.83" r="1.15" fill="rgba(0,0,0,0.55)" stroke="rgba(0,0,0,0.62)" stroke-width="0.6"/>
<circle cx="431.7" cy="314.1" r="1.15" fill="rgba(0,0,0,0.55)" stroke="rgba(0,0,0,0.62)" stroke-width="0.6"/>
<circle cx="435.4" cy="314.1" r="1.15" fill="rgba(0,0,0,0.55)" stroke="rgba(0,0,0,0.62)" stroke-width="0.6"/>
<circle cx="428" cy="314.1" r="1.15" fill="rgba(0,0,0,0.55)" stroke="rgba(0,0,0,0.62)" stroke-width="0.6"/>
<circle cx="431.7" cy="318.38" r="1.15" fill="rgba(0,0,0,0.55)" stroke="rgba(0,0,0,0.62)" stroke-width="0.6"/>
<circle cx="435.4" cy="318.99" r="1.15" fill="rgba(0,0,0,0.55)" stroke="rgba(0,0,0,0.62)" stroke-width="0.6"/>
<circle cx="431.7" cy="321.44" r="1.15" fill="rgba(0,0,0,0.55)" stroke="rgba(0,0,0,0.62)" stroke-width="0.6"/>
<circle cx="435.4" cy="322.97" r="1.15" fill="rgba(0,0,0,0.55)" stroke="rgba(0,0,0,0.62)" stroke-width="0.6"/>
<circle cx="431.7" cy="324.5" r="1.15" fill="rgba(0,0,0,0.55)" stroke="rgba(0,0,0,0.62)" stroke-width="0.6"/>
<circle cx="431.7" cy="327.56" r="1.15" fill="rgba(0,0,0,0.55)" stroke="rgba(0,0,0,0.62)" stroke-width="0.6"/>
<circle cx="435.4" cy="329.7" r="1.15" fill="rgba(0,0,0,0.55)" stroke="rgba(0,0,0,0.62)" stroke-width="0.6"/>
<circle cx="431.7" cy="335.21" r="1.15" fill="rgba(0,0,0,0.55)" stroke="rgba(0,0,0,0.62)" stroke-width="0.6"/>
<circle cx="431.7" cy="345.92" r="1.15" fill="rgba(0,0,0,0.55)" stroke="rgba(0,0,0,0.62)" stroke-width="0.6"/>
<circle cx="431.7" cy="348.98" r="1.15" fill="rgba(0,0,0,0.55)" stroke="rgba(0,0,0,0.62)" stroke-width="0.6"/>
<circle cx="431.7" cy="352.04" r="1.15" fill="rgba(0,0,0,0.55)" stroke="rgba(0,0,0,0.62)" stroke-width="0.6"/>
<circle cx="431.7" cy="357.24" r="1.15" fill="rgba(0,0,0,0.55)" stroke="rgba(0,0,0,0.62)" stroke-width="0.6"/>
<circle cx="456.3" cy="313.18" r="1.15" fill="rgba(0,0,0,0.55)" stroke="rgba(0,0,0,0.62)" stroke-width="0.6"/>
<circle cx="460" cy="313.18" r="1.15" fill="rgba(0,0,0,0.55)" stroke="rgba(0,0,0,0.62)" stroke-width="0.6"/>
<circle cx="456.3" cy="318.38" r="1.15" fill="rgba(0,0,0,0.55)" stroke="rgba(0,0,0,0.62)" stroke-width="0.6"/>
<circle cx="460" cy="319.91" r="1.15" fill="rgba(0,0,0,0.55)" stroke="rgba(0,0,0,0.62)" stroke-width="0.6"/>
<circle cx="456.3" cy="322.97" r="1.15" fill="rgba(0,0,0,0.55)" stroke="rgba(0,0,0,0.62)" stroke-width="0.6"/>
<circle cx="460" cy="324.5" r="1.15" fill="rgba(0,0,0,0.55)" stroke="rgba(0,0,0,0.62)" stroke-width="0.6"/>
<circle cx="452.6" cy="324.5" r="1.15" fill="rgba(0,0,0,0.55)" stroke="rgba(0,0,0,0.62)" stroke-width="0.6"/>
<circle cx="456.3" cy="326.03" r="1.15" fill="rgba(0,0,0,0.55)" stroke="rgba(0,0,0,0.62)" stroke-width="0.6"/>
<circle cx="460" cy="327.25" r="1.15" fill="rgba(0,0,0,0.55)" stroke="rgba(0,0,0,0.62)" stroke-width="0.6"/>
<circle cx="452.6" cy="327.25" r="1.15" fill="rgba(0,0,0,0.55)" stroke="rgba(0,0,0,0.62)" stroke-width="0.6"/>
<circle cx="463.7" cy="327.25" r="1.15" fill="rgba(0,0,0,0.55)" stroke="rgba(0,0,0,0.62)" stroke-width="0.6"/>
<circle cx="448.9" cy="327.25" r="1.15" fill="rgba(0,0,0,0.55)" stroke="rgba(0,0,0,0.62)" stroke-width="0.6"/>
<circle cx="456.3" cy="329.09" r="1.15" fill="rgba(0,0,0,0.55)" stroke="rgba(0,0,0,0.62)" stroke-width="0.6"/>
<circle cx="456.3" cy="340.72" r="1.15" fill="rgba(0,0,0,0.55)" stroke="rgba(0,0,0,0.62)" stroke-width="0.6"/>
<circle cx="460" cy="340.72" r="1.15" fill="rgba(0,0,0,0.55)" stroke="rgba(0,0,0,0.62)" stroke-width="0.6"/>
<circle cx="477.5" cy="304.92" r="1.15" fill="rgba(0,0,0,0.55)" stroke="rgba(0,0,0,0.62)" stroke-width="0.6"/>
<circle cx="477.5" cy="307.67" r="1.15" fill="rgba(0,0,0,0.55)" stroke="rgba(0,0,0,0.62)" stroke-width="0.6"/>
<circle cx="477.5" cy="310.73" r="1.15" fill="rgba(0,0,0,0.55)" stroke="rgba(0,0,0,0.62)" stroke-width="0.6"/>
<circle cx="481.2" cy="310.73" r="1.15" fill="rgba(0,0,0,0.55)" stroke="rgba(0,0,0,0.62)" stroke-width="0.6"/>
<circle cx="473.8" cy="310.73" r="1.15" fill="rgba(0,0,0,0.55)" stroke="rgba(0,0,0,0.62)" stroke-width="0.6"/>
<circle cx="477.5" cy="313.79" r="1.15" fill="rgba(0,0,0,0.55)" stroke="rgba(0,0,0,0.62)" stroke-width="0.6"/>
<circle cx="481.2" cy="315.32" r="1.15" fill="rgba(0,0,0,0.55)" stroke="rgba(0,0,0,0.62)" stroke-width="0.6"/>
<circle cx="477.5" cy="318.07" r="1.15" fill="rgba(0,0,0,0.55)" stroke="rgba(0,0,0,0.62)" stroke-width="0.6"/>
<circle cx="481.2" cy="318.07" r="1.15" fill="rgba(0,0,0,0.55)" stroke="rgba(0,0,0,0.62)" stroke-width="0.6"/>
<circle cx="473.8" cy="318.07" r="1.15" fill="rgba(0,0,0,0.55)" stroke="rgba(0,0,0,0.62)" stroke-width="0.6"/>
<circle cx="484.9" cy="319.91" r="1.15" fill="rgba(0,0,0,0.55)" stroke="rgba(0,0,0,0.62)" stroke-width="0.6"/>
<circle cx="477.5" cy="321.44" r="1.15" fill="rgba(0,0,0,0.55)" stroke="rgba(0,0,0,0.62)" stroke-width="0.6"/>
<circle cx="481.2" cy="322.97" r="1.15" fill="rgba(0,0,0,0.55)" stroke="rgba(0,0,0,0.62)" stroke-width="0.6"/>
<circle cx="477.5" cy="327.56" r="1.15" fill="rgba(0,0,0,0.55)" stroke="rgba(0,0,0,0.62)" stroke-width="0.6"/>
<circle cx="477.5" cy="330.62" r="1.15" fill="rgba(0,0,0,0.55)" stroke="rgba(0,0,0,0.62)" stroke-width="0.6"/>
<circle cx="481.2" cy="332.15" r="1.15" fill="rgba(0,0,0,0.55)" stroke="rgba(0,0,0,0.62)" stroke-width="0.6"/>
<circle cx="498.5" cy="307.36" r="1.15" fill="rgba(0,0,0,0.55)" stroke="rgba(0,0,0,0.62)" stroke-width="0.6"/>
<circle cx="498.5" cy="313.79" r="1.15" fill="rgba(0,0,0,0.55)" stroke="rgba(0,0,0,0.62)" stroke-width="0.6"/>
<circle cx="502.2" cy="315.32" r="1.15" fill="rgba(0,0,0,0.55)" stroke="rgba(0,0,0,0.62)" stroke-width="0.6"/>
<circle cx="494.8" cy="315.32" r="1.15" fill="rgba(0,0,0,0.55)" stroke="rgba(0,0,0,0.62)" stroke-width="0.6"/>
<circle cx="498.5" cy="318.38" r="1.15" fill="rgba(0,0,0,0.55)" stroke="rgba(0,0,0,0.62)" stroke-width="0.6"/>
<circle cx="498.5" cy="321.44" r="1.15" fill="rgba(0,0,0,0.55)" stroke="rgba(0,0,0,0.62)" stroke-width="0.6"/>
<circle cx="502.2" cy="322.97" r="1.15" fill="rgba(0,0,0,0.55)" stroke="rgba(0,0,0,0.62)" stroke-width="0.6"/>
<circle cx="494.8" cy="322.97" r="1.15" fill="rgba(0,0,0,0.55)" stroke="rgba(0,0,0,0.62)" stroke-width="0.6"/>
<circle cx="505.9" cy="322.97" r="1.15" fill="rgba(0,0,0,0.55)" stroke="rgba(0,0,0,0.62)" stroke-width="0.6"/>
<circle cx="498.5" cy="324.5" r="1.15" fill="rgba(0,0,0,0.55)" stroke="rgba(0,0,0,0.62)" stroke-width="0.6"/>
<circle cx="502.2" cy="326.03" r="1.15" fill="rgba(0,0,0,0.55)" stroke="rgba(0,0,0,0.62)" stroke-width="0.6"/>
<circle cx="498.5" cy="327.56" r="1.15" fill="rgba(0,0,0,0.55)" stroke="rgba(0,0,0,0.62)" stroke-width="0.6"/>
<circle cx="498.5" cy="330.62" r="1.15" fill="rgba(0,0,0,0.55)" stroke="rgba(0,0,0,0.62)" stroke-width="0.6"/>
<circle cx="498.5" cy="333.68" r="1.15" fill="rgba(0,0,0,0.55)" stroke="rgba(0,0,0,0.62)" stroke-width="0.6"/>
<circle cx="498.5" cy="337.35" r="1.15" fill="rgba(0,0,0,0.55)" stroke="rgba(0,0,0,0.62)" stroke-width="0.6"/>
<circle cx="502.2" cy="339.8" r="1.15" fill="rgba(0,0,0,0.55)" stroke="rgba(0,0,0,0.62)" stroke-width="0.6"/>
<circle cx="498.5" cy="346.53" r="1.15" fill="rgba(0,0,0,0.55)" stroke="rgba(0,0,0,0.62)" stroke-width="0.6"/>
<line x1="322.5" y1="325.11" x2="322.5" y2="330.01" stroke="#111" stroke-width="1.0"/>
<line x1="343.5" y1="304" x2="343.5" y2="311.34" stroke="#111" stroke-width="1.0"/>
<line x1="364.5" y1="319.6" x2="364.5" y2="327.56" stroke="#111" stroke-width="1.0"/>
<line x1="389.5" y1="325.11" x2="389.5" y2="330.01" stroke="#111" stroke-width="1.0"/>
<line x1="410.5" y1="307.98" x2="410.5" y2="313.48" stroke="#111" stroke-width="1.0"/>
<line x1="431.5" y1="320.22" x2="431.5" y2="327.56" stroke="#111" stroke-width="1.0"/>
<line x1="456.5" y1="323.28" x2="456.5" y2="326.95" stroke="#111" stroke-width="1.0"/>
<line x1="477.5" y1="313.18" x2="477.5" y2="316.85" stroke="#111" stroke-width="1.0"/>
<line x1="498.5" y1="321.13" x2="498.5" y2="326.03" stroke="#111" stroke-width="1.0"/>
<line x1="308.3" y1="324.5" x2="513" y2="324.5" stroke="#1a1a1a" stroke-width="1.2"/>
<line x1="308.5" y1="260.5" x2="308.5" y2="391.9" stroke="#1a1a1a" stroke-width="1.3"/>
<line x1="305.3" y1="263.5" x2="308.3" y2="263.5" stroke="#1a1a1a" stroke-width="1"/>
<text x="303" y="265.6" font-size="6.6" text-anchor="end" fill="#2a2a2a" stroke="#2a2a2a" stroke-width="0.18">2.0</text>
<line x1="305.3" y1="278.5" x2="308.3" y2="278.5" stroke="#1a1a1a" stroke-width="1"/>
<text x="303" y="280.9" font-size="6.6" text-anchor="end" fill="#2a2a2a" stroke="#2a2a2a" stroke-width="0.18">1.5</text>
<line x1="305.3" y1="293.5" x2="308.3" y2="293.5" stroke="#1a1a1a" stroke-width="1"/>
<text x="303" y="296.2" font-size="6.6" text-anchor="end" fill="#2a2a2a" stroke="#2a2a2a" stroke-width="0.18">1.0</text>
<line x1="305.3" y1="309.5" x2="308.3" y2="309.5" stroke="#1a1a1a" stroke-width="1"/>
<text x="303" y="311.5" font-size="6.6" text-anchor="end" fill="#2a2a2a" stroke="#2a2a2a" stroke-width="0.18">0.5</text>
<line x1="305.3" y1="324.5" x2="308.3" y2="324.5" stroke="#1a1a1a" stroke-width="1"/>
<text x="303" y="326.8" font-size="6.6" text-anchor="end" fill="#2a2a2a" stroke="#2a2a2a" stroke-width="0.18">0.0</text>
<line x1="305.3" y1="339.5" x2="308.3" y2="339.5" stroke="#1a1a1a" stroke-width="1"/>
<text x="303" y="342.1" font-size="6.6" text-anchor="end" fill="#2a2a2a" stroke="#2a2a2a" stroke-width="0.18">−0.5</text>
<line x1="305.3" y1="355.5" x2="308.3" y2="355.5" stroke="#1a1a1a" stroke-width="1"/>
<text x="303" y="357.4" font-size="6.6" text-anchor="end" fill="#2a2a2a" stroke="#2a2a2a" stroke-width="0.18">−1.0</text>
<line x1="305.3" y1="370.5" x2="308.3" y2="370.5" stroke="#1a1a1a" stroke-width="1"/>
<text x="303" y="372.7" font-size="6.6" text-anchor="end" fill="#2a2a2a" stroke="#2a2a2a" stroke-width="0.18">−1.5</text>
<line x1="305.3" y1="385.5" x2="308.3" y2="385.5" stroke="#1a1a1a" stroke-width="1"/>
<text x="303" y="388" font-size="6.6" text-anchor="end" fill="#2a2a2a" stroke="#2a2a2a" stroke-width="0.18">−2.0</text>
<line x1="307.7" y1="391.5" x2="513" y2="391.5" stroke="#1a1a1a" stroke-width="1.3"/>
<line x1="322.5" y1="391.3" x2="322.5" y2="394.3" stroke="#1a1a1a" stroke-width="1"/>
<line x1="343.5" y1="391.3" x2="343.5" y2="394.3" stroke="#1a1a1a" stroke-width="1"/>
<line x1="364.5" y1="391.3" x2="364.5" y2="394.3" stroke="#1a1a1a" stroke-width="1"/>
<line x1="389.5" y1="391.3" x2="389.5" y2="394.3" stroke="#1a1a1a" stroke-width="1"/>
<line x1="410.5" y1="391.3" x2="410.5" y2="394.3" stroke="#1a1a1a" stroke-width="1"/>
<line x1="431.5" y1="391.3" x2="431.5" y2="394.3" stroke="#1a1a1a" stroke-width="1"/>
<line x1="456.5" y1="391.3" x2="456.5" y2="394.3" stroke="#1a1a1a" stroke-width="1"/>
<line x1="477.5" y1="391.3" x2="477.5" y2="394.3" stroke="#1a1a1a" stroke-width="1"/>
<line x1="498.5" y1="391.3" x2="498.5" y2="394.3" stroke="#1a1a1a" stroke-width="1"/>
<text x="285" y="325.3" font-size="8.3" text-anchor="middle" fill="#383838" stroke="#383838" stroke-width="0.06" transform="rotate(-90 285 325.3)" textLength="38.8" lengthAdjust="spacingAndGlyphs">Δ Power (dB)</text>
<text x="343.8" y="387.1" font-size="7.2" text-anchor="middle" fill="#333" stroke="#333" stroke-width="0.05" textLength="16.2" lengthAdjust="spacingAndGlyphs">Theta</text>
<text x="410.9" y="387.1" font-size="7.2" text-anchor="middle" fill="#333" stroke="#333" stroke-width="0.05" textLength="16.21" lengthAdjust="spacingAndGlyphs">Alpha</text>
<text x="477.6" y="387.1" font-size="7.2" text-anchor="middle" fill="#333" stroke="#333" stroke-width="0.05" textLength="13.03" lengthAdjust="spacingAndGlyphs">Beta</text>
<text x="324.9" y="400.6" font-size="7.6" text-anchor="end" fill="#2a2a2a" stroke="#2a2a2a" stroke-width="0.18" transform="rotate(-45 324.9 400.6)" textLength="26.43" lengthAdjust="spacingAndGlyphs">Negative</text>
<text x="346.1" y="400.6" font-size="7.6" text-anchor="end" fill="#2a2a2a" stroke="#2a2a2a" stroke-width="0.18" transform="rotate(-45 346.1 400.6)" textLength="17.49" lengthAdjust="spacingAndGlyphs">40 Hz</text>
<text x="367.2" y="400.6" font-size="7.6" text-anchor="end" fill="#2a2a2a" stroke="#2a2a2a" stroke-width="0.18" transform="rotate(-45 367.2 400.6)" textLength="17.12" lengthAdjust="spacingAndGlyphs">3 kHz</text>
<text x="392.1" y="400.6" font-size="7.6" text-anchor="end" fill="#2a2a2a" stroke="#2a2a2a" stroke-width="0.18" transform="rotate(-45 392.1 400.6)" textLength="26.43" lengthAdjust="spacingAndGlyphs">Negative</text>
<text x="413.3" y="400.6" font-size="7.6" text-anchor="end" fill="#2a2a2a" stroke="#2a2a2a" stroke-width="0.18" transform="rotate(-45 413.3 400.6)" textLength="17.49" lengthAdjust="spacingAndGlyphs">40 Hz</text>
<text x="434.3" y="400.6" font-size="7.6" text-anchor="end" fill="#2a2a2a" stroke="#2a2a2a" stroke-width="0.18" transform="rotate(-45 434.3 400.6)" textLength="17.12" lengthAdjust="spacingAndGlyphs">3 kHz</text>
<text x="458.9" y="400.6" font-size="7.6" text-anchor="end" fill="#2a2a2a" stroke="#2a2a2a" stroke-width="0.18" transform="rotate(-45 458.9 400.6)" textLength="26.43" lengthAdjust="spacingAndGlyphs">Negative</text>
<text x="480.1" y="400.6" font-size="7.6" text-anchor="end" fill="#2a2a2a" stroke="#2a2a2a" stroke-width="0.18" transform="rotate(-45 480.1 400.6)" textLength="17.49" lengthAdjust="spacingAndGlyphs">40 Hz</text>
<text x="501.1" y="400.6" font-size="7.6" text-anchor="end" fill="#2a2a2a" stroke="#2a2a2a" stroke-width="0.18" transform="rotate(-45 501.1 400.6)" textLength="17.12" lengthAdjust="spacingAndGlyphs">3 kHz</text>
<path d="M320.5 266.8 V263.5 H366.5 V266.8" stroke="#1a1a1a" stroke-width="1.1" fill="none"/>
<line x1="343.5" y1="263.8" x2="343.5" y2="266.4" stroke="#1a1a1a" stroke-width="1"/>
<text x="332.9" y="261.6" font-size="6.9" text-anchor="middle" fill="#1a1a1a" textLength="9.9" lengthAdjust="spacingAndGlyphs" font-style="italic">###</text>
<text x="354.05" y="261.6" font-size="6.9" text-anchor="middle" fill="#1a1a1a" textLength="3.3" lengthAdjust="spacingAndGlyphs" font-style="italic">#</text>
<path d="M387.7 266.8 V263.5 H433.6 V266.8" stroke="#1a1a1a" stroke-width="1.1" fill="none"/>
<line x1="410.5" y1="263.8" x2="410.5" y2="266.4" stroke="#1a1a1a" stroke-width="1"/>
<text x="400.1" y="261.6" font-size="6.9" text-anchor="middle" fill="#1a1a1a" textLength="9.9" lengthAdjust="spacingAndGlyphs" font-style="italic">###</text>
<text x="421.2" y="261.6" font-size="6.9" text-anchor="middle" fill="#1a1a1a" textLength="6.6" lengthAdjust="spacingAndGlyphs" font-style="italic">##</text>
<path d="M454.5 266.8 V263.5 H500.4 V266.8" stroke="#1a1a1a" stroke-width="1.1" fill="none"/>
<line x1="477.5" y1="263.8" x2="477.5" y2="266.4" stroke="#1a1a1a" stroke-width="1"/>
<text x="466.9" y="261.6" font-size="6.9" text-anchor="middle" fill="#1a1a1a" textLength="6.6" lengthAdjust="spacingAndGlyphs" font-style="italic">##</text>
<text x="488" y="261.6" font-size="6.9" text-anchor="middle" fill="#1a1a1a" textLength="3.3" lengthAdjust="spacingAndGlyphs" font-style="italic">#</text>
<text x="8.5" y="444.8" font-size="10.9" text-anchor="start" fill="#000" font-weight="bold">E</text>
<text x="146.6" y="447.4" font-size="9.6" text-anchor="middle" fill="#2a2a2a" stroke="#2a2a2a" stroke-width="0.18" textLength="77.2" lengthAdjust="spacingAndGlyphs">Resting state power</text>
<line x1="114.5" y1="490" x2="114.5" y2="616" stroke="#555" stroke-width="0.8" stroke-dasharray="1 1.3"/>
<line x1="178.5" y1="490" x2="178.5" y2="616" stroke="#555" stroke-width="0.8" stroke-dasharray="1 1.3"/>
<rect x="56" y="529.2" width="13" height="8.26" fill="#c80226"/>
<rect x="76.2" y="529.2" width="13" height="15.61" fill="#aec184"/>
<rect x="96" y="529.2" width="13" height="16.06" fill="#2aa9e0"/>
<rect x="120" y="529.2" width="13" height="12.16" fill="#c80226"/>
<rect x="140.2" y="529.2" width="13" height="18.59" fill="#aec184"/>
<rect x="160.2" y="529.2" width="13" height="19.05" fill="#2aa9e0"/>
<rect x="183.9" y="529.2" width="13" height="27.08" fill="#c80226"/>
<rect x="204.3" y="529.2" width="13" height="33.51" fill="#aec184"/>
<rect x="224" y="529.2" width="13" height="32.82" fill="#2aa9e0"/>
<circle cx="62.5" cy="494.55" r="1.15" fill="rgba(0,0,0,0.55)" stroke="rgba(0,0,0,0.62)" stroke-width="0.6"/>
<circle cx="62.5" cy="507.17" r="1.15" fill="rgba(0,0,0,0.55)" stroke="rgba(0,0,0,0.62)" stroke-width="0.6"/>
<circle cx="62.5" cy="512.68" r="1.15" fill="rgba(0,0,0,0.55)" stroke="rgba(0,0,0,0.62)" stroke-width="0.6"/>
<circle cx="62.5" cy="515.43" r="1.15" fill="rgba(0,0,0,0.55)" stroke="rgba(0,0,0,0.62)" stroke-width="0.6"/>
<circle cx="62.5" cy="519.1" r="1.15" fill="rgba(0,0,0,0.55)" stroke="rgba(0,0,0,0.62)" stroke-width="0.6"/>
<circle cx="62.5" cy="522.54" r="1.15" fill="rgba(0,0,0,0.55)" stroke="rgba(0,0,0,0.62)" stroke-width="0.6"/>
<circle cx="62.5" cy="531.04" r="1.15" fill="rgba(0,0,0,0.55)" stroke="rgba(0,0,0,0.62)" stroke-width="0.6"/>
<circle cx="62.5" cy="533.79" r="1.15" fill="rgba(0,0,0,0.55)" stroke="rgba(0,0,0,0.62)" stroke-width="0.6"/>
<circle cx="66.1" cy="536.09" r="1.15" fill="rgba(0,0,0,0.55)" stroke="rgba(0,0,0,0.62)" stroke-width="0.6"/>
<circle cx="62.5" cy="538.38" r="1.15" fill="rgba(0,0,0,0.55)" stroke="rgba(0,0,0,0.62)" stroke-width="0.6"/>
<circle cx="62.5" cy="541.59" r="1.15" fill="rgba(0,0,0,0.55)" stroke="rgba(0,0,0,0.62)" stroke-width="0.6"/>
<circle cx="66.1" cy="542.05" r="1.15" fill="rgba(0,0,0,0.55)" stroke="rgba(0,0,0,0.62)" stroke-width="0.6"/>
<circle cx="58.9" cy="543.43" r="1.15" fill="rgba(0,0,0,0.55)" stroke="rgba(0,0,0,0.62)" stroke-width="0.6"/>
<circle cx="62.5" cy="545.27" r="1.15" fill="rgba(0,0,0,0.55)" stroke="rgba(0,0,0,0.62)" stroke-width="0.6"/>
<circle cx="66.1" cy="545.72" r="1.15" fill="rgba(0,0,0,0.55)" stroke="rgba(0,0,0,0.62)" stroke-width="0.6"/>
<circle cx="58.9" cy="547.1" r="1.15" fill="rgba(0,0,0,0.55)" stroke="rgba(0,0,0,0.62)" stroke-width="0.6"/>
<circle cx="69.7" cy="547.56" r="1.15" fill="rgba(0,0,0,0.55)" stroke="rgba(0,0,0,0.62)" stroke-width="0.6"/>
<circle cx="62.5" cy="548.02" r="1.15" fill="rgba(0,0,0,0.55)" stroke="rgba(0,0,0,0.62)" stroke-width="0.6"/>
<circle cx="66.1" cy="548.48" r="1.15" fill="rgba(0,0,0,0.55)" stroke="rgba(0,0,0,0.62)" stroke-width="0.6"/>
<circle cx="55.3" cy="549.4" r="1.15" fill="rgba(0,0,0,0.55)" stroke="rgba(0,0,0,0.62)" stroke-width="0.6"/>
<circle cx="58.9" cy="549.86" r="1.15" fill="rgba(0,0,0,0.55)" stroke="rgba(0,0,0,0.62)" stroke-width="0.6"/>
<circle cx="69.7" cy="550.31" r="1.15" fill="rgba(0,0,0,0.55)" stroke="rgba(0,0,0,0.62)" stroke-width="0.6"/>
<circle cx="62.5" cy="551.23" r="1.15" fill="rgba(0,0,0,0.55)" stroke="rgba(0,0,0,0.62)" stroke-width="0.6"/>
<circle cx="66.1" cy="552.15" r="1.15" fill="rgba(0,0,0,0.55)" stroke="rgba(0,0,0,0.62)" stroke-width="0.6"/>
<circle cx="58.9" cy="553.53" r="1.15" fill="rgba(0,0,0,0.55)" stroke="rgba(0,0,0,0.62)" stroke-width="0.6"/>
<circle cx="62.5" cy="554.9" r="1.15" fill="rgba(0,0,0,0.55)" stroke="rgba(0,0,0,0.62)" stroke-width="0.6"/>
<circle cx="82.7" cy="521.49" r="1.15" fill="rgba(0,0,0,0.55)" stroke="rgba(0,0,0,0.62)" stroke-width="0.6"/>
<circle cx="82.7" cy="527.82" r="1.15" fill="rgba(0,0,0,0.55)" stroke="rgba(0,0,0,0.62)" stroke-width="0.6"/>
<circle cx="82.7" cy="533.1" r="1.15" fill="rgba(0,0,0,0.55)" stroke="rgba(0,0,0,0.62)" stroke-width="0.6"/>
<circle cx="82.7" cy="536.09" r="1.15" fill="rgba(0,0,0,0.55)" stroke="rgba(0,0,0,0.62)" stroke-width="0.6"/>
<circle cx="82.7" cy="539.53" r="1.15" fill="rgba(0,0,0,0.55)" stroke="rgba(0,0,0,0.62)" stroke-width="0.6"/>
<circle cx="82.7" cy="542.97" r="1.15" fill="rgba(0,0,0,0.55)" stroke="rgba(0,0,0,0.62)" stroke-width="0.6"/>
<circle cx="82.7" cy="545.72" r="1.15" fill="rgba(0,0,0,0.55)" stroke="rgba(0,0,0,0.62)" stroke-width="0.6"/>
<circle cx="86.3" cy="547.56" r="1.15" fill="rgba(0,0,0,0.55)" stroke="rgba(0,0,0,0.62)" stroke-width="0.6"/>
<circle cx="82.7" cy="548.94" r="1.15" fill="rgba(0,0,0,0.55)" stroke="rgba(0,0,0,0.62)" stroke-width="0.6"/>
<circle cx="79.1" cy="549.4" r="1.15" fill="rgba(0,0,0,0.55)" stroke="rgba(0,0,0,0.62)" stroke-width="0.6"/>
<circle cx="89.9" cy="549.86" r="1.15" fill="rgba(0,0,0,0.55)" stroke="rgba(0,0,0,0.62)" stroke-width="0.6"/>
<circle cx="86.3" cy="550.31" r="1.15" fill="rgba(0,0,0,0.55)" stroke="rgba(0,0,0,0.62)" stroke-width="0.6"/>
<circle cx="75.5" cy="550.77" r="1.15" fill="rgba(0,0,0,0.55)" stroke="rgba(0,0,0,0.62)" stroke-width="0.6"/>
<circle cx="82.7" cy="551.23" r="1.15" fill="rgba(0,0,0,0.55)" stroke="rgba(0,0,0,0.62)" stroke-width="0.6"/>
<circle cx="79.1" cy="552.15" r="1.15" fill="rgba(0,0,0,0.55)" stroke="rgba(0,0,0,0.62)" stroke-width="0.6"/>
<circle cx="86.3" cy="553.07" r="1.15" fill="rgba(0,0,0,0.55)" stroke="rgba(0,0,0,0.62)" stroke-width="0.6"/>
<circle cx="102.5" cy="530.12" r="1.15" fill="rgba(0,0,0,0.55)" stroke="rgba(0,0,0,0.62)" stroke-width="0.6"/>
<circle cx="102.5" cy="535.17" r="1.15" fill="rgba(0,0,0,0.55)" stroke="rgba(0,0,0,0.62)" stroke-width="0.6"/>
<circle cx="102.5" cy="538.38" r="1.15" fill="rgba(0,0,0,0.55)" stroke="rgba(0,0,0,0.62)" stroke-width="0.6"/>
<circle cx="106.1" cy="540.68" r="1.15" fill="rgba(0,0,0,0.55)" stroke="rgba(0,0,0,0.62)" stroke-width="0.6"/>
<circle cx="102.5" cy="544.35" r="1.15" fill="rgba(0,0,0,0.55)" stroke="rgba(0,0,0,0.62)" stroke-width="0.6"/>
<circle cx="106.1" cy="544.35" r="1.15" fill="rgba(0,0,0,0.55)" stroke="rgba(0,0,0,0.62)" stroke-width="0.6"/>
<circle cx="98.9" cy="544.81" r="1.15" fill="rgba(0,0,0,0.55)" stroke="rgba(0,0,0,0.62)" stroke-width="0.6"/>
<circle cx="109.7" cy="545.72" r="1.15" fill="rgba(0,0,0,0.55)" stroke="rgba(0,0,0,0.62)" stroke-width="0.6"/>
<circle cx="102.5" cy="547.1" r="1.15" fill="rgba(0,0,0,0.55)" stroke="rgba(0,0,0,0.62)" stroke-width="0.6"/>
<circle cx="106.1" cy="547.56" r="1.15" fill="rgba(0,0,0,0.55)" stroke="rgba(0,0,0,0.62)" stroke-width="0.6"/>
<circle cx="98.9" cy="548.02" r="1.15" fill="rgba(0,0,0,0.55)" stroke="rgba(0,0,0,0.62)" stroke-width="0.6"/>
<circle cx="109.7" cy="548.48" r="1.15" fill="rgba(0,0,0,0.55)" stroke="rgba(0,0,0,0.62)" stroke-width="0.6"/>
<circle cx="95.3" cy="548.94" r="1.15" fill="rgba(0,0,0,0.55)" stroke="rgba(0,0,0,0.62)" stroke-width="0.6"/>
<circle cx="102.5" cy="549.86" r="1.15" fill="rgba(0,0,0,0.55)" stroke="rgba(0,0,0,0.62)" stroke-width="0.6"/>
<circle cx="106.1" cy="550.77" r="1.15" fill="rgba(0,0,0,0.55)" stroke="rgba(0,0,0,0.62)" stroke-width="0.6"/>
<circle cx="98.9" cy="552.15" r="1.15" fill="rgba(0,0,0,0.55)" stroke="rgba(0,0,0,0.62)" stroke-width="0.6"/>
<circle cx="102.5" cy="554.45" r="1.15" fill="rgba(0,0,0,0.55)" stroke="rgba(0,0,0,0.62)" stroke-width="0.6"/>
<circle cx="126.5" cy="500.28" r="1.15" fill="rgba(0,0,0,0.55)" stroke="rgba(0,0,0,0.62)" stroke-width="0.6"/>
<circle cx="126.5" cy="512.22" r="1.15" fill="rgba(0,0,0,0.55)" stroke="rgba(0,0,0,0.62)" stroke-width="0.6"/>
<circle cx="126.5" cy="517.73" r="1.15" fill="rgba(0,0,0,0.55)" stroke="rgba(0,0,0,0.62)" stroke-width="0.6"/>
<circle cx="126.5" cy="520.94" r="1.15" fill="rgba(0,0,0,0.55)" stroke="rgba(0,0,0,0.62)" stroke-width="0.6"/>
<circle cx="126.5" cy="524.15" r="1.15" fill="rgba(0,0,0,0.55)" stroke="rgba(0,0,0,0.62)" stroke-width="0.6"/>
<circle cx="126.5" cy="527.59" r="1.15" fill="rgba(0,0,0,0.55)" stroke="rgba(0,0,0,0.62)" stroke-width="0.6"/>
<circle cx="126.5" cy="536.09" r="1.15" fill="rgba(0,0,0,0.55)" stroke="rgba(0,0,0,0.62)" stroke-width="0.6"/>
<circle cx="130.1" cy="538.38" r="1.15" fill="rgba(0,0,0,0.55)" stroke="rgba(0,0,0,0.62)" stroke-width="0.6"/>
<circle cx="126.5" cy="539.76" r="1.15" fill="rgba(0,0,0,0.55)" stroke="rgba(0,0,0,0.62)" stroke-width="0.6"/>
<circle cx="126.5" cy="543.89" r="1.15" fill="rgba(0,0,0,0.55)" stroke="rgba(0,0,0,0.62)" stroke-width="0.6"/>
<circle cx="130.1" cy="545.27" r="1.15" fill="rgba(0,0,0,0.55)" stroke="rgba(0,0,0,0.62)" stroke-width="0.6"/>
<circle cx="126.5" cy="546.64" r="1.15" fill="rgba(0,0,0,0.55)" stroke="rgba(0,0,0,0.62)" stroke-width="0.6"/>
<circle cx="122.9" cy="547.56" r="1.15" fill="rgba(0,0,0,0.55)" stroke="rgba(0,0,0,0.62)" stroke-width="0.6"/>
<circle cx="130.1" cy="548.48" r="1.15" fill="rgba(0,0,0,0.55)" stroke="rgba(0,0,0,0.62)" stroke-width="0.6"/>
<circle cx="126.5" cy="549.4" r="1.15" fill="rgba(0,0,0,0.55)" stroke="rgba(0,0,0,0.62)" stroke-width="0.6"/>
<circle cx="122.9" cy="550.31" r="1.15" fill="rgba(0,0,0,0.55)" stroke="rgba(0,0,0,0.62)" stroke-width="0.6"/>
<circle cx="130.1" cy="551.23" r="1.15" fill="rgba(0,0,0,0.55)" stroke="rgba(0,0,0,0.62)" stroke-width="0.6"/>
<circle cx="126.5" cy="552.15" r="1.15" fill="rgba(0,0,0,0.55)" stroke="rgba(0,0,0,0.62)" stroke-width="0.6"/>
<circle cx="122.9" cy="553.07" r="1.15" fill="rgba(0,0,0,0.55)" stroke="rgba(0,0,0,0.62)" stroke-width="0.6"/>
<circle cx="130.1" cy="553.99" r="1.15" fill="rgba(0,0,0,0.55)" stroke="rgba(0,0,0,0.62)" stroke-width="0.6"/>
<circle cx="126.5" cy="554.9" r="1.15" fill="rgba(0,0,0,0.55)" stroke="rgba(0,0,0,0.62)" stroke-width="0.6"/>
<circle cx="122.9" cy="555.82" r="1.15" fill="rgba(0,0,0,0.55)" stroke="rgba(0,0,0,0.62)" stroke-width="0.6"/>
<circle cx="130.1" cy="557.2" r="1.15" fill="rgba(0,0,0,0.55)" stroke="rgba(0,0,0,0.62)" stroke-width="0.6"/>
<circle cx="146.7" cy="526.91" r="1.15" fill="rgba(0,0,0,0.55)" stroke="rgba(0,0,0,0.62)" stroke-width="0.6"/>
<circle cx="146.7" cy="531.95" r="1.15" fill="rgba(0,0,0,0.55)" stroke="rgba(0,0,0,0.62)" stroke-width="0.6"/>
<circle cx="146.7" cy="534.71" r="1.15" fill="rgba(0,0,0,0.55)" stroke="rgba(0,0,0,0.62)" stroke-width="0.6"/>
<circle cx="150.3" cy="537" r="1.15" fill="rgba(0,0,0,0.55)" stroke="rgba(0,0,0,0.62)" stroke-width="0.6"/>
<circle cx="146.7" cy="540.22" r="1.15" fill="rgba(0,0,0,0.55)" stroke="rgba(0,0,0,0.62)" stroke-width="0.6"/>
<circle cx="146.7" cy="542.97" r="1.15" fill="rgba(0,0,0,0.55)" stroke="rgba(0,0,0,0.62)" stroke-width="0.6"/>
<circle cx="146.7" cy="548.02" r="1.15" fill="rgba(0,0,0,0.55)" stroke="rgba(0,0,0,0.62)" stroke-width="0.6"/>
<circle cx="150.3" cy="550.31" r="1.15" fill="rgba(0,0,0,0.55)" stroke="rgba(0,0,0,0.62)" stroke-width="0.6"/>
<circle cx="146.7" cy="551.23" r="1.15" fill="rgba(0,0,0,0.55)" stroke="rgba(0,0,0,0.62)" stroke-width="0.6"/>
<circle cx="143.1" cy="552.15" r="1.15" fill="rgba(0,0,0,0.55)" stroke="rgba(0,0,0,0.62)" stroke-width="0.6"/>
<circle cx="153.9" cy="552.61" r="1.15" fill="rgba(0,0,0,0.55)" stroke="rgba(0,0,0,0.62)" stroke-width="0.6"/>
<circle cx="150.3" cy="553.07" r="1.15" fill="rgba(0,0,0,0.55)" stroke="rgba(0,0,0,0.62)" stroke-width="0.6"/>
<circle cx="139.5" cy="553.53" r="1.15" fill="rgba(0,0,0,0.55)" stroke="rgba(0,0,0,0.62)" stroke-width="0.6"/>
<circle cx="146.7" cy="554.45" r="1.15" fill="rgba(0,0,0,0.55)" stroke="rgba(0,0,0,0.62)" stroke-width="0.6"/>
<circle cx="143.1" cy="555.36" r="1.15" fill="rgba(0,0,0,0.55)" stroke="rgba(0,0,0,0.62)" stroke-width="0.6"/>
<circle cx="166.7" cy="534.71" r="1.15" fill="rgba(0,0,0,0.55)" stroke="rgba(0,0,0,0.62)" stroke-width="0.6"/>
<circle cx="166.7" cy="539.3" r="1.15" fill="rgba(0,0,0,0.55)" stroke="rgba(0,0,0,0.62)" stroke-width="0.6"/>
<circle cx="170.3" cy="541.13" r="1.15" fill="rgba(0,0,0,0.55)" stroke="rgba(0,0,0,0.62)" stroke-width="0.6"/>
<circle cx="166.7" cy="542.97" r="1.15" fill="rgba(0,0,0,0.55)" stroke="rgba(0,0,0,0.62)" stroke-width="0.6"/>
<circle cx="166.7" cy="547.56" r="1.15" fill="rgba(0,0,0,0.55)" stroke="rgba(0,0,0,0.62)" stroke-width="0.6"/>
<circle cx="170.3" cy="548.02" r="1.15" fill="rgba(0,0,0,0.55)" stroke="rgba(0,0,0,0.62)" stroke-width="0.6"/>
<circle cx="163.1" cy="548.02" r="1.15" fill="rgba(0,0,0,0.55)" stroke="rgba(0,0,0,0.62)" stroke-width="0.6"/>
<circle cx="173.9" cy="548.48" r="1.15" fill="rgba(0,0,0,0.55)" stroke="rgba(0,0,0,0.62)" stroke-width="0.6"/>
<circle cx="159.5" cy="548.48" r="1.15" fill="rgba(0,0,0,0.55)" stroke="rgba(0,0,0,0.62)" stroke-width="0.6"/>
<circle cx="166.7" cy="549.86" r="1.15" fill="rgba(0,0,0,0.55)" stroke="rgba(0,0,0,0.62)" stroke-width="0.6"/>
<circle cx="170.3" cy="551.23" r="1.15" fill="rgba(0,0,0,0.55)" stroke="rgba(0,0,0,0.62)" stroke-width="0.6"/>
<circle cx="163.1" cy="551.69" r="1.15" fill="rgba(0,0,0,0.55)" stroke="rgba(0,0,0,0.62)" stroke-width="0.6"/>
<circle cx="173.9" cy="552.15" r="1.15" fill="rgba(0,0,0,0.55)" stroke="rgba(0,0,0,0.62)" stroke-width="0.6"/>
<circle cx="166.7" cy="552.61" r="1.15" fill="rgba(0,0,0,0.55)" stroke="rgba(0,0,0,0.62)" stroke-width="0.6"/>
<circle cx="159.5" cy="553.53" r="1.15" fill="rgba(0,0,0,0.55)" stroke="rgba(0,0,0,0.62)" stroke-width="0.6"/>
<circle cx="170.3" cy="554.9" r="1.15" fill="rgba(0,0,0,0.55)" stroke="rgba(0,0,0,0.62)" stroke-width="0.6"/>
<circle cx="166.7" cy="556.28" r="1.15" fill="rgba(0,0,0,0.55)" stroke="rgba(0,0,0,0.62)" stroke-width="0.6"/>
<circle cx="190.4" cy="525.07" r="1.15" fill="rgba(0,0,0,0.55)" stroke="rgba(0,0,0,0.62)" stroke-width="0.6"/>
<circle cx="190.4" cy="536.09" r="1.15" fill="rgba(0,0,0,0.55)" stroke="rgba(0,0,0,0.62)" stroke-width="0.6"/>
<circle cx="190.4" cy="538.84" r="1.15" fill="rgba(0,0,0,0.55)" stroke="rgba(0,0,0,0.62)" stroke-width="0.6"/>
<circle cx="190.4" cy="542.51" r="1.15" fill="rgba(0,0,0,0.55)" stroke="rgba(0,0,0,0.62)" stroke-width="0.6"/>
<circle cx="190.4" cy="546.64" r="1.15" fill="rgba(0,0,0,0.55)" stroke="rgba(0,0,0,0.62)" stroke-width="0.6"/>
<circle cx="190.4" cy="551.23" r="1.15" fill="rgba(0,0,0,0.55)" stroke="rgba(0,0,0,0.62)" stroke-width="0.6"/>
<circle cx="194" cy="551.23" r="1.15" fill="rgba(0,0,0,0.55)" stroke="rgba(0,0,0,0.62)" stroke-width="0.6"/>
<circle cx="186.8" cy="551.69" r="1.15" fill="rgba(0,0,0,0.55)" stroke="rgba(0,0,0,0.62)" stroke-width="0.6"/>
<circle cx="197.6" cy="552.15" r="1.15" fill="rgba(0,0,0,0.55)" stroke="rgba(0,0,0,0.62)" stroke-width="0.6"/>
<circle cx="190.4" cy="557.66" r="1.15" fill="rgba(0,0,0,0.55)" stroke="rgba(0,0,0,0.62)" stroke-width="0.6"/>
<circle cx="194" cy="558.58" r="1.15" fill="rgba(0,0,0,0.55)" stroke="rgba(0,0,0,0.62)" stroke-width="0.6"/>
<circle cx="186.8" cy="559.49" r="1.15" fill="rgba(0,0,0,0.55)" stroke="rgba(0,0,0,0.62)" stroke-width="0.6"/>
<circle cx="190.4" cy="560.41" r="1.15" fill="rgba(0,0,0,0.55)" stroke="rgba(0,0,0,0.62)" stroke-width="0.6"/>
<circle cx="197.6" cy="560.87" r="1.15" fill="rgba(0,0,0,0.55)" stroke="rgba(0,0,0,0.62)" stroke-width="0.6"/>
<circle cx="194" cy="561.79" r="1.15" fill="rgba(0,0,0,0.55)" stroke="rgba(0,0,0,0.62)" stroke-width="0.6"/>
<circle cx="186.8" cy="562.71" r="1.15" fill="rgba(0,0,0,0.55)" stroke="rgba(0,0,0,0.62)" stroke-width="0.6"/>
<circle cx="190.4" cy="563.17" r="1.15" fill="rgba(0,0,0,0.55)" stroke="rgba(0,0,0,0.62)" stroke-width="0.6"/>
<circle cx="197.6" cy="563.62" r="1.15" fill="rgba(0,0,0,0.55)" stroke="rgba(0,0,0,0.62)" stroke-width="0.6"/>
<circle cx="183.2" cy="564.08" r="1.15" fill="rgba(0,0,0,0.55)" stroke="rgba(0,0,0,0.62)" stroke-width="0.6"/>
<circle cx="194" cy="565" r="1.15" fill="rgba(0,0,0,0.55)" stroke="rgba(0,0,0,0.62)" stroke-width="0.6"/>
<circle cx="190.4" cy="565.92" r="1.15" fill="rgba(0,0,0,0.55)" stroke="rgba(0,0,0,0.62)" stroke-width="0.6"/>
<circle cx="186.8" cy="566.84" r="1.15" fill="rgba(0,0,0,0.55)" stroke="rgba(0,0,0,0.62)" stroke-width="0.6"/>
<circle cx="194" cy="567.76" r="1.15" fill="rgba(0,0,0,0.55)" stroke="rgba(0,0,0,0.62)" stroke-width="0.6"/>
<circle cx="210.8" cy="551.69" r="1.15" fill="rgba(0,0,0,0.55)" stroke="rgba(0,0,0,0.62)" stroke-width="0.6"/>
<circle cx="214.4" cy="553.53" r="1.15" fill="rgba(0,0,0,0.55)" stroke="rgba(0,0,0,0.62)" stroke-width="0.6"/>
<circle cx="210.8" cy="554.45" r="1.15" fill="rgba(0,0,0,0.55)" stroke="rgba(0,0,0,0.62)" stroke-width="0.6"/>
<circle cx="210.8" cy="562.25" r="1.15" fill="rgba(0,0,0,0.55)" stroke="rgba(0,0,0,0.62)" stroke-width="0.6"/>
<circle cx="214.4" cy="563.17" r="1.15" fill="rgba(0,0,0,0.55)" stroke="rgba(0,0,0,0.62)" stroke-width="0.6"/>
<circle cx="207.2" cy="564.08" r="1.15" fill="rgba(0,0,0,0.55)" stroke="rgba(0,0,0,0.62)" stroke-width="0.6"/>
<circle cx="218" cy="564.54" r="1.15" fill="rgba(0,0,0,0.55)" stroke="rgba(0,0,0,0.62)" stroke-width="0.6"/>
<circle cx="210.8" cy="565" r="1.15" fill="rgba(0,0,0,0.55)" stroke="rgba(0,0,0,0.62)" stroke-width="0.6"/>
<circle cx="203.6" cy="565.46" r="1.15" fill="rgba(0,0,0,0.55)" stroke="rgba(0,0,0,0.62)" stroke-width="0.6"/>
<circle cx="214.4" cy="565.92" r="1.15" fill="rgba(0,0,0,0.55)" stroke="rgba(0,0,0,0.62)" stroke-width="0.6"/>
<circle cx="207.2" cy="565.92" r="1.15" fill="rgba(0,0,0,0.55)" stroke="rgba(0,0,0,0.62)" stroke-width="0.6"/>
<circle cx="218" cy="566.38" r="1.15" fill="rgba(0,0,0,0.55)" stroke="rgba(0,0,0,0.62)" stroke-width="0.6"/>
<circle cx="210.8" cy="566.84" r="1.15" fill="rgba(0,0,0,0.55)" stroke="rgba(0,0,0,0.62)" stroke-width="0.6"/>
<circle cx="230.5" cy="551.69" r="1.15" fill="rgba(0,0,0,0.55)" stroke="rgba(0,0,0,0.62)" stroke-width="0.6"/>
<circle cx="234.1" cy="553.07" r="1.15" fill="rgba(0,0,0,0.55)" stroke="rgba(0,0,0,0.62)" stroke-width="0.6"/>
<circle cx="230.5" cy="555.36" r="1.15" fill="rgba(0,0,0,0.55)" stroke="rgba(0,0,0,0.62)" stroke-width="0.6"/>
<circle cx="234.1" cy="557.2" r="1.15" fill="rgba(0,0,0,0.55)" stroke="rgba(0,0,0,0.62)" stroke-width="0.6"/>
<circle cx="230.5" cy="559.49" r="1.15" fill="rgba(0,0,0,0.55)" stroke="rgba(0,0,0,0.62)" stroke-width="0.6"/>
<circle cx="234.1" cy="561.33" r="1.15" fill="rgba(0,0,0,0.55)" stroke="rgba(0,0,0,0.62)" stroke-width="0.6"/>
<circle cx="226.9" cy="561.79" r="1.15" fill="rgba(0,0,0,0.55)" stroke="rgba(0,0,0,0.62)" stroke-width="0.6"/>
<circle cx="230.5" cy="562.25" r="1.15" fill="rgba(0,0,0,0.55)" stroke="rgba(0,0,0,0.62)" stroke-width="0.6"/>
<circle cx="237.7" cy="562.25" r="1.15" fill="rgba(0,0,0,0.55)" stroke="rgba(0,0,0,0.62)" stroke-width="0.6"/>
<circle cx="223.3" cy="562.71" r="1.15" fill="rgba(0,0,0,0.55)" stroke="rgba(0,0,0,0.62)" stroke-width="0.6"/>
<circle cx="234.1" cy="562.71" r="1.15" fill="rgba(0,0,0,0.55)" stroke="rgba(0,0,0,0.62)" stroke-width="0.6"/>
<circle cx="226.9" cy="563.17" r="1.15" fill="rgba(0,0,0,0.55)" stroke="rgba(0,0,0,0.62)" stroke-width="0.6"/>
<circle cx="230.5" cy="563.62" r="1.15" fill="rgba(0,0,0,0.55)" stroke="rgba(0,0,0,0.62)" stroke-width="0.6"/>
<circle cx="237.7" cy="564.08" r="1.15" fill="rgba(0,0,0,0.55)" stroke="rgba(0,0,0,0.62)" stroke-width="0.6"/>
<circle cx="234.1" cy="564.54" r="1.15" fill="rgba(0,0,0,0.55)" stroke="rgba(0,0,0,0.62)" stroke-width="0.6"/>
<circle cx="223.3" cy="565" r="1.15" fill="rgba(0,0,0,0.55)" stroke="rgba(0,0,0,0.62)" stroke-width="0.6"/>
<circle cx="226.9" cy="565.46" r="1.15" fill="rgba(0,0,0,0.55)" stroke="rgba(0,0,0,0.62)" stroke-width="0.6"/>
<circle cx="230.5" cy="566.38" r="1.15" fill="rgba(0,0,0,0.55)" stroke="rgba(0,0,0,0.62)" stroke-width="0.6"/>
<line x1="62.5" y1="534.94" x2="62.5" y2="539.99" stroke="#111" stroke-width="1.0"/>
<line x1="82.5" y1="542.51" x2="82.5" y2="547.1" stroke="#111" stroke-width="1.0"/>
<line x1="102.5" y1="543.89" x2="102.5" y2="546.64" stroke="#111" stroke-width="1.0"/>
<line x1="126.5" y1="539.07" x2="126.5" y2="543.66" stroke="#111" stroke-width="1.0"/>
<line x1="146.5" y1="545.95" x2="146.5" y2="549.63" stroke="#111" stroke-width="1.0"/>
<line x1="166.5" y1="547.1" x2="166.5" y2="549.4" stroke="#111" stroke-width="1.0"/>
<line x1="190.5" y1="553.99" x2="190.5" y2="558.58" stroke="#111" stroke-width="1.0"/>
<line x1="210.5" y1="561.1" x2="210.5" y2="564.31" stroke="#111" stroke-width="1.0"/>
<line x1="230.5" y1="560.87" x2="230.5" y2="563.17" stroke="#111" stroke-width="1.0"/>
<line x1="49.5" y1="529.5" x2="244" y2="529.5" stroke="#1a1a1a" stroke-width="1.2"/>
<line x1="49.5" y1="489.5" x2="49.5" y2="616.6" stroke="#1a1a1a" stroke-width="1.3"/>
<line x1="46.5" y1="492.5" x2="49.5" y2="492.5" stroke="#1a1a1a" stroke-width="1"/>
<text x="44.2" y="494.78" font-size="6.6" text-anchor="end" fill="#2a2a2a" stroke="#2a2a2a" stroke-width="0.18">8</text>
<line x1="46.5" y1="501.5" x2="49.5" y2="501.5" stroke="#1a1a1a" stroke-width="1"/>
<text x="44.2" y="503.96" font-size="6.6" text-anchor="end" fill="#2a2a2a" stroke="#2a2a2a" stroke-width="0.18">6</text>
<line x1="46.5" y1="510.5" x2="49.5" y2="510.5" stroke="#1a1a1a" stroke-width="1"/>
<text x="44.2" y="513.14" font-size="6.6" text-anchor="end" fill="#2a2a2a" stroke="#2a2a2a" stroke-width="0.18">4</text>
<line x1="46.5" y1="520.5" x2="49.5" y2="520.5" stroke="#1a1a1a" stroke-width="1"/>
<text x="44.2" y="522.32" font-size="6.6" text-anchor="end" fill="#2a2a2a" stroke="#2a2a2a" stroke-width="0.18">2</text>
<line x1="46.5" y1="529.5" x2="49.5" y2="529.5" stroke="#1a1a1a" stroke-width="1"/>
<text x="44.2" y="531.5" font-size="6.6" text-anchor="end" fill="#2a2a2a" stroke="#2a2a2a" stroke-width="0.18">0</text>
<line x1="46.5" y1="538.5" x2="49.5" y2="538.5" stroke="#1a1a1a" stroke-width="1"/>
<text x="44.2" y="540.68" font-size="6.6" text-anchor="end" fill="#2a2a2a" stroke="#2a2a2a" stroke-width="0.18">−2</text>
<line x1="46.5" y1="547.5" x2="49.5" y2="547.5" stroke="#1a1a1a" stroke-width="1"/>
<text x="44.2" y="549.86" font-size="6.6" text-anchor="end" fill="#2a2a2a" stroke="#2a2a2a" stroke-width="0.18">−4</text>
<line x1="46.5" y1="556.5" x2="49.5" y2="556.5" stroke="#1a1a1a" stroke-width="1"/>
<text x="44.2" y="559.04" font-size="6.6" text-anchor="end" fill="#2a2a2a" stroke="#2a2a2a" stroke-width="0.18">−6</text>
<line x1="46.5" y1="565.5" x2="49.5" y2="565.5" stroke="#1a1a1a" stroke-width="1"/>
<text x="44.2" y="568.22" font-size="6.6" text-anchor="end" fill="#2a2a2a" stroke="#2a2a2a" stroke-width="0.18">−8</text>
<line x1="46.5" y1="575.5" x2="49.5" y2="575.5" stroke="#1a1a1a" stroke-width="1"/>
<text x="44.2" y="577.4" font-size="6.6" text-anchor="end" fill="#2a2a2a" stroke="#2a2a2a" stroke-width="0.18">−10</text>
<line x1="46.5" y1="584.5" x2="49.5" y2="584.5" stroke="#1a1a1a" stroke-width="1"/>
<text x="44.2" y="586.58" font-size="6.6" text-anchor="end" fill="#2a2a2a" stroke="#2a2a2a" stroke-width="0.18">−12</text>
<line x1="46.5" y1="593.5" x2="49.5" y2="593.5" stroke="#1a1a1a" stroke-width="1"/>
<text x="44.2" y="595.76" font-size="6.6" text-anchor="end" fill="#2a2a2a" stroke="#2a2a2a" stroke-width="0.18">−14</text>
<line x1="46.5" y1="602.5" x2="49.5" y2="602.5" stroke="#1a1a1a" stroke-width="1"/>
<text x="44.2" y="604.94" font-size="6.6" text-anchor="end" fill="#2a2a2a" stroke="#2a2a2a" stroke-width="0.18">−16</text>
<line x1="46.5" y1="611.5" x2="49.5" y2="611.5" stroke="#1a1a1a" stroke-width="1"/>
<text x="44.2" y="614.12" font-size="6.6" text-anchor="end" fill="#2a2a2a" stroke="#2a2a2a" stroke-width="0.18">−18</text>
<line x1="48.9" y1="616.5" x2="244" y2="616.5" stroke="#1a1a1a" stroke-width="1.3"/>
<line x1="62.5" y1="616" x2="62.5" y2="619" stroke="#1a1a1a" stroke-width="1"/>
<line x1="82.5" y1="616" x2="82.5" y2="619" stroke="#1a1a1a" stroke-width="1"/>
<line x1="102.5" y1="616" x2="102.5" y2="619" stroke="#1a1a1a" stroke-width="1"/>
<line x1="126.5" y1="616" x2="126.5" y2="619" stroke="#1a1a1a" stroke-width="1"/>
<line x1="146.5" y1="616" x2="146.5" y2="619" stroke="#1a1a1a" stroke-width="1"/>
<line x1="166.5" y1="616" x2="166.5" y2="619" stroke="#1a1a1a" stroke-width="1"/>
<line x1="190.5" y1="616" x2="190.5" y2="619" stroke="#1a1a1a" stroke-width="1"/>
<line x1="210.5" y1="616" x2="210.5" y2="619" stroke="#1a1a1a" stroke-width="1"/>
<line x1="230.5" y1="616" x2="230.5" y2="619" stroke="#1a1a1a" stroke-width="1"/>
<text x="27.6" y="550.8" font-size="8.3" text-anchor="middle" fill="#383838" stroke="#383838" stroke-width="0.06" transform="rotate(-90 27.6 550.8)" textLength="75" lengthAdjust="spacingAndGlyphs">Resting state power (dB)</text>
<text x="82.9" y="610.8" font-size="7.2" text-anchor="middle" fill="#333" stroke="#333" stroke-width="0.05" textLength="16.2" lengthAdjust="spacingAndGlyphs">Theta</text>
<text x="146.7" y="610.8" font-size="7.2" text-anchor="middle" fill="#333" stroke="#333" stroke-width="0.05" textLength="16.21" lengthAdjust="spacingAndGlyphs">Alpha</text>
<text x="210.8" y="610.8" font-size="7.2" text-anchor="middle" fill="#333" stroke="#333" stroke-width="0.05" textLength="13.03" lengthAdjust="spacingAndGlyphs">Beta</text>
<text x="65.1" y="625.3" font-size="7.6" text-anchor="end" fill="#2a2a2a" stroke="#2a2a2a" stroke-width="0.18" transform="rotate(-45 65.1 625.3)" textLength="32" lengthAdjust="spacingAndGlyphs">Sickle mice</text>
<text x="85.3" y="625.3" font-size="7.6" text-anchor="end" fill="#2a2a2a" stroke="#2a2a2a" stroke-width="0.18" transform="rotate(-45 85.3 625.3)" textLength="33" lengthAdjust="spacingAndGlyphs">14-day tFUS</text>
<text x="105.1" y="625.3" font-size="7.6" text-anchor="end" fill="#2a2a2a" stroke="#2a2a2a" stroke-width="0.18" transform="rotate(-45 105.1 625.3)" textLength="23.5" lengthAdjust="spacingAndGlyphs">WT mice</text>
<text x="129.1" y="625.3" font-size="7.6" text-anchor="end" fill="#2a2a2a" stroke="#2a2a2a" stroke-width="0.18" transform="rotate(-45 129.1 625.3)" textLength="32" lengthAdjust="spacingAndGlyphs">Sickle mice</text>
<text x="149.3" y="625.3" font-size="7.6" text-anchor="end" fill="#2a2a2a" stroke="#2a2a2a" stroke-width="0.18" transform="rotate(-45 149.3 625.3)" textLength="33" lengthAdjust="spacingAndGlyphs">14-day tFUS</text>
<text x="169.3" y="625.3" font-size="7.6" text-anchor="end" fill="#2a2a2a" stroke="#2a2a2a" stroke-width="0.18" transform="rotate(-45 169.3 625.3)" textLength="23.5" lengthAdjust="spacingAndGlyphs">WT mice</text>
<text x="193" y="625.3" font-size="7.6" text-anchor="end" fill="#2a2a2a" stroke="#2a2a2a" stroke-width="0.18" transform="rotate(-45 193 625.3)" textLength="32" lengthAdjust="spacingAndGlyphs">Sickle mice</text>
<text x="213.4" y="625.3" font-size="7.6" text-anchor="end" fill="#2a2a2a" stroke="#2a2a2a" stroke-width="0.18" transform="rotate(-45 213.4 625.3)" textLength="33" lengthAdjust="spacingAndGlyphs">14-day tFUS</text>
<text x="233.1" y="625.3" font-size="7.6" text-anchor="end" fill="#2a2a2a" stroke="#2a2a2a" stroke-width="0.18" transform="rotate(-45 233.1 625.3)" textLength="23.5" lengthAdjust="spacingAndGlyphs">WT mice</text>
<path d="M60.8 473.8 V470.5 H101.9 V473.8" stroke="#1a1a1a" stroke-width="1.1" fill="none"/>
<text x="81.35" y="466.4" font-size="6.9" text-anchor="middle" fill="#1a1a1a" textLength="3.3" lengthAdjust="spacingAndGlyphs" font-style="italic">#</text>
<path d="M60.8 486.8 V483.5 H81.5 V486.8" stroke="#1a1a1a" stroke-width="1.1" fill="none"/>
<text x="71.15" y="479.6" font-size="6.9" text-anchor="middle" fill="#1a1a1a" textLength="3.3" lengthAdjust="spacingAndGlyphs" font-style="italic">#</text>
<path d="M124.2 473.8 V470.5 H165.4 V473.8" stroke="#1a1a1a" stroke-width="1.1" fill="none"/>
<text x="144.8" y="466.4" font-size="6.9" text-anchor="middle" fill="#1a1a1a" textLength="3.3" lengthAdjust="spacingAndGlyphs" font-style="italic">#</text>
<path d="M124.2 486.8 V483.5 H145 V486.8" stroke="#1a1a1a" stroke-width="1.1" fill="none"/>
<text x="134.6" y="479.6" font-size="6.9" text-anchor="middle" fill="#1a1a1a" textLength="3.3" lengthAdjust="spacingAndGlyphs" font-style="italic">#</text>
<path d="M188.5 473.8 V470.5 H228.8 V473.8" stroke="#1a1a1a" stroke-width="1.1" fill="none"/>
<text x="208.65" y="466.4" font-size="6.9" text-anchor="middle" fill="#1a1a1a" textLength="3.3" lengthAdjust="spacingAndGlyphs" font-style="italic">#</text>
<path d="M188.5 486.8 V483.5 H208.5 V486.8" stroke="#1a1a1a" stroke-width="1.1" fill="none"/>
<text x="198.5" y="479.6" font-size="6.9" text-anchor="middle" fill="#1a1a1a" textLength="6.6" lengthAdjust="spacingAndGlyphs" font-style="italic">##</text>
<text x="272.5" y="444.8" font-size="10.9" text-anchor="start" fill="#000" font-weight="bold">F</text>
<text x="390.5" y="447.1" font-size="9.6" text-anchor="middle" fill="#2a2a2a" stroke="#2a2a2a" stroke-width="0.18" textLength="85" lengthAdjust="spacingAndGlyphs">Power after treatment</text>
<line x1="362.5" y1="487" x2="362.5" y2="616.5" stroke="#555" stroke-width="0.8" stroke-dasharray="1 1.3"/>
<line x1="418.5" y1="487" x2="418.5" y2="616.5" stroke="#555" stroke-width="0.8" stroke-dasharray="1 1.3"/>
<rect x="310.9" y="524.4" width="7.2" height="20.34" fill="#c80226"/>
<rect x="324" y="524.4" width="7.2" height="20.72" fill="#2aa9e0"/>
<rect x="337.5" y="524.4" width="7.2" height="26.09" fill="#c80226"/>
<rect x="350.9" y="524.4" width="7.2" height="26.86" fill="#2aa9e0"/>
<rect x="366.6" y="524.4" width="7.2" height="26.09" fill="#c80226"/>
<rect x="379.8" y="524.4" width="7.2" height="29.16" fill="#2aa9e0"/>
<rect x="393.7" y="524.4" width="7.2" height="33" fill="#c80226"/>
<rect x="407.1" y="524.4" width="7.2" height="33" fill="#2aa9e0"/>
<rect x="422.4" y="524.4" width="7.2" height="50.27" fill="#c80226"/>
<rect x="435.7" y="524.4" width="7.2" height="51.42" fill="#2aa9e0"/>
<rect x="449.4" y="524.4" width="7.2" height="60.25" fill="#c80226"/>
<rect x="462.8" y="524.4" width="7.2" height="59.48" fill="#2aa9e0"/>
<circle cx="314.5" cy="520.79" r="1.2" fill="rgba(0,0,0,0.65)" stroke="rgba(0,0,0,0.9)" stroke-width="0.6"/>
<circle cx="314.5" cy="524.4" r="1.2" fill="rgba(0,0,0,0.65)" stroke="rgba(0,0,0,0.9)" stroke-width="0.6"/>
<circle cx="314.5" cy="532.07" r="1.2" fill="rgba(0,0,0,0.65)" stroke="rgba(0,0,0,0.9)" stroke-width="0.6"/>
<circle cx="314.5" cy="541.28" r="1.2" fill="rgba(0,0,0,0.65)" stroke="rgba(0,0,0,0.9)" stroke-width="0.6"/>
<circle cx="314.5" cy="545.89" r="1.2" fill="rgba(0,0,0,0.65)" stroke="rgba(0,0,0,0.9)" stroke-width="0.6"/>
<circle cx="314.5" cy="552.8" r="1.2" fill="rgba(0,0,0,0.65)" stroke="rgba(0,0,0,0.9)" stroke-width="0.6"/>
<circle cx="317.3" cy="553.56" r="1.2" fill="rgba(0,0,0,0.65)" stroke="rgba(0,0,0,0.9)" stroke-width="0.6"/>
<circle cx="311.7" cy="555.1" r="1.2" fill="rgba(0,0,0,0.65)" stroke="rgba(0,0,0,0.9)" stroke-width="0.6"/>
<circle cx="314.5" cy="555.1" r="1.2" fill="rgba(0,0,0,0.65)" stroke="rgba(0,0,0,0.9)" stroke-width="0.6"/>
<circle cx="317.3" cy="556.63" r="1.2" fill="rgba(0,0,0,0.65)" stroke="rgba(0,0,0,0.9)" stroke-width="0.6"/>
<circle cx="314.5" cy="556.63" r="1.2" fill="rgba(0,0,0,0.65)" stroke="rgba(0,0,0,0.9)" stroke-width="0.6"/>
<circle cx="327.6" cy="510.82" r="1.2" fill="rgba(0,0,0,0.65)" stroke="rgba(0,0,0,0.9)" stroke-width="0.6"/>
<circle cx="327.6" cy="513.5" r="1.2" fill="rgba(0,0,0,0.65)" stroke="rgba(0,0,0,0.9)" stroke-width="0.6"/>
<circle cx="327.6" cy="516.19" r="1.2" fill="rgba(0,0,0,0.65)" stroke="rgba(0,0,0,0.9)" stroke-width="0.6"/>
<circle cx="327.6" cy="534.38" r="1.2" fill="rgba(0,0,0,0.65)" stroke="rgba(0,0,0,0.9)" stroke-width="0.6"/>
<circle cx="327.6" cy="541.28" r="1.2" fill="rgba(0,0,0,0.65)" stroke="rgba(0,0,0,0.9)" stroke-width="0.6"/>
<circle cx="327.6" cy="547.42" r="1.2" fill="rgba(0,0,0,0.65)" stroke="rgba(0,0,0,0.9)" stroke-width="0.6"/>
<circle cx="327.6" cy="551.26" r="1.2" fill="rgba(0,0,0,0.65)" stroke="rgba(0,0,0,0.9)" stroke-width="0.6"/>
<circle cx="330.4" cy="553.56" r="1.2" fill="rgba(0,0,0,0.65)" stroke="rgba(0,0,0,0.9)" stroke-width="0.6"/>
<circle cx="327.6" cy="555.87" r="1.2" fill="rgba(0,0,0,0.65)" stroke="rgba(0,0,0,0.9)" stroke-width="0.6"/>
<circle cx="324.8" cy="555.87" r="1.2" fill="rgba(0,0,0,0.65)" stroke="rgba(0,0,0,0.9)" stroke-width="0.6"/>
<circle cx="330.4" cy="558.17" r="1.2" fill="rgba(0,0,0,0.65)" stroke="rgba(0,0,0,0.9)" stroke-width="0.6"/>
<circle cx="327.6" cy="558.17" r="1.2" fill="rgba(0,0,0,0.65)" stroke="rgba(0,0,0,0.9)" stroke-width="0.6"/>
<circle cx="341.1" cy="535.91" r="1.2" fill="rgba(0,0,0,0.65)" stroke="rgba(0,0,0,0.9)" stroke-width="0.6"/>
<circle cx="341.1" cy="542.05" r="1.2" fill="rgba(0,0,0,0.65)" stroke="rgba(0,0,0,0.9)" stroke-width="0.6"/>
<circle cx="341.1" cy="549.73" r="1.2" fill="rgba(0,0,0,0.65)" stroke="rgba(0,0,0,0.9)" stroke-width="0.6"/>
<circle cx="341.1" cy="553.56" r="1.2" fill="rgba(0,0,0,0.65)" stroke="rgba(0,0,0,0.9)" stroke-width="0.6"/>
<circle cx="343.9" cy="555.87" r="1.2" fill="rgba(0,0,0,0.65)" stroke="rgba(0,0,0,0.9)" stroke-width="0.6"/>
<circle cx="338.3" cy="555.87" r="1.2" fill="rgba(0,0,0,0.65)" stroke="rgba(0,0,0,0.9)" stroke-width="0.6"/>
<circle cx="341.1" cy="558.17" r="1.2" fill="rgba(0,0,0,0.65)" stroke="rgba(0,0,0,0.9)" stroke-width="0.6"/>
<circle cx="343.9" cy="558.17" r="1.2" fill="rgba(0,0,0,0.65)" stroke="rgba(0,0,0,0.9)" stroke-width="0.6"/>
<circle cx="341.1" cy="562.01" r="1.2" fill="rgba(0,0,0,0.65)" stroke="rgba(0,0,0,0.9)" stroke-width="0.6"/>
<circle cx="354.5" cy="540.52" r="1.2" fill="rgba(0,0,0,0.65)" stroke="rgba(0,0,0,0.9)" stroke-width="0.6"/>
<circle cx="357.3" cy="542.82" r="1.2" fill="rgba(0,0,0,0.65)" stroke="rgba(0,0,0,0.9)" stroke-width="0.6"/>
<circle cx="354.5" cy="546.66" r="1.2" fill="rgba(0,0,0,0.65)" stroke="rgba(0,0,0,0.9)" stroke-width="0.6"/>
<circle cx="354.5" cy="551.26" r="1.2" fill="rgba(0,0,0,0.65)" stroke="rgba(0,0,0,0.9)" stroke-width="0.6"/>
<circle cx="354.5" cy="555.87" r="1.2" fill="rgba(0,0,0,0.65)" stroke="rgba(0,0,0,0.9)" stroke-width="0.6"/>
<circle cx="357.3" cy="555.87" r="1.2" fill="rgba(0,0,0,0.65)" stroke="rgba(0,0,0,0.9)" stroke-width="0.6"/>
<circle cx="351.7" cy="556.63" r="1.2" fill="rgba(0,0,0,0.65)" stroke="rgba(0,0,0,0.9)" stroke-width="0.6"/>
<circle cx="354.5" cy="558.94" r="1.2" fill="rgba(0,0,0,0.65)" stroke="rgba(0,0,0,0.9)" stroke-width="0.6"/>
<circle cx="357.3" cy="558.94" r="1.2" fill="rgba(0,0,0,0.65)" stroke="rgba(0,0,0,0.9)" stroke-width="0.6"/>
<circle cx="370.2" cy="532.07" r="1.2" fill="rgba(0,0,0,0.65)" stroke="rgba(0,0,0,0.9)" stroke-width="0.6"/>
<circle cx="370.2" cy="539.75" r="1.2" fill="rgba(0,0,0,0.65)" stroke="rgba(0,0,0,0.9)" stroke-width="0.6"/>
<circle cx="370.2" cy="547.42" r="1.2" fill="rgba(0,0,0,0.65)" stroke="rgba(0,0,0,0.9)" stroke-width="0.6"/>
<circle cx="373" cy="549.73" r="1.2" fill="rgba(0,0,0,0.65)" stroke="rgba(0,0,0,0.9)" stroke-width="0.6"/>
<circle cx="370.2" cy="560.47" r="1.2" fill="rgba(0,0,0,0.65)" stroke="rgba(0,0,0,0.9)" stroke-width="0.6"/>
<circle cx="373" cy="561.24" r="1.2" fill="rgba(0,0,0,0.65)" stroke="rgba(0,0,0,0.9)" stroke-width="0.6"/>
<circle cx="367.4" cy="561.24" r="1.2" fill="rgba(0,0,0,0.65)" stroke="rgba(0,0,0,0.9)" stroke-width="0.6"/>
<circle cx="370.2" cy="562.01" r="1.2" fill="rgba(0,0,0,0.65)" stroke="rgba(0,0,0,0.9)" stroke-width="0.6"/>
<circle cx="373" cy="562.77" r="1.2" fill="rgba(0,0,0,0.65)" stroke="rgba(0,0,0,0.9)" stroke-width="0.6"/>
<circle cx="367.4" cy="562.77" r="1.2" fill="rgba(0,0,0,0.65)" stroke="rgba(0,0,0,0.9)" stroke-width="0.6"/>
<circle cx="383.4" cy="535.91" r="1.2" fill="rgba(0,0,0,0.65)" stroke="rgba(0,0,0,0.9)" stroke-width="0.6"/>
<circle cx="383.4" cy="541.28" r="1.2" fill="rgba(0,0,0,0.65)" stroke="rgba(0,0,0,0.9)" stroke-width="0.6"/>
<circle cx="383.4" cy="547.42" r="1.2" fill="rgba(0,0,0,0.65)" stroke="rgba(0,0,0,0.9)" stroke-width="0.6"/>
<circle cx="383.4" cy="551.26" r="1.2" fill="rgba(0,0,0,0.65)" stroke="rgba(0,0,0,0.9)" stroke-width="0.6"/>
<circle cx="383.4" cy="557.4" r="1.2" fill="rgba(0,0,0,0.65)" stroke="rgba(0,0,0,0.9)" stroke-width="0.6"/>
<circle cx="383.4" cy="561.24" r="1.2" fill="rgba(0,0,0,0.65)" stroke="rgba(0,0,0,0.9)" stroke-width="0.6"/>
<circle cx="386.2" cy="562.01" r="1.2" fill="rgba(0,0,0,0.65)" stroke="rgba(0,0,0,0.9)" stroke-width="0.6"/>
<circle cx="380.6" cy="562.77" r="1.2" fill="rgba(0,0,0,0.65)" stroke="rgba(0,0,0,0.9)" stroke-width="0.6"/>
<circle cx="383.4" cy="562.77" r="1.2" fill="rgba(0,0,0,0.65)" stroke="rgba(0,0,0,0.9)" stroke-width="0.6"/>
<circle cx="386.2" cy="563.54" r="1.2" fill="rgba(0,0,0,0.65)" stroke="rgba(0,0,0,0.9)" stroke-width="0.6"/>
<circle cx="397.3" cy="539.75" r="1.2" fill="rgba(0,0,0,0.65)" stroke="rgba(0,0,0,0.9)" stroke-width="0.6"/>
<circle cx="397.3" cy="547.42" r="1.2" fill="rgba(0,0,0,0.65)" stroke="rgba(0,0,0,0.9)" stroke-width="0.6"/>
<circle cx="397.3" cy="556.63" r="1.2" fill="rgba(0,0,0,0.65)" stroke="rgba(0,0,0,0.9)" stroke-width="0.6"/>
<circle cx="397.3" cy="559.7" r="1.2" fill="rgba(0,0,0,0.65)" stroke="rgba(0,0,0,0.9)" stroke-width="0.6"/>
<circle cx="397.3" cy="564.31" r="1.2" fill="rgba(0,0,0,0.65)" stroke="rgba(0,0,0,0.9)" stroke-width="0.6"/>
<circle cx="400.1" cy="566.61" r="1.2" fill="rgba(0,0,0,0.65)" stroke="rgba(0,0,0,0.9)" stroke-width="0.6"/>
<circle cx="397.3" cy="568.91" r="1.2" fill="rgba(0,0,0,0.65)" stroke="rgba(0,0,0,0.9)" stroke-width="0.6"/>
<circle cx="410.7" cy="544.36" r="1.2" fill="rgba(0,0,0,0.65)" stroke="rgba(0,0,0,0.9)" stroke-width="0.6"/>
<circle cx="410.7" cy="547.42" r="1.2" fill="rgba(0,0,0,0.65)" stroke="rgba(0,0,0,0.9)" stroke-width="0.6"/>
<circle cx="410.7" cy="551.26" r="1.2" fill="rgba(0,0,0,0.65)" stroke="rgba(0,0,0,0.9)" stroke-width="0.6"/>
<circle cx="410.7" cy="555.1" r="1.2" fill="rgba(0,0,0,0.65)" stroke="rgba(0,0,0,0.9)" stroke-width="0.6"/>
<circle cx="410.7" cy="561.24" r="1.2" fill="rgba(0,0,0,0.65)" stroke="rgba(0,0,0,0.9)" stroke-width="0.6"/>
<circle cx="413.5" cy="561.24" r="1.2" fill="rgba(0,0,0,0.65)" stroke="rgba(0,0,0,0.9)" stroke-width="0.6"/>
<circle cx="407.9" cy="562.01" r="1.2" fill="rgba(0,0,0,0.65)" stroke="rgba(0,0,0,0.9)" stroke-width="0.6"/>
<circle cx="410.7" cy="562.77" r="1.2" fill="rgba(0,0,0,0.65)" stroke="rgba(0,0,0,0.9)" stroke-width="0.6"/>
<circle cx="426" cy="568.91" r="1.2" fill="rgba(0,0,0,0.65)" stroke="rgba(0,0,0,0.9)" stroke-width="0.6"/>
<circle cx="428.8" cy="570.45" r="1.2" fill="rgba(0,0,0,0.65)" stroke="rgba(0,0,0,0.9)" stroke-width="0.6"/>
<circle cx="426" cy="571.99" r="1.2" fill="rgba(0,0,0,0.65)" stroke="rgba(0,0,0,0.9)" stroke-width="0.6"/>
<circle cx="426" cy="578.89" r="1.2" fill="rgba(0,0,0,0.65)" stroke="rgba(0,0,0,0.9)" stroke-width="0.6"/>
<circle cx="428.8" cy="579.66" r="1.2" fill="rgba(0,0,0,0.65)" stroke="rgba(0,0,0,0.9)" stroke-width="0.6"/>
<circle cx="423.2" cy="580.43" r="1.2" fill="rgba(0,0,0,0.65)" stroke="rgba(0,0,0,0.9)" stroke-width="0.6"/>
<circle cx="426" cy="581.19" r="1.2" fill="rgba(0,0,0,0.65)" stroke="rgba(0,0,0,0.9)" stroke-width="0.6"/>
<circle cx="428.8" cy="581.96" r="1.2" fill="rgba(0,0,0,0.65)" stroke="rgba(0,0,0,0.9)" stroke-width="0.6"/>
<circle cx="439.3" cy="569.68" r="1.2" fill="rgba(0,0,0,0.65)" stroke="rgba(0,0,0,0.9)" stroke-width="0.6"/>
<circle cx="442.1" cy="571.22" r="1.2" fill="rgba(0,0,0,0.65)" stroke="rgba(0,0,0,0.9)" stroke-width="0.6"/>
<circle cx="439.3" cy="573.52" r="1.2" fill="rgba(0,0,0,0.65)" stroke="rgba(0,0,0,0.9)" stroke-width="0.6"/>
<circle cx="439.3" cy="576.59" r="1.2" fill="rgba(0,0,0,0.65)" stroke="rgba(0,0,0,0.9)" stroke-width="0.6"/>
<circle cx="439.3" cy="579.66" r="1.2" fill="rgba(0,0,0,0.65)" stroke="rgba(0,0,0,0.9)" stroke-width="0.6"/>
<circle cx="442.1" cy="580.43" r="1.2" fill="rgba(0,0,0,0.65)" stroke="rgba(0,0,0,0.9)" stroke-width="0.6"/>
<circle cx="436.5" cy="581.19" r="1.2" fill="rgba(0,0,0,0.65)" stroke="rgba(0,0,0,0.9)" stroke-width="0.6"/>
<circle cx="439.3" cy="581.96" r="1.2" fill="rgba(0,0,0,0.65)" stroke="rgba(0,0,0,0.9)" stroke-width="0.6"/>
<circle cx="453" cy="576.59" r="1.2" fill="rgba(0,0,0,0.65)" stroke="rgba(0,0,0,0.9)" stroke-width="0.6"/>
<circle cx="453" cy="582.73" r="1.2" fill="rgba(0,0,0,0.65)" stroke="rgba(0,0,0,0.9)" stroke-width="0.6"/>
<circle cx="455.8" cy="585.03" r="1.2" fill="rgba(0,0,0,0.65)" stroke="rgba(0,0,0,0.9)" stroke-width="0.6"/>
<circle cx="453" cy="586.57" r="1.2" fill="rgba(0,0,0,0.65)" stroke="rgba(0,0,0,0.9)" stroke-width="0.6"/>
<circle cx="455.8" cy="588.1" r="1.2" fill="rgba(0,0,0,0.65)" stroke="rgba(0,0,0,0.9)" stroke-width="0.6"/>
<circle cx="453" cy="589.64" r="1.2" fill="rgba(0,0,0,0.65)" stroke="rgba(0,0,0,0.9)" stroke-width="0.6"/>
<circle cx="466.4" cy="578.12" r="1.2" fill="rgba(0,0,0,0.65)" stroke="rgba(0,0,0,0.9)" stroke-width="0.6"/>
<circle cx="466.4" cy="581.19" r="1.2" fill="rgba(0,0,0,0.65)" stroke="rgba(0,0,0,0.9)" stroke-width="0.6"/>
<circle cx="466.4" cy="584.26" r="1.2" fill="rgba(0,0,0,0.65)" stroke="rgba(0,0,0,0.9)" stroke-width="0.6"/>
<circle cx="469.2" cy="585.03" r="1.2" fill="rgba(0,0,0,0.65)" stroke="rgba(0,0,0,0.9)" stroke-width="0.6"/>
<circle cx="463.6" cy="585.8" r="1.2" fill="rgba(0,0,0,0.65)" stroke="rgba(0,0,0,0.9)" stroke-width="0.6"/>
<circle cx="466.4" cy="585.8" r="1.2" fill="rgba(0,0,0,0.65)" stroke="rgba(0,0,0,0.9)" stroke-width="0.6"/>
<circle cx="469.2" cy="586.57" r="1.2" fill="rgba(0,0,0,0.65)" stroke="rgba(0,0,0,0.9)" stroke-width="0.6"/>
<line x1="314.5" y1="540.9" x2="314.5" y2="548.58" stroke="#111" stroke-width="1.0"/>
<line x1="327.5" y1="540.52" x2="327.5" y2="549.73" stroke="#111" stroke-width="1.0"/>
<line x1="341.5" y1="547.81" x2="341.5" y2="553.18" stroke="#111" stroke-width="1.0"/>
<line x1="354.5" y1="548.96" x2="354.5" y2="553.56" stroke="#111" stroke-width="1.0"/>
<line x1="370.5" y1="548.19" x2="370.5" y2="552.8" stroke="#111" stroke-width="1.0"/>
<line x1="383.5" y1="550.88" x2="383.5" y2="556.25" stroke="#111" stroke-width="1.0"/>
<line x1="397.5" y1="554.33" x2="397.5" y2="560.47" stroke="#111" stroke-width="1.0"/>
<line x1="410.5" y1="555.1" x2="410.5" y2="559.7" stroke="#111" stroke-width="1.0"/>
<line x1="426.5" y1="573.14" x2="426.5" y2="576.21" stroke="#111" stroke-width="1.0"/>
<line x1="439.5" y1="573.9" x2="439.5" y2="577.74" stroke="#111" stroke-width="1.0"/>
<line x1="453.5" y1="583.11" x2="453.5" y2="586.18" stroke="#111" stroke-width="1.0"/>
<line x1="466.5" y1="582.73" x2="466.5" y2="585.03" stroke="#111" stroke-width="1.0"/>
<line x1="306.3" y1="524.5" x2="474.6" y2="524.5" stroke="#1a1a1a" stroke-width="1.2"/>
<line x1="306.5" y1="486" x2="306.5" y2="617.1" stroke="#1a1a1a" stroke-width="1.3"/>
<line x1="303.3" y1="493.5" x2="306.3" y2="493.5" stroke="#1a1a1a" stroke-width="1"/>
<text x="301" y="496" font-size="6.6" text-anchor="end" fill="#2a2a2a" stroke="#2a2a2a" stroke-width="0.18">4</text>
<line x1="303.3" y1="509.5" x2="306.3" y2="509.5" stroke="#1a1a1a" stroke-width="1"/>
<text x="301" y="511.35" font-size="6.6" text-anchor="end" fill="#2a2a2a" stroke="#2a2a2a" stroke-width="0.18">2</text>
<line x1="303.3" y1="524.5" x2="306.3" y2="524.5" stroke="#1a1a1a" stroke-width="1"/>
<text x="301" y="526.7" font-size="6.6" text-anchor="end" fill="#2a2a2a" stroke="#2a2a2a" stroke-width="0.18">0</text>
<line x1="303.3" y1="539.5" x2="306.3" y2="539.5" stroke="#1a1a1a" stroke-width="1"/>
<text x="301" y="542.05" font-size="6.6" text-anchor="end" fill="#2a2a2a" stroke="#2a2a2a" stroke-width="0.18">−2</text>
<line x1="303.3" y1="555.5" x2="306.3" y2="555.5" stroke="#1a1a1a" stroke-width="1"/>
<text x="301" y="557.4" font-size="6.6" text-anchor="end" fill="#2a2a2a" stroke="#2a2a2a" stroke-width="0.18">−4</text>
<line x1="303.3" y1="570.5" x2="306.3" y2="570.5" stroke="#1a1a1a" stroke-width="1"/>
<text x="301" y="572.75" font-size="6.6" text-anchor="end" fill="#2a2a2a" stroke="#2a2a2a" stroke-width="0.18">−6</text>
<line x1="303.3" y1="585.5" x2="306.3" y2="585.5" stroke="#1a1a1a" stroke-width="1"/>
<text x="301" y="588.1" font-size="6.6" text-anchor="end" fill="#2a2a2a" stroke="#2a2a2a" stroke-width="0.18">−8</text>
<line x1="303.3" y1="601.5" x2="306.3" y2="601.5" stroke="#1a1a1a" stroke-width="1"/>
<text x="301" y="603.45" font-size="6.6" text-anchor="end" fill="#2a2a2a" stroke="#2a2a2a" stroke-width="0.18">−10</text>
<line x1="303.3" y1="616.5" x2="306.3" y2="616.5" stroke="#1a1a1a" stroke-width="1"/>
<text x="301" y="618.8" font-size="6.6" text-anchor="end" fill="#2a2a2a" stroke="#2a2a2a" stroke-width="0.18">−12</text>
<line x1="305.7" y1="616.5" x2="474.6" y2="616.5" stroke="#1a1a1a" stroke-width="1.3"/>
<line x1="314.5" y1="616.5" x2="314.5" y2="619.5" stroke="#1a1a1a" stroke-width="1"/>
<line x1="327.5" y1="616.5" x2="327.5" y2="619.5" stroke="#1a1a1a" stroke-width="1"/>
<line x1="341.5" y1="616.5" x2="341.5" y2="619.5" stroke="#1a1a1a" stroke-width="1"/>
<line x1="354.5" y1="616.5" x2="354.5" y2="619.5" stroke="#1a1a1a" stroke-width="1"/>
<line x1="370.5" y1="616.5" x2="370.5" y2="619.5" stroke="#1a1a1a" stroke-width="1"/>
<line x1="383.5" y1="616.5" x2="383.5" y2="619.5" stroke="#1a1a1a" stroke-width="1"/>
<line x1="397.5" y1="616.5" x2="397.5" y2="619.5" stroke="#1a1a1a" stroke-width="1"/>
<line x1="410.5" y1="616.5" x2="410.5" y2="619.5" stroke="#1a1a1a" stroke-width="1"/>
<line x1="426.5" y1="616.5" x2="426.5" y2="619.5" stroke="#1a1a1a" stroke-width="1"/>
<line x1="439.5" y1="616.5" x2="439.5" y2="619.5" stroke="#1a1a1a" stroke-width="1"/>
<line x1="453.5" y1="616.5" x2="453.5" y2="619.5" stroke="#1a1a1a" stroke-width="1"/>
<line x1="466.5" y1="616.5" x2="466.5" y2="619.5" stroke="#1a1a1a" stroke-width="1"/>
<text x="284.3" y="550" font-size="8.3" text-anchor="middle" fill="#383838" stroke="#383838" stroke-width="0.06" transform="rotate(-90 284.3 550)" textLength="79" lengthAdjust="spacingAndGlyphs">Power after treatment (dB)</text>
<text x="335.2" y="611.1" font-size="7.2" text-anchor="middle" fill="#333" stroke="#333" stroke-width="0.05" textLength="16.2" lengthAdjust="spacingAndGlyphs">Theta</text>
<text x="390.7" y="611.1" font-size="7.2" text-anchor="middle" fill="#333" stroke="#333" stroke-width="0.05" textLength="16.21" lengthAdjust="spacingAndGlyphs">Alpha</text>
<text x="441.9" y="611.1" font-size="7.2" text-anchor="middle" fill="#333" stroke="#333" stroke-width="0.05" textLength="13.03" lengthAdjust="spacingAndGlyphs">Beta</text>
<text x="317.1" y="625.8" font-size="7.6" text-anchor="end" fill="#2a2a2a" stroke="#2a2a2a" stroke-width="0.18" transform="rotate(-45 317.1 625.8)" textLength="16.75" lengthAdjust="spacingAndGlyphs">1-day</text>
<text x="330.2" y="625.8" font-size="7.6" text-anchor="end" fill="#2a2a2a" stroke="#2a2a2a" stroke-width="0.18" transform="rotate(-45 330.2 625.8)" textLength="16.75" lengthAdjust="spacingAndGlyphs">1-day</text>
<text x="343.7" y="625.8" font-size="7.6" text-anchor="end" fill="#2a2a2a" stroke="#2a2a2a" stroke-width="0.18" transform="rotate(-45 343.7 625.8)" textLength="20.47" lengthAdjust="spacingAndGlyphs">14-day</text>
<text x="357.1" y="625.8" font-size="7.6" text-anchor="end" fill="#2a2a2a" stroke="#2a2a2a" stroke-width="0.18" transform="rotate(-45 357.1 625.8)" textLength="20.47" lengthAdjust="spacingAndGlyphs">14-day</text>
<text x="372.8" y="625.8" font-size="7.6" text-anchor="end" fill="#2a2a2a" stroke="#2a2a2a" stroke-width="0.18" transform="rotate(-45 372.8 625.8)" textLength="16.75" lengthAdjust="spacingAndGlyphs">1-day</text>
<text x="386" y="625.8" font-size="7.6" text-anchor="end" fill="#2a2a2a" stroke="#2a2a2a" stroke-width="0.18" transform="rotate(-45 386 625.8)" textLength="16.75" lengthAdjust="spacingAndGlyphs">1-day</text>
<text x="399.9" y="625.8" font-size="7.6" text-anchor="end" fill="#2a2a2a" stroke="#2a2a2a" stroke-width="0.18" transform="rotate(-45 399.9 625.8)" textLength="20.47" lengthAdjust="spacingAndGlyphs">14-day</text>
<text x="413.3" y="625.8" font-size="7.6" text-anchor="end" fill="#2a2a2a" stroke="#2a2a2a" stroke-width="0.18" transform="rotate(-45 413.3 625.8)" textLength="20.47" lengthAdjust="spacingAndGlyphs">14-day</text>
<text x="428.6" y="625.8" font-size="7.6" text-anchor="end" fill="#2a2a2a" stroke="#2a2a2a" stroke-width="0.18" transform="rotate(-45 428.6 625.8)" textLength="16.75" lengthAdjust="spacingAndGlyphs">1-day</text>
<text x="441.9" y="625.8" font-size="7.6" text-anchor="end" fill="#2a2a2a" stroke="#2a2a2a" stroke-width="0.18" transform="rotate(-45 441.9 625.8)" textLength="16.75" lengthAdjust="spacingAndGlyphs">1-day</text>
<text x="455.6" y="625.8" font-size="7.6" text-anchor="end" fill="#2a2a2a" stroke="#2a2a2a" stroke-width="0.18" transform="rotate(-45 455.6 625.8)" textLength="20.47" lengthAdjust="spacingAndGlyphs">14-day</text>
<text x="469" y="625.8" font-size="7.6" text-anchor="end" fill="#2a2a2a" stroke="#2a2a2a" stroke-width="0.18" transform="rotate(-45 469 625.8)" textLength="20.47" lengthAdjust="spacingAndGlyphs">14-day</text>
<line x1="315.6" y1="495.5" x2="352.6" y2="495.5" stroke="#1a1a1a" stroke-width="1"/>
<text x="334" y="492.4" font-size="7" text-anchor="middle" fill="#2a2a2a" stroke="#2a2a2a" stroke-width="0.18">ns</text>
<path d="M371 471.8 V468.5 H411.5 V471.8" stroke="#1a1a1a" stroke-width="1.1" fill="none"/>
<text x="391.25" y="465.9" font-size="6.9" text-anchor="middle" fill="#1a1a1a" textLength="3.3" lengthAdjust="spacingAndGlyphs" font-style="italic">#</text>
<path d="M380.3 484.8 V481.5 H411.5 V484.8" stroke="#1a1a1a" stroke-width="1.1" fill="none"/>
<text x="395.9" y="478.7" font-size="6.9" text-anchor="middle" fill="#1a1a1a" textLength="3.3" lengthAdjust="spacingAndGlyphs" font-style="italic">#</text>
<path d="M371 497.8 V494.5 H397.6 V497.8" stroke="#1a1a1a" stroke-width="1.1" fill="none"/>
<text x="384.3" y="491.2" font-size="6.9" text-anchor="middle" fill="#1a1a1a" textLength="3.3" lengthAdjust="spacingAndGlyphs" font-style="italic">#</text>
<path d="M437.8 459.8 V456.5 H466.9 V459.8" stroke="#1a1a1a" stroke-width="1.1" fill="none"/>
<text x="452.35" y="454" font-size="6.9" text-anchor="middle" fill="#1a1a1a" textLength="3.3" lengthAdjust="spacingAndGlyphs" font-style="italic">#</text>
<path d="M438.1 471.8 V468.5 H452.5 V471.8" stroke="#1a1a1a" stroke-width="1.1" fill="none"/>
<text x="445.3" y="465.9" font-size="6.9" text-anchor="middle" fill="#1a1a1a" textLength="3.3" lengthAdjust="spacingAndGlyphs" font-style="italic">#</text>
<path d="M425.2 484.8 V481.5 H466.2 V484.8" stroke="#1a1a1a" stroke-width="1.1" fill="none"/>
<text x="445.7" y="478.7" font-size="6.9" text-anchor="middle" fill="#1a1a1a" textLength="3.3" lengthAdjust="spacingAndGlyphs" font-style="italic">#</text>
<path d="M425.2 497.8 V494.5 H452.5 V497.8" stroke="#1a1a1a" stroke-width="1.1" fill="none"/>
<text x="438.85" y="491.2" font-size="6.9" text-anchor="middle" fill="#1a1a1a" textLength="3.3" lengthAdjust="spacingAndGlyphs" font-style="italic">#</text>
<rect x="317" y="579.4" width="9" height="4.2" fill="#c80226"/>
<rect x="317" y="589.8" width="9" height="4.2" fill="#2aa9e0"/>
<text x="329.5" y="583.6" font-size="7.3" text-anchor="start" fill="#2a2a2a" stroke="#2a2a2a" stroke-width="0.18" textLength="48.6" lengthAdjust="spacingAndGlyphs">Negative control</text>
<text x="329.5" y="594" font-size="7.3" text-anchor="start" fill="#2a2a2a" stroke="#2a2a2a" stroke-width="0.18" textLength="67.2" lengthAdjust="spacingAndGlyphs">tFUS with PRF of 40 Hz</text>
</svg></body></html>
